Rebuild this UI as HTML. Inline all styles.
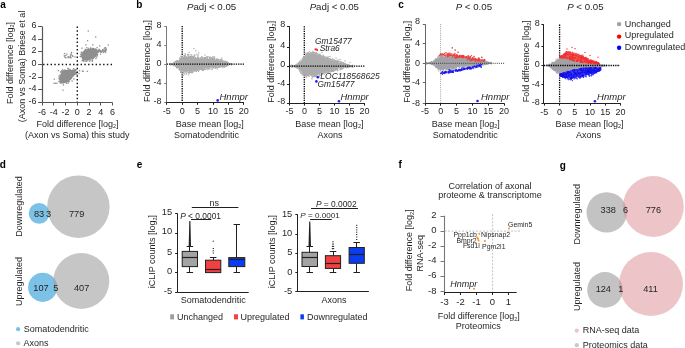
<!DOCTYPE html><html><head><meta charset="utf-8"><style>html,body{margin:0;padding:0;background:#fff;overflow:hidden}svg{display:block;will-change:transform}text{font-family:"Liberation Sans",sans-serif}</style></head><body><svg width="685" height="348" viewBox="0 0 685 348" font-family='"Liberation Sans", sans-serif'>
<rect width="685" height="348" fill="#fff"/>
<text x="0.20" y="8.00" font-size="10" text-anchor="start" font-weight="bold" fill="#000">a</text>
<text x="136.30" y="8.00" font-size="10" text-anchor="start" font-weight="bold" fill="#000">b</text>
<text x="398.20" y="8.20" font-size="10" text-anchor="start" font-weight="bold" fill="#000">c</text>
<text x="-0.30" y="168.00" font-size="10" text-anchor="start" font-weight="bold" fill="#000">d</text>
<text x="136.70" y="168.00" font-size="10" text-anchor="start" font-weight="bold" fill="#000">e</text>
<text x="398.60" y="168.00" font-size="10" text-anchor="start" font-weight="bold" fill="#000">f</text>
<text x="559.80" y="169.00" font-size="10" text-anchor="start" font-weight="bold" fill="#000">g</text>
<path d="M81.13,57.07 L82.60,53.20 L86.04,50.19 L90.77,49.33 L95.50,48.90 L98.08,51.05 L96.79,55.35 L92.49,58.79 L87.33,60.34 L82.60,60.08Z" fill="#8f8f8f"/>
<rect x="80.05" y="54.08" width="1.30" height="1.30" fill="#8f8f8f"/>
<rect x="87.62" y="47.67" width="1.30" height="1.30" fill="#8f8f8f"/>
<rect x="87.43" y="58.75" width="1.30" height="1.30" fill="#8f8f8f"/>
<rect x="84.72" y="48.76" width="1.30" height="1.30" fill="#8f8f8f"/>
<rect x="85.10" y="58.60" width="1.30" height="1.30" fill="#8f8f8f"/>
<rect x="89.92" y="47.57" width="1.30" height="1.30" fill="#8f8f8f"/>
<rect x="94.13" y="48.87" width="1.30" height="1.30" fill="#8f8f8f"/>
<rect x="94.28" y="55.04" width="1.30" height="1.30" fill="#8f8f8f"/>
<rect x="96.52" y="51.24" width="1.30" height="1.30" fill="#8f8f8f"/>
<rect x="94.36" y="48.54" width="1.30" height="1.30" fill="#8f8f8f"/>
<rect x="83.87" y="52.37" width="1.30" height="1.30" fill="#8f8f8f"/>
<rect x="96.29" y="50.73" width="1.30" height="1.30" fill="#8f8f8f"/>
<rect x="82.15" y="51.63" width="1.30" height="1.30" fill="#8f8f8f"/>
<rect x="91.25" y="48.82" width="1.30" height="1.30" fill="#8f8f8f"/>
<rect x="83.97" y="51.74" width="1.30" height="1.30" fill="#8f8f8f"/>
<rect x="84.22" y="58.78" width="1.30" height="1.30" fill="#8f8f8f"/>
<rect x="89.52" y="48.80" width="1.30" height="1.30" fill="#8f8f8f"/>
<rect x="84.14" y="52.02" width="1.30" height="1.30" fill="#8f8f8f"/>
<rect x="82.25" y="57.95" width="1.30" height="1.30" fill="#8f8f8f"/>
<rect x="89.61" y="58.05" width="1.30" height="1.30" fill="#8f8f8f"/>
<rect x="85.52" y="49.92" width="1.30" height="1.30" fill="#8f8f8f"/>
<rect x="86.05" y="47.07" width="1.30" height="1.30" fill="#8f8f8f"/>
<rect x="84.51" y="50.44" width="1.30" height="1.30" fill="#8f8f8f"/>
<rect x="86.23" y="49.88" width="1.30" height="1.30" fill="#8f8f8f"/>
<rect x="88.51" y="49.26" width="1.30" height="1.30" fill="#8f8f8f"/>
<rect x="95.52" y="49.74" width="1.30" height="1.30" fill="#8f8f8f"/>
<rect x="83.96" y="50.94" width="1.30" height="1.30" fill="#8f8f8f"/>
<rect x="81.52" y="59.97" width="1.30" height="1.30" fill="#8f8f8f"/>
<rect x="82.36" y="53.58" width="1.30" height="1.30" fill="#8f8f8f"/>
<rect x="90.07" y="58.13" width="1.30" height="1.30" fill="#8f8f8f"/>
<rect x="81.02" y="54.85" width="1.30" height="1.30" fill="#8f8f8f"/>
<rect x="82.00" y="57.13" width="1.30" height="1.30" fill="#8f8f8f"/>
<rect x="92.18" y="48.74" width="1.30" height="1.30" fill="#8f8f8f"/>
<rect x="85.71" y="49.52" width="1.30" height="1.30" fill="#8f8f8f"/>
<rect x="92.99" y="47.96" width="1.30" height="1.30" fill="#8f8f8f"/>
<rect x="97.55" y="50.57" width="1.30" height="1.30" fill="#8f8f8f"/>
<rect x="82.95" y="51.22" width="1.30" height="1.30" fill="#8f8f8f"/>
<rect x="88.96" y="49.25" width="1.30" height="1.30" fill="#8f8f8f"/>
<rect x="82.70" y="53.60" width="1.30" height="1.30" fill="#8f8f8f"/>
<rect x="95.69" y="52.40" width="1.30" height="1.30" fill="#8f8f8f"/>
<rect x="93.12" y="55.96" width="1.30" height="1.30" fill="#8f8f8f"/>
<rect x="83.76" y="50.94" width="1.30" height="1.30" fill="#8f8f8f"/>
<rect x="82.06" y="53.18" width="1.30" height="1.30" fill="#8f8f8f"/>
<rect x="89.01" y="49.59" width="1.30" height="1.30" fill="#8f8f8f"/>
<rect x="80.69" y="52.50" width="1.30" height="1.30" fill="#8f8f8f"/>
<rect x="94.00" y="56.28" width="1.30" height="1.30" fill="#8f8f8f"/>
<rect x="93.47" y="56.07" width="1.30" height="1.30" fill="#8f8f8f"/>
<rect x="91.52" y="57.39" width="1.30" height="1.30" fill="#8f8f8f"/>
<rect x="95.24" y="48.69" width="1.30" height="1.30" fill="#8f8f8f"/>
<rect x="92.66" y="57.88" width="1.30" height="1.30" fill="#8f8f8f"/>
<rect x="91.83" y="47.78" width="1.30" height="1.30" fill="#8f8f8f"/>
<rect x="92.42" y="56.78" width="1.30" height="1.30" fill="#8f8f8f"/>
<rect x="83.11" y="60.49" width="1.30" height="1.30" fill="#8f8f8f"/>
<rect x="90.60" y="48.73" width="1.30" height="1.30" fill="#8f8f8f"/>
<rect x="95.41" y="54.10" width="1.30" height="1.30" fill="#8f8f8f"/>
<rect x="96.97" y="53.77" width="1.30" height="1.30" fill="#8f8f8f"/>
<rect x="85.25" y="58.95" width="1.30" height="1.30" fill="#8f8f8f"/>
<rect x="97.04" y="50.89" width="1.30" height="1.30" fill="#8f8f8f"/>
<rect x="84.64" y="60.35" width="1.30" height="1.30" fill="#8f8f8f"/>
<rect x="82.71" y="52.12" width="1.30" height="1.30" fill="#8f8f8f"/>
<rect x="94.04" y="56.08" width="1.30" height="1.30" fill="#8f8f8f"/>
<rect x="81.45" y="53.56" width="1.30" height="1.30" fill="#8f8f8f"/>
<rect x="86.83" y="49.10" width="1.30" height="1.30" fill="#8f8f8f"/>
<rect x="83.07" y="59.91" width="1.30" height="1.30" fill="#8f8f8f"/>
<rect x="87.95" y="48.69" width="1.30" height="1.30" fill="#8f8f8f"/>
<rect x="80.71" y="51.66" width="1.30" height="1.30" fill="#8f8f8f"/>
<rect x="81.42" y="54.02" width="1.30" height="1.30" fill="#8f8f8f"/>
<rect x="91.57" y="59.28" width="1.30" height="1.30" fill="#8f8f8f"/>
<rect x="84.34" y="50.29" width="1.30" height="1.30" fill="#8f8f8f"/>
<rect x="96.47" y="46.97" width="1.30" height="1.30" fill="#8f8f8f"/>
<rect x="98.47" y="50.29" width="1.30" height="1.30" fill="#8f8f8f"/>
<rect x="81.99" y="54.30" width="1.30" height="1.30" fill="#8f8f8f"/>
<rect x="91.92" y="57.85" width="1.30" height="1.30" fill="#8f8f8f"/>
<rect x="92.96" y="48.29" width="1.30" height="1.30" fill="#8f8f8f"/>
<rect x="86.70" y="49.92" width="1.30" height="1.30" fill="#8f8f8f"/>
<rect x="96.69" y="53.61" width="1.30" height="1.30" fill="#8f8f8f"/>
<rect x="97.52" y="49.97" width="1.30" height="1.30" fill="#8f8f8f"/>
<rect x="92.63" y="49.55" width="1.30" height="1.30" fill="#8f8f8f"/>
<rect x="95.40" y="50.03" width="1.30" height="1.30" fill="#8f8f8f"/>
<rect x="86.81" y="49.77" width="1.30" height="1.30" fill="#8f8f8f"/>
<rect x="98.50" y="48.73" width="1.30" height="1.30" fill="#8f8f8f"/>
<rect x="97.65" y="51.47" width="1.30" height="1.30" fill="#8f8f8f"/>
<rect x="85.96" y="60.64" width="1.30" height="1.30" fill="#8f8f8f"/>
<rect x="97.40" y="49.48" width="1.30" height="1.30" fill="#8f8f8f"/>
<rect x="95.24" y="57.87" width="1.30" height="1.30" fill="#8f8f8f"/>
<rect x="96.98" y="51.61" width="1.30" height="1.30" fill="#8f8f8f"/>
<rect x="85.26" y="50.68" width="1.30" height="1.30" fill="#8f8f8f"/>
<rect x="91.65" y="60.46" width="1.30" height="1.30" fill="#8f8f8f"/>
<rect x="88.82" y="60.24" width="1.30" height="1.30" fill="#8f8f8f"/>
<rect x="94.45" y="55.54" width="1.30" height="1.30" fill="#8f8f8f"/>
<rect x="87.89" y="50.08" width="1.30" height="1.30" fill="#8f8f8f"/>
<rect x="92.46" y="57.60" width="1.30" height="1.30" fill="#8f8f8f"/>
<rect x="95.94" y="56.38" width="1.30" height="1.30" fill="#8f8f8f"/>
<rect x="83.87" y="50.24" width="1.30" height="1.30" fill="#8f8f8f"/>
<rect x="96.69" y="55.12" width="1.30" height="1.30" fill="#8f8f8f"/>
<rect x="83.54" y="58.48" width="1.30" height="1.30" fill="#8f8f8f"/>
<rect x="88.45" y="58.64" width="1.30" height="1.30" fill="#8f8f8f"/>
<rect x="86.38" y="59.33" width="1.30" height="1.30" fill="#8f8f8f"/>
<rect x="83.27" y="52.05" width="1.30" height="1.30" fill="#8f8f8f"/>
<rect x="92.55" y="49.36" width="1.30" height="1.30" fill="#8f8f8f"/>
<rect x="85.17" y="49.63" width="1.30" height="1.30" fill="#8f8f8f"/>
<rect x="89.92" y="47.58" width="1.30" height="1.30" fill="#8f8f8f"/>
<rect x="91.76" y="47.98" width="1.30" height="1.30" fill="#8f8f8f"/>
<rect x="84.59" y="51.15" width="1.30" height="1.30" fill="#8f8f8f"/>
<rect x="87.42" y="58.66" width="1.30" height="1.30" fill="#8f8f8f"/>
<rect x="87.07" y="59.57" width="1.30" height="1.30" fill="#8f8f8f"/>
<rect x="91.79" y="59.97" width="1.30" height="1.30" fill="#8f8f8f"/>
<rect x="89.05" y="48.79" width="1.30" height="1.30" fill="#8f8f8f"/>
<rect x="89.38" y="60.20" width="1.30" height="1.30" fill="#8f8f8f"/>
<rect x="88.76" y="58.43" width="1.30" height="1.30" fill="#8f8f8f"/>
<rect x="98.36" y="49.54" width="1.30" height="1.30" fill="#8f8f8f"/>
<rect x="82.11" y="58.15" width="1.30" height="1.30" fill="#8f8f8f"/>
<rect x="83.36" y="52.57" width="1.30" height="1.30" fill="#8f8f8f"/>
<rect x="83.28" y="52.50" width="1.30" height="1.30" fill="#8f8f8f"/>
<rect x="81.26" y="55.43" width="1.30" height="1.30" fill="#8f8f8f"/>
<rect x="88.74" y="50.09" width="1.30" height="1.30" fill="#8f8f8f"/>
<rect x="82.50" y="53.58" width="1.30" height="1.30" fill="#8f8f8f"/>
<rect x="79.71" y="55.97" width="1.30" height="1.30" fill="#8f8f8f"/>
<rect x="82.08" y="59.77" width="1.30" height="1.30" fill="#8f8f8f"/>
<rect x="95.31" y="48.75" width="1.30" height="1.30" fill="#8f8f8f"/>
<rect x="102.89" y="51.29" width="1.20" height="1.20" fill="#8f8f8f"/>
<rect x="99.62" y="51.31" width="1.20" height="1.20" fill="#8f8f8f"/>
<rect x="103.58" y="49.94" width="1.20" height="1.20" fill="#8f8f8f"/>
<rect x="105.06" y="51.72" width="1.20" height="1.20" fill="#8f8f8f"/>
<rect x="104.79" y="50.59" width="1.20" height="1.20" fill="#8f8f8f"/>
<rect x="99.86" y="50.02" width="1.20" height="1.20" fill="#8f8f8f"/>
<rect x="103.62" y="48.09" width="1.20" height="1.20" fill="#8f8f8f"/>
<rect x="99.68" y="50.07" width="1.20" height="1.20" fill="#8f8f8f"/>
<rect x="102.03" y="49.04" width="1.20" height="1.20" fill="#8f8f8f"/>
<rect x="105.23" y="48.86" width="1.20" height="1.20" fill="#8f8f8f"/>
<rect x="99.91" y="53.51" width="1.20" height="1.20" fill="#8f8f8f"/>
<rect x="100.53" y="51.36" width="1.20" height="1.20" fill="#8f8f8f"/>
<rect x="101.67" y="49.95" width="1.20" height="1.20" fill="#8f8f8f"/>
<rect x="102.31" y="49.03" width="1.20" height="1.20" fill="#8f8f8f"/>
<rect x="98.16" y="50.66" width="1.20" height="1.20" fill="#8f8f8f"/>
<rect x="101.88" y="50.51" width="1.20" height="1.20" fill="#8f8f8f"/>
<rect x="103.41" y="49.97" width="1.20" height="1.20" fill="#8f8f8f"/>
<rect x="99.41" y="50.22" width="1.20" height="1.20" fill="#8f8f8f"/>
<rect x="103.48" y="50.65" width="1.20" height="1.20" fill="#8f8f8f"/>
<rect x="101.48" y="50.28" width="1.20" height="1.20" fill="#8f8f8f"/>
<rect x="104.32" y="49.40" width="1.20" height="1.20" fill="#8f8f8f"/>
<rect x="104.17" y="50.45" width="1.20" height="1.20" fill="#8f8f8f"/>
<rect x="103.26" y="52.09" width="1.20" height="1.20" fill="#8f8f8f"/>
<rect x="100.20" y="50.50" width="1.20" height="1.20" fill="#8f8f8f"/>
<rect x="99.32" y="50.11" width="1.20" height="1.20" fill="#8f8f8f"/>
<rect x="102.31" y="51.21" width="1.20" height="1.20" fill="#8f8f8f"/>
<rect x="105.43" y="50.31" width="1.20" height="1.20" fill="#8f8f8f"/>
<rect x="104.22" y="47.22" width="1.20" height="1.20" fill="#8f8f8f"/>
<rect x="100.53" y="51.76" width="1.20" height="1.20" fill="#8f8f8f"/>
<rect x="105.67" y="48.99" width="1.20" height="1.20" fill="#8f8f8f"/>
<rect x="99.47" y="50.81" width="1.20" height="1.20" fill="#8f8f8f"/>
<rect x="99.66" y="49.86" width="1.20" height="1.20" fill="#8f8f8f"/>
<rect x="105.38" y="47.84" width="1.20" height="1.20" fill="#8f8f8f"/>
<rect x="105.16" y="49.60" width="1.20" height="1.20" fill="#8f8f8f"/>
<rect x="100.58" y="51.67" width="1.20" height="1.20" fill="#8f8f8f"/>
<path d="M63.28,70.28 L75.37,69.72 L75.55,72.79 L71.65,77.91 L67.46,82.09 L62.81,83.67 L59.37,81.16 L60.02,75.58Z" fill="#8f8f8f"/>
<rect x="58.25" y="80.83" width="1.30" height="1.30" fill="#8f8f8f"/>
<rect x="71.56" y="75.45" width="1.30" height="1.30" fill="#8f8f8f"/>
<rect x="71.50" y="75.23" width="1.30" height="1.30" fill="#8f8f8f"/>
<rect x="65.57" y="80.99" width="1.30" height="1.30" fill="#8f8f8f"/>
<rect x="74.18" y="73.11" width="1.30" height="1.30" fill="#8f8f8f"/>
<rect x="63.80" y="69.90" width="1.30" height="1.30" fill="#8f8f8f"/>
<rect x="58.39" y="77.60" width="1.30" height="1.30" fill="#8f8f8f"/>
<rect x="75.42" y="69.31" width="1.30" height="1.30" fill="#8f8f8f"/>
<rect x="61.09" y="72.94" width="1.30" height="1.30" fill="#8f8f8f"/>
<rect x="65.58" y="80.73" width="1.30" height="1.30" fill="#8f8f8f"/>
<rect x="73.83" y="69.03" width="1.30" height="1.30" fill="#8f8f8f"/>
<rect x="75.41" y="72.34" width="1.30" height="1.30" fill="#8f8f8f"/>
<rect x="70.68" y="76.02" width="1.30" height="1.30" fill="#8f8f8f"/>
<rect x="59.25" y="78.39" width="1.30" height="1.30" fill="#8f8f8f"/>
<rect x="74.25" y="71.48" width="1.30" height="1.30" fill="#8f8f8f"/>
<rect x="71.50" y="70.38" width="1.30" height="1.30" fill="#8f8f8f"/>
<rect x="65.62" y="80.74" width="1.30" height="1.30" fill="#8f8f8f"/>
<rect x="68.35" y="69.63" width="1.30" height="1.30" fill="#8f8f8f"/>
<rect x="66.07" y="82.65" width="1.30" height="1.30" fill="#8f8f8f"/>
<rect x="60.83" y="72.64" width="1.30" height="1.30" fill="#8f8f8f"/>
<rect x="67.24" y="70.23" width="1.30" height="1.30" fill="#8f8f8f"/>
<rect x="63.48" y="70.72" width="1.30" height="1.30" fill="#8f8f8f"/>
<rect x="69.48" y="69.30" width="1.30" height="1.30" fill="#8f8f8f"/>
<rect x="59.87" y="77.83" width="1.30" height="1.30" fill="#8f8f8f"/>
<rect x="71.64" y="74.69" width="1.30" height="1.30" fill="#8f8f8f"/>
<rect x="69.30" y="69.15" width="1.30" height="1.30" fill="#8f8f8f"/>
<rect x="72.20" y="74.14" width="1.30" height="1.30" fill="#8f8f8f"/>
<rect x="67.65" y="70.23" width="1.30" height="1.30" fill="#8f8f8f"/>
<rect x="59.08" y="77.33" width="1.30" height="1.30" fill="#8f8f8f"/>
<rect x="71.02" y="76.26" width="1.30" height="1.30" fill="#8f8f8f"/>
<rect x="71.90" y="69.57" width="1.30" height="1.30" fill="#8f8f8f"/>
<rect x="76.20" y="73.57" width="1.30" height="1.30" fill="#8f8f8f"/>
<rect x="62.26" y="71.32" width="1.30" height="1.30" fill="#8f8f8f"/>
<rect x="61.36" y="81.22" width="1.30" height="1.30" fill="#8f8f8f"/>
<rect x="59.63" y="80.79" width="1.30" height="1.30" fill="#8f8f8f"/>
<rect x="59.55" y="81.77" width="1.30" height="1.30" fill="#8f8f8f"/>
<rect x="73.61" y="72.06" width="1.30" height="1.30" fill="#8f8f8f"/>
<rect x="65.38" y="70.66" width="1.30" height="1.30" fill="#8f8f8f"/>
<rect x="61.87" y="72.65" width="1.30" height="1.30" fill="#8f8f8f"/>
<rect x="69.47" y="78.78" width="1.30" height="1.30" fill="#8f8f8f"/>
<rect x="72.32" y="69.88" width="1.30" height="1.30" fill="#8f8f8f"/>
<rect x="73.23" y="78.33" width="1.30" height="1.30" fill="#8f8f8f"/>
<rect x="61.97" y="69.21" width="1.30" height="1.30" fill="#8f8f8f"/>
<rect x="63.83" y="70.09" width="1.30" height="1.30" fill="#8f8f8f"/>
<rect x="70.55" y="76.57" width="1.30" height="1.30" fill="#8f8f8f"/>
<rect x="71.50" y="74.99" width="1.30" height="1.30" fill="#8f8f8f"/>
<rect x="58.25" y="75.48" width="1.30" height="1.30" fill="#8f8f8f"/>
<rect x="67.58" y="82.27" width="1.30" height="1.30" fill="#8f8f8f"/>
<rect x="69.47" y="78.38" width="1.30" height="1.30" fill="#8f8f8f"/>
<rect x="73.82" y="73.75" width="1.30" height="1.30" fill="#8f8f8f"/>
<rect x="67.31" y="80.69" width="1.30" height="1.30" fill="#8f8f8f"/>
<rect x="73.14" y="72.49" width="1.30" height="1.30" fill="#8f8f8f"/>
<rect x="73.16" y="74.40" width="1.30" height="1.30" fill="#8f8f8f"/>
<rect x="68.49" y="78.36" width="1.30" height="1.30" fill="#8f8f8f"/>
<rect x="69.07" y="78.22" width="1.30" height="1.30" fill="#8f8f8f"/>
<rect x="70.62" y="77.70" width="1.30" height="1.30" fill="#8f8f8f"/>
<rect x="65.99" y="80.55" width="1.30" height="1.30" fill="#8f8f8f"/>
<rect x="64.27" y="81.58" width="1.30" height="1.30" fill="#8f8f8f"/>
<rect x="68.12" y="68.15" width="1.30" height="1.30" fill="#8f8f8f"/>
<rect x="59.10" y="78.52" width="1.30" height="1.30" fill="#8f8f8f"/>
<rect x="61.23" y="70.07" width="1.30" height="1.30" fill="#8f8f8f"/>
<rect x="58.75" y="78.25" width="1.30" height="1.30" fill="#8f8f8f"/>
<rect x="60.34" y="82.24" width="1.30" height="1.30" fill="#8f8f8f"/>
<rect x="59.93" y="81.15" width="1.30" height="1.30" fill="#8f8f8f"/>
<rect x="64.60" y="80.96" width="1.30" height="1.30" fill="#8f8f8f"/>
<rect x="70.39" y="77.79" width="1.30" height="1.30" fill="#8f8f8f"/>
<rect x="74.83" y="73.42" width="1.30" height="1.30" fill="#8f8f8f"/>
<rect x="67.85" y="81.15" width="1.30" height="1.30" fill="#8f8f8f"/>
<rect x="68.88" y="79.09" width="1.30" height="1.30" fill="#8f8f8f"/>
<rect x="72.46" y="75.36" width="1.30" height="1.30" fill="#8f8f8f"/>
<rect x="64.37" y="69.29" width="1.30" height="1.30" fill="#8f8f8f"/>
<rect x="72.38" y="70.15" width="1.30" height="1.30" fill="#8f8f8f"/>
<rect x="67.19" y="67.82" width="1.30" height="1.30" fill="#8f8f8f"/>
<rect x="72.22" y="74.78" width="1.30" height="1.30" fill="#8f8f8f"/>
<rect x="75.79" y="71.83" width="1.30" height="1.30" fill="#8f8f8f"/>
<rect x="61.02" y="70.57" width="1.30" height="1.30" fill="#8f8f8f"/>
<rect x="65.81" y="70.21" width="1.30" height="1.30" fill="#8f8f8f"/>
<rect x="59.93" y="80.42" width="1.30" height="1.30" fill="#8f8f8f"/>
<rect x="68.58" y="80.47" width="1.30" height="1.30" fill="#8f8f8f"/>
<rect x="59.53" y="75.73" width="1.30" height="1.30" fill="#8f8f8f"/>
<rect x="60.39" y="71.56" width="1.30" height="1.30" fill="#8f8f8f"/>
<rect x="74.34" y="69.87" width="1.30" height="1.30" fill="#8f8f8f"/>
<rect x="63.71" y="81.59" width="1.30" height="1.30" fill="#8f8f8f"/>
<rect x="59.89" y="71.27" width="1.30" height="1.30" fill="#8f8f8f"/>
<rect x="70.95" y="76.96" width="1.30" height="1.30" fill="#8f8f8f"/>
<rect x="59.92" y="82.40" width="1.30" height="1.30" fill="#8f8f8f"/>
<rect x="65.10" y="70.14" width="1.30" height="1.30" fill="#8f8f8f"/>
<rect x="62.37" y="81.87" width="1.30" height="1.30" fill="#8f8f8f"/>
<rect x="63.60" y="70.35" width="1.30" height="1.30" fill="#8f8f8f"/>
<rect x="74.62" y="69.43" width="1.30" height="1.30" fill="#8f8f8f"/>
<rect x="62.12" y="70.93" width="1.30" height="1.30" fill="#8f8f8f"/>
<rect x="75.05" y="69.14" width="1.30" height="1.30" fill="#8f8f8f"/>
<rect x="62.81" y="84.26" width="1.30" height="1.30" fill="#8f8f8f"/>
<rect x="72.76" y="73.32" width="1.30" height="1.30" fill="#8f8f8f"/>
<rect x="68.19" y="69.84" width="1.30" height="1.30" fill="#8f8f8f"/>
<rect x="60.61" y="80.68" width="1.30" height="1.30" fill="#8f8f8f"/>
<rect x="74.02" y="72.04" width="1.30" height="1.30" fill="#8f8f8f"/>
<rect x="60.73" y="81.73" width="1.30" height="1.30" fill="#8f8f8f"/>
<rect x="64.23" y="70.28" width="1.30" height="1.30" fill="#8f8f8f"/>
<rect x="67.11" y="69.54" width="1.30" height="1.30" fill="#8f8f8f"/>
<rect x="72.96" y="67.99" width="1.30" height="1.30" fill="#8f8f8f"/>
<rect x="67.25" y="79.52" width="1.30" height="1.30" fill="#8f8f8f"/>
<rect x="59.48" y="74.43" width="1.30" height="1.30" fill="#8f8f8f"/>
<rect x="68.22" y="80.28" width="1.30" height="1.30" fill="#8f8f8f"/>
<rect x="65.27" y="81.87" width="1.30" height="1.30" fill="#8f8f8f"/>
<rect x="61.78" y="73.22" width="1.30" height="1.30" fill="#8f8f8f"/>
<rect x="75.23" y="71.75" width="1.30" height="1.30" fill="#8f8f8f"/>
<rect x="75.55" y="72.40" width="1.30" height="1.30" fill="#8f8f8f"/>
<rect x="69.67" y="69.54" width="1.30" height="1.30" fill="#8f8f8f"/>
<rect x="67.47" y="70.02" width="1.30" height="1.30" fill="#8f8f8f"/>
<rect x="69.69" y="55.62" width="1.40" height="1.40" fill="#8f8f8f"/>
<rect x="67.55" y="56.81" width="1.40" height="1.40" fill="#8f8f8f"/>
<rect x="67.84" y="56.40" width="1.40" height="1.40" fill="#8f8f8f"/>
<rect x="72.14" y="55.65" width="1.40" height="1.40" fill="#8f8f8f"/>
<rect x="70.60" y="53.31" width="1.40" height="1.40" fill="#8f8f8f"/>
<rect x="63.63" y="55.13" width="1.40" height="1.40" fill="#8f8f8f"/>
<rect x="70.26" y="57.13" width="1.40" height="1.40" fill="#8f8f8f"/>
<rect x="64.13" y="56.36" width="1.40" height="1.40" fill="#8f8f8f"/>
<rect x="65.19" y="54.73" width="1.40" height="1.40" fill="#8f8f8f"/>
<rect x="67.49" y="56.40" width="1.40" height="1.40" fill="#8f8f8f"/>
<rect x="69.28" y="56.82" width="1.40" height="1.40" fill="#8f8f8f"/>
<rect x="65.08" y="57.05" width="1.40" height="1.40" fill="#8f8f8f"/>
<rect x="71.53" y="54.91" width="1.40" height="1.40" fill="#8f8f8f"/>
<rect x="69.83" y="54.27" width="1.40" height="1.40" fill="#8f8f8f"/>
<rect x="87.65" y="30.35" width="1.3" height="1.3" fill="#8f8f8f"/>
<rect x="95.05" y="36.35" width="1.3" height="1.3" fill="#8f8f8f"/>
<rect x="86.95" y="40.05" width="1.3" height="1.3" fill="#8f8f8f"/>
<rect x="85.25" y="44.15" width="1.3" height="1.3" fill="#8f8f8f"/>
<rect x="92.15" y="44.15" width="1.3" height="1.3" fill="#8f8f8f"/>
<rect x="99.05" y="45.25" width="1.3" height="1.3" fill="#8f8f8f"/>
<rect x="107.65" y="44.45" width="1.3" height="1.3" fill="#8f8f8f"/>
<rect x="104.85" y="46.95" width="1.3" height="1.3" fill="#8f8f8f"/>
<rect x="81.25" y="47.55" width="1.3" height="1.3" fill="#8f8f8f"/>
<rect x="82.55" y="70.65" width="1.3" height="1.3" fill="#8f8f8f"/>
<rect x="86.65" y="70.65" width="1.3" height="1.3" fill="#8f8f8f"/>
<rect x="78.95" y="69.95" width="1.3" height="1.3" fill="#8f8f8f"/>
<rect x="81.85" y="70.55" width="1.3" height="1.3" fill="#8f8f8f"/>
<rect x="78.35" y="72.85" width="1.3" height="1.3" fill="#8f8f8f"/>
<rect x="62.35" y="89.55" width="1.3" height="1.3" fill="#8f8f8f"/>
<rect x="53.65" y="78.55" width="1.3" height="1.3" fill="#8f8f8f"/>
<rect x="53.35" y="82.65" width="1.3" height="1.3" fill="#8f8f8f"/>
<rect x="54.85" y="82.65" width="1.3" height="1.3" fill="#8f8f8f"/>
<rect x="56.35" y="82.65" width="1.3" height="1.3" fill="#8f8f8f"/>
<rect x="57.65" y="69.95" width="1.3" height="1.3" fill="#8f8f8f"/>
<rect x="71.45" y="80.35" width="1.3" height="1.3" fill="#8f8f8f"/>
<rect x="63.85" y="52.85" width="1.3" height="1.3" fill="#8f8f8f"/>
<rect x="66.35" y="53.35" width="1.3" height="1.3" fill="#8f8f8f"/>
<rect x="70.85" y="51.85" width="1.3" height="1.3" fill="#8f8f8f"/>
<rect x="74.35" y="56.35" width="1.3" height="1.3" fill="#8f8f8f"/>
<line x1="43.10" y1="64.50" x2="112.50" y2="64.50" stroke="#111" stroke-width="1.4" stroke-dasharray="1.4 2.35"/>
<line x1="77.30" y1="26.50" x2="77.30" y2="102.50" stroke="#111" stroke-width="1.4" stroke-dasharray="1.4 2.35"/>
<line x1="42.50" y1="26.50" x2="42.50" y2="102.50" stroke="#555" stroke-width="1.2"/>
<line x1="38.10" y1="26.50" x2="42.10" y2="26.50" stroke="#555" stroke-width="1"/>
<text x="36.50" y="27.90" font-size="9" text-anchor="end" font-weight="normal" fill="#231f20">6</text>
<line x1="38.10" y1="39.50" x2="42.10" y2="39.50" stroke="#555" stroke-width="1"/>
<text x="36.50" y="40.57" font-size="9" text-anchor="end" font-weight="normal" fill="#231f20">4</text>
<line x1="38.10" y1="51.50" x2="42.10" y2="51.50" stroke="#555" stroke-width="1"/>
<text x="36.50" y="53.23" font-size="9" text-anchor="end" font-weight="normal" fill="#231f20">2</text>
<line x1="38.10" y1="64.50" x2="42.10" y2="64.50" stroke="#555" stroke-width="1"/>
<text x="36.50" y="65.90" font-size="9" text-anchor="end" font-weight="normal" fill="#231f20">0</text>
<line x1="38.10" y1="77.50" x2="42.10" y2="77.50" stroke="#555" stroke-width="1"/>
<text x="36.50" y="78.57" font-size="9" text-anchor="end" font-weight="normal" fill="#231f20">-2</text>
<line x1="38.10" y1="89.50" x2="42.10" y2="89.50" stroke="#555" stroke-width="1"/>
<text x="36.50" y="91.23" font-size="9" text-anchor="end" font-weight="normal" fill="#231f20">-4</text>
<line x1="38.10" y1="102.50" x2="42.10" y2="102.50" stroke="#555" stroke-width="1"/>
<text x="36.50" y="103.90" font-size="9" text-anchor="end" font-weight="normal" fill="#231f20">-6</text>
<line x1="42.10" y1="102.50" x2="112.50" y2="102.50" stroke="#555" stroke-width="1.2"/>
<line x1="42.50" y1="102.50" x2="42.50" y2="105.50" stroke="#555" stroke-width="1"/>
<text x="42.10" y="115.30" font-size="9" text-anchor="middle" font-weight="normal" fill="#231f20">-6</text>
<line x1="53.50" y1="102.50" x2="53.50" y2="105.50" stroke="#555" stroke-width="1"/>
<text x="53.83" y="115.30" font-size="9" text-anchor="middle" font-weight="normal" fill="#231f20">-4</text>
<line x1="65.50" y1="102.50" x2="65.50" y2="105.50" stroke="#555" stroke-width="1"/>
<text x="65.57" y="115.30" font-size="9" text-anchor="middle" font-weight="normal" fill="#231f20">-2</text>
<line x1="77.50" y1="102.50" x2="77.50" y2="105.50" stroke="#555" stroke-width="1"/>
<text x="77.30" y="115.30" font-size="9" text-anchor="middle" font-weight="normal" fill="#231f20">0</text>
<line x1="89.50" y1="102.50" x2="89.50" y2="105.50" stroke="#555" stroke-width="1"/>
<text x="89.03" y="115.30" font-size="9" text-anchor="middle" font-weight="normal" fill="#231f20">2</text>
<line x1="100.50" y1="102.50" x2="100.50" y2="105.50" stroke="#555" stroke-width="1"/>
<text x="100.77" y="115.30" font-size="9" text-anchor="middle" font-weight="normal" fill="#231f20">4</text>
<line x1="112.50" y1="102.50" x2="112.50" y2="105.50" stroke="#555" stroke-width="1"/>
<text x="112.50" y="115.30" font-size="9" text-anchor="middle" font-weight="normal" fill="#231f20">6</text>
<text x="77.50" y="126.50" font-size="9" text-anchor="middle" font-weight="normal" fill="#231f20">Fold difference [log<tspan font-size="5.5" dy="1.8">2</tspan><tspan dy="-1.8">]</tspan></text>
<text x="77.20" y="137.50" font-size="9" text-anchor="middle" font-weight="normal" fill="#231f20">(Axon vs Soma) this study</text>
<text x="12.60" y="63.00" font-size="9" text-anchor="middle" font-weight="normal" fill="#231f20" transform="rotate(-90 12.60 63.00)">Fold difference [log<tspan font-size="5.5" dy="1.8">2</tspan><tspan dy="-1.8">]</tspan></text>
<text x="25.20" y="66.40" font-size="9" text-anchor="middle" font-weight="normal" fill="#231f20" transform="rotate(-90 25.20 66.40)">(Axon vs Soma) Briese et al</text>
<line x1="182.20" y1="26.00" x2="182.20" y2="102.30" stroke="#000" stroke-width="1.3" stroke-dasharray="1.3 1.0"/>
<path d="M170.10,65.20 L177.30,61.60 L181.60,57.30 L185.90,56.80 L191.60,57.30 L200.30,58.30 L210.30,59.00 L220.40,60.40 L227.60,62.60 L231.90,65.20 L231.90,63.20 L227.60,65.20 L220.40,66.30 L210.30,67.80 L200.30,69.20 L191.60,70.90 L185.90,72.10 L181.60,71.30 L177.30,67.00 L170.10,63.20Z" fill="#ababab"/>
<rect x="203.95" y="57.27" width="1.10" height="1.10" fill="#ababab"/>
<rect x="187.81" y="74.50" width="1.10" height="1.10" fill="#ababab"/>
<rect x="179.35" y="57.56" width="1.10" height="1.10" fill="#ababab"/>
<rect x="173.38" y="62.43" width="1.10" height="1.10" fill="#ababab"/>
<rect x="196.74" y="69.90" width="1.10" height="1.10" fill="#ababab"/>
<rect x="228.84" y="63.94" width="1.10" height="1.10" fill="#ababab"/>
<rect x="179.10" y="57.62" width="1.10" height="1.10" fill="#ababab"/>
<rect x="207.64" y="68.89" width="1.10" height="1.10" fill="#ababab"/>
<rect x="220.30" y="65.77" width="1.10" height="1.10" fill="#ababab"/>
<rect x="216.50" y="57.93" width="1.10" height="1.10" fill="#ababab"/>
<rect x="218.06" y="66.39" width="1.10" height="1.10" fill="#ababab"/>
<rect x="223.37" y="60.76" width="1.10" height="1.10" fill="#ababab"/>
<rect x="216.87" y="68.44" width="1.10" height="1.10" fill="#ababab"/>
<rect x="204.90" y="58.07" width="1.10" height="1.10" fill="#ababab"/>
<rect x="217.98" y="66.67" width="1.10" height="1.10" fill="#ababab"/>
<rect x="197.50" y="56.76" width="1.10" height="1.10" fill="#ababab"/>
<rect x="214.24" y="58.14" width="1.10" height="1.10" fill="#ababab"/>
<rect x="193.31" y="56.04" width="1.10" height="1.10" fill="#ababab"/>
<rect x="218.19" y="66.90" width="1.10" height="1.10" fill="#ababab"/>
<rect x="180.93" y="56.86" width="1.10" height="1.10" fill="#ababab"/>
<rect x="178.51" y="68.62" width="1.10" height="1.10" fill="#ababab"/>
<rect x="226.42" y="61.75" width="1.10" height="1.10" fill="#ababab"/>
<rect x="221.67" y="65.93" width="1.10" height="1.10" fill="#ababab"/>
<rect x="195.90" y="69.61" width="1.10" height="1.10" fill="#ababab"/>
<rect x="170.21" y="64.25" width="1.10" height="1.10" fill="#ababab"/>
<rect x="226.43" y="64.97" width="1.10" height="1.10" fill="#ababab"/>
<rect x="202.83" y="69.66" width="1.10" height="1.10" fill="#ababab"/>
<rect x="211.90" y="58.61" width="1.10" height="1.10" fill="#ababab"/>
<rect x="191.66" y="71.96" width="1.10" height="1.10" fill="#ababab"/>
<rect x="211.36" y="69.03" width="1.10" height="1.10" fill="#ababab"/>
<rect x="175.67" y="60.94" width="1.10" height="1.10" fill="#ababab"/>
<rect x="205.03" y="68.79" width="1.10" height="1.10" fill="#ababab"/>
<rect x="229.15" y="63.02" width="1.10" height="1.10" fill="#ababab"/>
<rect x="231.11" y="64.49" width="1.10" height="1.10" fill="#ababab"/>
<rect x="202.31" y="68.79" width="1.10" height="1.10" fill="#ababab"/>
<rect x="230.02" y="63.38" width="1.10" height="1.10" fill="#ababab"/>
<rect x="201.23" y="56.41" width="1.10" height="1.10" fill="#ababab"/>
<rect x="220.26" y="66.41" width="1.10" height="1.10" fill="#ababab"/>
<rect x="224.44" y="60.99" width="1.10" height="1.10" fill="#ababab"/>
<rect x="201.17" y="69.28" width="1.10" height="1.10" fill="#ababab"/>
<rect x="181.18" y="55.62" width="1.10" height="1.10" fill="#ababab"/>
<rect x="191.38" y="71.48" width="1.10" height="1.10" fill="#ababab"/>
<rect x="208.89" y="56.75" width="1.10" height="1.10" fill="#ababab"/>
<rect x="188.51" y="72.00" width="1.10" height="1.10" fill="#ababab"/>
<rect x="169.79" y="64.51" width="1.10" height="1.10" fill="#ababab"/>
<rect x="210.84" y="57.43" width="1.10" height="1.10" fill="#ababab"/>
<rect x="200.32" y="68.74" width="1.10" height="1.10" fill="#ababab"/>
<rect x="202.40" y="70.00" width="1.10" height="1.10" fill="#ababab"/>
<rect x="205.05" y="57.62" width="1.10" height="1.10" fill="#ababab"/>
<rect x="216.49" y="59.03" width="1.10" height="1.10" fill="#ababab"/>
<rect x="175.74" y="60.39" width="1.10" height="1.10" fill="#ababab"/>
<rect x="207.43" y="67.87" width="1.10" height="1.10" fill="#ababab"/>
<rect x="173.39" y="62.69" width="1.10" height="1.10" fill="#ababab"/>
<rect x="213.77" y="58.16" width="1.10" height="1.10" fill="#ababab"/>
<rect x="180.02" y="55.67" width="1.10" height="1.10" fill="#ababab"/>
<rect x="205.53" y="56.68" width="1.10" height="1.10" fill="#ababab"/>
<rect x="197.35" y="55.10" width="1.10" height="1.10" fill="#ababab"/>
<rect x="205.56" y="68.66" width="1.10" height="1.10" fill="#ababab"/>
<rect x="196.72" y="69.24" width="1.10" height="1.10" fill="#ababab"/>
<rect x="227.07" y="64.78" width="1.10" height="1.10" fill="#ababab"/>
<rect x="189.00" y="71.19" width="1.10" height="1.10" fill="#ababab"/>
<rect x="206.79" y="68.55" width="1.10" height="1.10" fill="#ababab"/>
<rect x="200.18" y="68.64" width="1.10" height="1.10" fill="#ababab"/>
<rect x="213.95" y="58.08" width="1.10" height="1.10" fill="#ababab"/>
<rect x="188.66" y="72.97" width="1.10" height="1.10" fill="#ababab"/>
<rect x="184.59" y="56.13" width="1.10" height="1.10" fill="#ababab"/>
<rect x="191.70" y="55.85" width="1.10" height="1.10" fill="#ababab"/>
<rect x="204.25" y="57.89" width="1.10" height="1.10" fill="#ababab"/>
<rect x="202.54" y="57.58" width="1.10" height="1.10" fill="#ababab"/>
<rect x="177.17" y="67.04" width="1.10" height="1.10" fill="#ababab"/>
<rect x="191.26" y="56.42" width="1.10" height="1.10" fill="#ababab"/>
<rect x="184.21" y="55.47" width="1.10" height="1.10" fill="#ababab"/>
<rect x="210.60" y="57.65" width="1.10" height="1.10" fill="#ababab"/>
<rect x="175.27" y="61.02" width="1.10" height="1.10" fill="#ababab"/>
<rect x="221.15" y="58.95" width="1.10" height="1.10" fill="#ababab"/>
<rect x="219.30" y="59.24" width="1.10" height="1.10" fill="#ababab"/>
<rect x="191.36" y="72.45" width="1.10" height="1.10" fill="#ababab"/>
<rect x="182.41" y="73.12" width="1.10" height="1.10" fill="#ababab"/>
<rect x="200.75" y="57.21" width="1.10" height="1.10" fill="#ababab"/>
<rect x="213.21" y="58.78" width="1.10" height="1.10" fill="#ababab"/>
<rect x="225.15" y="65.22" width="1.10" height="1.10" fill="#ababab"/>
<rect x="207.14" y="57.64" width="1.10" height="1.10" fill="#ababab"/>
<rect x="223.46" y="60.18" width="1.10" height="1.10" fill="#ababab"/>
<rect x="186.26" y="71.48" width="1.10" height="1.10" fill="#ababab"/>
<rect x="193.33" y="70.85" width="1.10" height="1.10" fill="#ababab"/>
<rect x="193.65" y="56.62" width="1.10" height="1.10" fill="#ababab"/>
<rect x="180.49" y="70.96" width="1.10" height="1.10" fill="#ababab"/>
<rect x="176.28" y="67.12" width="1.10" height="1.10" fill="#ababab"/>
<rect x="191.89" y="70.31" width="1.10" height="1.10" fill="#ababab"/>
<rect x="188.79" y="56.13" width="1.10" height="1.10" fill="#ababab"/>
<rect x="177.34" y="67.22" width="1.10" height="1.10" fill="#ababab"/>
<rect x="225.72" y="65.37" width="1.10" height="1.10" fill="#ababab"/>
<rect x="224.10" y="65.42" width="1.10" height="1.10" fill="#ababab"/>
<rect x="171.38" y="63.73" width="1.10" height="1.10" fill="#ababab"/>
<rect x="210.56" y="57.24" width="1.10" height="1.10" fill="#ababab"/>
<rect x="212.76" y="58.11" width="1.10" height="1.10" fill="#ababab"/>
<rect x="221.88" y="60.16" width="1.10" height="1.10" fill="#ababab"/>
<rect x="176.67" y="66.74" width="1.10" height="1.10" fill="#ababab"/>
<rect x="214.91" y="66.74" width="1.10" height="1.10" fill="#ababab"/>
<rect x="179.56" y="58.15" width="1.10" height="1.10" fill="#ababab"/>
<rect x="188.28" y="55.50" width="1.10" height="1.10" fill="#ababab"/>
<rect x="209.00" y="58.17" width="1.10" height="1.10" fill="#ababab"/>
<rect x="221.43" y="65.62" width="1.10" height="1.10" fill="#ababab"/>
<rect x="196.43" y="70.20" width="1.10" height="1.10" fill="#ababab"/>
<rect x="191.12" y="55.71" width="1.10" height="1.10" fill="#ababab"/>
<rect x="187.25" y="54.62" width="1.10" height="1.10" fill="#ababab"/>
<rect x="222.34" y="65.85" width="1.10" height="1.10" fill="#ababab"/>
<rect x="176.42" y="66.43" width="1.10" height="1.10" fill="#ababab"/>
<rect x="182.54" y="71.03" width="1.10" height="1.10" fill="#ababab"/>
<rect x="212.48" y="58.40" width="1.10" height="1.10" fill="#ababab"/>
<rect x="215.75" y="66.44" width="1.10" height="1.10" fill="#ababab"/>
<rect x="228.04" y="62.49" width="1.10" height="1.10" fill="#ababab"/>
<rect x="227.04" y="64.71" width="1.10" height="1.10" fill="#ababab"/>
<rect x="208.37" y="56.27" width="1.10" height="1.10" fill="#ababab"/>
<rect x="172.91" y="64.79" width="1.10" height="1.10" fill="#ababab"/>
<rect x="226.91" y="61.76" width="1.10" height="1.10" fill="#ababab"/>
<rect x="216.64" y="58.94" width="1.10" height="1.10" fill="#ababab"/>
<rect x="185.69" y="73.56" width="1.10" height="1.10" fill="#ababab"/>
<rect x="229.46" y="63.68" width="1.10" height="1.10" fill="#ababab"/>
<rect x="173.22" y="62.74" width="1.10" height="1.10" fill="#ababab"/>
<rect x="194.99" y="56.96" width="1.10" height="1.10" fill="#ababab"/>
<rect x="213.24" y="67.22" width="1.10" height="1.10" fill="#ababab"/>
<rect x="184.25" y="55.08" width="1.10" height="1.10" fill="#ababab"/>
<rect x="227.39" y="62.21" width="1.10" height="1.10" fill="#ababab"/>
<rect x="188.05" y="71.95" width="1.10" height="1.10" fill="#ababab"/>
<rect x="190.16" y="71.74" width="1.10" height="1.10" fill="#ababab"/>
<rect x="203.43" y="69.00" width="1.10" height="1.10" fill="#ababab"/>
<rect x="206.55" y="56.74" width="1.10" height="1.10" fill="#ababab"/>
<rect x="216.90" y="66.73" width="1.10" height="1.10" fill="#ababab"/>
<rect x="191.83" y="56.19" width="1.10" height="1.10" fill="#ababab"/>
<rect x="173.28" y="62.59" width="1.10" height="1.10" fill="#ababab"/>
<rect x="197.24" y="55.70" width="1.10" height="1.10" fill="#ababab"/>
<rect x="189.60" y="56.15" width="1.10" height="1.10" fill="#ababab"/>
<rect x="173.99" y="62.22" width="1.10" height="1.10" fill="#ababab"/>
<rect x="230.86" y="62.95" width="1.10" height="1.10" fill="#ababab"/>
<rect x="230.13" y="63.32" width="1.10" height="1.10" fill="#ababab"/>
<rect x="176.27" y="60.88" width="1.10" height="1.10" fill="#ababab"/>
<rect x="203.11" y="57.67" width="1.10" height="1.10" fill="#ababab"/>
<rect x="226.38" y="65.55" width="1.10" height="1.10" fill="#ababab"/>
<rect x="209.88" y="56.66" width="1.10" height="1.10" fill="#ababab"/>
<rect x="184.75" y="54.28" width="1.10" height="1.10" fill="#ababab"/>
<rect x="221.44" y="60.12" width="1.10" height="1.10" fill="#ababab"/>
<rect x="181.03" y="72.28" width="1.10" height="1.10" fill="#ababab"/>
<rect x="179.96" y="71.92" width="1.10" height="1.10" fill="#ababab"/>
<rect x="220.87" y="65.81" width="1.10" height="1.10" fill="#ababab"/>
<rect x="220.56" y="59.64" width="1.10" height="1.10" fill="#ababab"/>
<rect x="192.32" y="71.64" width="1.10" height="1.10" fill="#ababab"/>
<rect x="184.34" y="54.71" width="1.10" height="1.10" fill="#ababab"/>
<rect x="204.58" y="68.76" width="1.10" height="1.10" fill="#ababab"/>
<rect x="225.49" y="65.64" width="1.10" height="1.10" fill="#ababab"/>
<rect x="200.10" y="57.22" width="1.10" height="1.10" fill="#ababab"/>
<rect x="205.46" y="57.32" width="1.10" height="1.10" fill="#ababab"/>
<rect x="212.07" y="56.26" width="1.10" height="1.10" fill="#ababab"/>
<rect x="175.09" y="61.35" width="1.10" height="1.10" fill="#ababab"/>
<rect x="196.71" y="57.39" width="1.10" height="1.10" fill="#ababab"/>
<rect x="221.51" y="65.55" width="1.10" height="1.10" fill="#ababab"/>
<rect x="218.18" y="59.36" width="1.10" height="1.10" fill="#ababab"/>
<rect x="201.35" y="56.13" width="1.10" height="1.10" fill="#ababab"/>
<rect x="190.48" y="55.57" width="1.10" height="1.10" fill="#ababab"/>
<rect x="225.42" y="60.69" width="1.10" height="1.10" fill="#ababab"/>
<rect x="187.83" y="55.44" width="1.10" height="1.10" fill="#ababab"/>
<rect x="181.63" y="56.25" width="1.10" height="1.10" fill="#ababab"/>
<rect x="189.55" y="54.04" width="1.10" height="1.10" fill="#ababab"/>
<rect x="223.03" y="65.52" width="1.10" height="1.10" fill="#ababab"/>
<rect x="228.99" y="63.78" width="1.10" height="1.10" fill="#ababab"/>
<rect x="211.35" y="67.35" width="1.10" height="1.10" fill="#ababab"/>
<rect x="187.91" y="72.33" width="1.10" height="1.10" fill="#ababab"/>
<rect x="209.56" y="58.07" width="1.10" height="1.10" fill="#ababab"/>
<rect x="190.77" y="71.17" width="1.10" height="1.10" fill="#ababab"/>
<rect x="211.49" y="58.58" width="1.10" height="1.10" fill="#ababab"/>
<rect x="174.82" y="65.92" width="1.10" height="1.10" fill="#ababab"/>
<rect x="195.28" y="70.66" width="1.10" height="1.10" fill="#ababab"/>
<rect x="204.46" y="57.51" width="1.10" height="1.10" fill="#ababab"/>
<rect x="224.55" y="65.27" width="1.10" height="1.10" fill="#ababab"/>
<rect x="176.49" y="66.32" width="1.10" height="1.10" fill="#ababab"/>
<rect x="202.35" y="57.40" width="1.10" height="1.10" fill="#ababab"/>
<rect x="199.79" y="68.87" width="1.10" height="1.10" fill="#ababab"/>
<rect x="176.53" y="67.26" width="1.10" height="1.10" fill="#ababab"/>
<rect x="205.92" y="57.80" width="1.10" height="1.10" fill="#ababab"/>
<rect x="196.71" y="69.50" width="1.10" height="1.10" fill="#ababab"/>
<rect x="203.57" y="68.14" width="1.10" height="1.10" fill="#ababab"/>
<rect x="230.77" y="62.95" width="1.10" height="1.10" fill="#ababab"/>
<rect x="175.86" y="66.29" width="1.10" height="1.10" fill="#ababab"/>
<rect x="228.88" y="63.90" width="1.10" height="1.10" fill="#ababab"/>
<rect x="217.44" y="59.47" width="1.10" height="1.10" fill="#ababab"/>
<rect x="184.19" y="55.98" width="1.10" height="1.10" fill="#ababab"/>
<rect x="170.49" y="63.16" width="1.10" height="1.10" fill="#ababab"/>
<rect x="213.27" y="58.13" width="1.10" height="1.10" fill="#ababab"/>
<rect x="224.47" y="65.56" width="1.10" height="1.10" fill="#ababab"/>
<rect x="226.25" y="65.23" width="1.10" height="1.10" fill="#ababab"/>
<rect x="179.93" y="70.74" width="1.10" height="1.10" fill="#ababab"/>
<rect x="211.61" y="68.44" width="1.10" height="1.10" fill="#ababab"/>
<rect x="177.13" y="60.51" width="1.10" height="1.10" fill="#ababab"/>
<rect x="214.16" y="56.75" width="1.10" height="1.10" fill="#ababab"/>
<rect x="206.86" y="56.29" width="1.10" height="1.10" fill="#ababab"/>
<rect x="176.53" y="66.73" width="1.10" height="1.10" fill="#ababab"/>
<rect x="211.28" y="58.27" width="1.10" height="1.10" fill="#ababab"/>
<rect x="221.35" y="66.26" width="1.10" height="1.10" fill="#ababab"/>
<rect x="176.57" y="60.14" width="1.10" height="1.10" fill="#ababab"/>
<rect x="181.00" y="72.08" width="1.10" height="1.10" fill="#ababab"/>
<rect x="187.47" y="71.59" width="1.10" height="1.10" fill="#ababab"/>
<rect x="223.65" y="65.40" width="1.10" height="1.10" fill="#ababab"/>
<rect x="212.16" y="67.05" width="1.10" height="1.10" fill="#ababab"/>
<rect x="190.71" y="56.66" width="1.10" height="1.10" fill="#ababab"/>
<rect x="200.56" y="68.64" width="1.10" height="1.10" fill="#ababab"/>
<rect x="180.82" y="70.82" width="1.10" height="1.10" fill="#ababab"/>
<rect x="211.54" y="58.10" width="1.10" height="1.10" fill="#ababab"/>
<rect x="221.78" y="60.38" width="1.10" height="1.10" fill="#ababab"/>
<rect x="223.50" y="65.69" width="1.10" height="1.10" fill="#ababab"/>
<rect x="182.92" y="71.59" width="1.10" height="1.10" fill="#ababab"/>
<rect x="205.96" y="57.65" width="1.10" height="1.10" fill="#ababab"/>
<rect x="198.46" y="69.90" width="1.10" height="1.10" fill="#ababab"/>
<rect x="193.52" y="55.46" width="1.10" height="1.10" fill="#ababab"/>
<rect x="190.18" y="56.61" width="1.10" height="1.10" fill="#ababab"/>
<rect x="197.94" y="69.65" width="1.10" height="1.10" fill="#ababab"/>
<rect x="211.02" y="58.46" width="1.10" height="1.10" fill="#ababab"/>
<rect x="186.44" y="71.44" width="1.10" height="1.10" fill="#ababab"/>
<rect x="202.19" y="69.86" width="1.10" height="1.10" fill="#ababab"/>
<rect x="230.87" y="64.28" width="1.10" height="1.10" fill="#ababab"/>
<rect x="223.46" y="65.60" width="1.10" height="1.10" fill="#ababab"/>
<rect x="208.68" y="67.98" width="1.10" height="1.10" fill="#ababab"/>
<rect x="218.70" y="66.43" width="1.10" height="1.10" fill="#ababab"/>
<rect x="227.56" y="64.64" width="1.10" height="1.10" fill="#ababab"/>
<rect x="215.25" y="67.91" width="1.10" height="1.10" fill="#ababab"/>
<rect x="208.81" y="57.32" width="1.10" height="1.10" fill="#ababab"/>
<rect x="173.29" y="62.66" width="1.10" height="1.10" fill="#ababab"/>
<rect x="189.52" y="71.81" width="1.10" height="1.10" fill="#ababab"/>
<rect x="184.59" y="56.20" width="1.10" height="1.10" fill="#ababab"/>
<rect x="191.13" y="54.33" width="1.10" height="1.10" fill="#ababab"/>
<rect x="197.55" y="57.39" width="1.10" height="1.10" fill="#ababab"/>
<rect x="204.70" y="57.88" width="1.10" height="1.10" fill="#ababab"/>
<rect x="188.18" y="56.11" width="1.10" height="1.10" fill="#ababab"/>
<rect x="214.46" y="67.35" width="1.10" height="1.10" fill="#ababab"/>
<rect x="226.48" y="64.91" width="1.10" height="1.10" fill="#ababab"/>
<rect x="174.50" y="60.86" width="1.10" height="1.10" fill="#ababab"/>
<rect x="191.61" y="71.96" width="1.10" height="1.10" fill="#ababab"/>
<rect x="196.02" y="70.64" width="1.10" height="1.10" fill="#ababab"/>
<rect x="225.11" y="61.20" width="1.10" height="1.10" fill="#ababab"/>
<rect x="185.47" y="55.78" width="1.10" height="1.10" fill="#ababab"/>
<rect x="213.08" y="58.24" width="1.10" height="1.10" fill="#ababab"/>
<rect x="194.24" y="55.20" width="1.10" height="1.10" fill="#ababab"/>
<rect x="209.60" y="57.14" width="1.10" height="1.10" fill="#ababab"/>
<rect x="214.90" y="66.79" width="1.10" height="1.10" fill="#ababab"/>
<rect x="219.58" y="65.98" width="1.10" height="1.10" fill="#ababab"/>
<rect x="190.63" y="56.15" width="1.10" height="1.10" fill="#ababab"/>
<rect x="223.65" y="65.88" width="1.10" height="1.10" fill="#ababab"/>
<rect x="226.58" y="61.54" width="1.10" height="1.10" fill="#ababab"/>
<rect x="209.65" y="56.85" width="1.10" height="1.10" fill="#ababab"/>
<rect x="211.51" y="57.70" width="1.10" height="1.10" fill="#ababab"/>
<rect x="172.36" y="64.24" width="1.10" height="1.10" fill="#ababab"/>
<rect x="190.22" y="55.92" width="1.10" height="1.10" fill="#ababab"/>
<rect x="198.19" y="57.04" width="1.10" height="1.10" fill="#ababab"/>
<rect x="226.73" y="64.86" width="1.10" height="1.10" fill="#ababab"/>
<rect x="207.49" y="67.60" width="1.10" height="1.10" fill="#ababab"/>
<rect x="189.89" y="56.28" width="1.10" height="1.10" fill="#ababab"/>
<rect x="216.96" y="59.05" width="1.10" height="1.10" fill="#ababab"/>
<rect x="219.86" y="58.83" width="1.10" height="1.10" fill="#ababab"/>
<rect x="203.85" y="68.46" width="1.10" height="1.10" fill="#ababab"/>
<rect x="206.73" y="58.19" width="1.10" height="1.10" fill="#ababab"/>
<rect x="213.52" y="67.44" width="1.10" height="1.10" fill="#ababab"/>
<rect x="217.51" y="59.19" width="1.10" height="1.10" fill="#ababab"/>
<rect x="197.56" y="54.23" width="1.10" height="1.10" fill="#ababab"/>
<rect x="201.89" y="68.46" width="1.10" height="1.10" fill="#ababab"/>
<rect x="198.95" y="68.93" width="1.10" height="1.10" fill="#ababab"/>
<rect x="217.39" y="58.89" width="1.10" height="1.10" fill="#ababab"/>
<rect x="216.31" y="59.32" width="1.10" height="1.10" fill="#ababab"/>
<rect x="171.28" y="63.59" width="1.10" height="1.10" fill="#ababab"/>
<rect x="203.86" y="57.52" width="1.10" height="1.10" fill="#ababab"/>
<rect x="227.63" y="62.25" width="1.10" height="1.10" fill="#ababab"/>
<rect x="215.14" y="66.92" width="1.10" height="1.10" fill="#ababab"/>
<rect x="179.57" y="58.08" width="1.10" height="1.10" fill="#ababab"/>
<rect x="230.26" y="63.90" width="1.10" height="1.10" fill="#ababab"/>
<rect x="208.86" y="58.01" width="1.10" height="1.10" fill="#ababab"/>
<rect x="189.56" y="71.93" width="1.10" height="1.10" fill="#ababab"/>
<rect x="176.21" y="67.07" width="1.10" height="1.10" fill="#ababab"/>
<rect x="194.38" y="70.39" width="1.10" height="1.10" fill="#ababab"/>
<rect x="173.26" y="65.33" width="1.10" height="1.10" fill="#ababab"/>
<rect x="227.95" y="64.67" width="1.10" height="1.10" fill="#ababab"/>
<rect x="183.40" y="56.38" width="1.10" height="1.10" fill="#ababab"/>
<rect x="183.85" y="55.15" width="1.10" height="1.10" fill="#ababab"/>
<rect x="216.47" y="67.11" width="1.10" height="1.10" fill="#ababab"/>
<rect x="182.94" y="74.78" width="1.10" height="1.10" fill="#ababab"/>
<rect x="179.24" y="69.58" width="1.10" height="1.10" fill="#ababab"/>
<rect x="216.00" y="66.84" width="1.10" height="1.10" fill="#ababab"/>
<rect x="187.01" y="53.88" width="1.10" height="1.10" fill="#ababab"/>
<rect x="179.54" y="69.47" width="1.10" height="1.10" fill="#ababab"/>
<rect x="206.48" y="56.13" width="1.10" height="1.10" fill="#ababab"/>
<rect x="182.52" y="72.21" width="1.10" height="1.10" fill="#ababab"/>
<rect x="191.82" y="70.70" width="1.10" height="1.10" fill="#ababab"/>
<rect x="222.94" y="65.59" width="1.10" height="1.10" fill="#ababab"/>
<rect x="187.94" y="54.00" width="1.10" height="1.10" fill="#ababab"/>
<rect x="170.13" y="63.06" width="1.10" height="1.10" fill="#ababab"/>
<rect x="178.87" y="69.15" width="1.10" height="1.10" fill="#ababab"/>
<rect x="211.75" y="58.37" width="1.10" height="1.10" fill="#ababab"/>
<rect x="190.53" y="70.98" width="1.10" height="1.10" fill="#ababab"/>
<rect x="230.09" y="63.62" width="1.10" height="1.10" fill="#ababab"/>
<rect x="184.05" y="71.43" width="1.10" height="1.10" fill="#ababab"/>
<rect x="200.75" y="57.51" width="1.10" height="1.10" fill="#ababab"/>
<rect x="196.15" y="53.69" width="1.10" height="1.10" fill="#ababab"/>
<rect x="189.11" y="71.22" width="1.10" height="1.10" fill="#ababab"/>
<rect x="176.99" y="60.26" width="1.10" height="1.10" fill="#ababab"/>
<rect x="180.61" y="71.27" width="1.10" height="1.10" fill="#ababab"/>
<rect x="178.69" y="68.94" width="1.10" height="1.10" fill="#ababab"/>
<rect x="191.40" y="56.79" width="1.10" height="1.10" fill="#ababab"/>
<rect x="226.33" y="61.55" width="1.10" height="1.10" fill="#ababab"/>
<rect x="224.13" y="66.61" width="1.10" height="1.10" fill="#ababab"/>
<rect x="186.42" y="56.30" width="1.10" height="1.10" fill="#ababab"/>
<rect x="172.22" y="64.16" width="1.10" height="1.10" fill="#ababab"/>
<rect x="194.77" y="69.74" width="1.10" height="1.10" fill="#ababab"/>
<rect x="212.08" y="67.02" width="1.10" height="1.10" fill="#ababab"/>
<rect x="203.17" y="69.42" width="1.10" height="1.10" fill="#ababab"/>
<rect x="223.57" y="66.82" width="1.10" height="1.10" fill="#ababab"/>
<rect x="194.23" y="54.30" width="1.10" height="1.10" fill="#ababab"/>
<rect x="193.47" y="55.46" width="1.10" height="1.10" fill="#ababab"/>
<rect x="194.89" y="57.07" width="1.10" height="1.10" fill="#ababab"/>
<rect x="207.11" y="67.62" width="1.10" height="1.10" fill="#ababab"/>
<rect x="185.29" y="72.18" width="1.10" height="1.10" fill="#ababab"/>
<rect x="181.81" y="56.04" width="1.10" height="1.10" fill="#ababab"/>
<rect x="221.65" y="65.66" width="1.10" height="1.10" fill="#ababab"/>
<rect x="212.45" y="58.65" width="1.10" height="1.10" fill="#ababab"/>
<rect x="209.49" y="68.45" width="1.10" height="1.10" fill="#ababab"/>
<rect x="169.61" y="62.69" width="1.10" height="1.10" fill="#ababab"/>
<rect x="222.29" y="67.21" width="1.10" height="1.10" fill="#ababab"/>
<rect x="184.04" y="73.44" width="1.10" height="1.10" fill="#ababab"/>
<rect x="215.49" y="59.03" width="1.10" height="1.10" fill="#ababab"/>
<rect x="202.07" y="69.49" width="1.10" height="1.10" fill="#ababab"/>
<rect x="211.40" y="57.79" width="1.10" height="1.10" fill="#ababab"/>
<rect x="183.35" y="72.27" width="1.10" height="1.10" fill="#ababab"/>
<rect x="185.92" y="73.32" width="1.10" height="1.10" fill="#ababab"/>
<rect x="201.81" y="57.57" width="1.10" height="1.10" fill="#ababab"/>
<rect x="183.22" y="55.18" width="1.10" height="1.10" fill="#ababab"/>
<rect x="201.93" y="68.99" width="1.10" height="1.10" fill="#ababab"/>
<rect x="219.82" y="59.16" width="1.10" height="1.10" fill="#ababab"/>
<rect x="198.00" y="70.96" width="1.10" height="1.10" fill="#ababab"/>
<rect x="220.69" y="65.77" width="1.10" height="1.10" fill="#ababab"/>
<rect x="193.11" y="70.21" width="1.10" height="1.10" fill="#ababab"/>
<rect x="220.09" y="59.59" width="1.10" height="1.10" fill="#ababab"/>
<rect x="175.90" y="61.06" width="1.10" height="1.10" fill="#ababab"/>
<rect x="219.19" y="66.18" width="1.10" height="1.10" fill="#ababab"/>
<rect x="193.99" y="69.93" width="1.10" height="1.10" fill="#ababab"/>
<rect x="212.50" y="57.06" width="1.10" height="1.10" fill="#ababab"/>
<rect x="216.44" y="59.16" width="1.10" height="1.10" fill="#ababab"/>
<rect x="211.59" y="57.95" width="1.10" height="1.10" fill="#ababab"/>
<rect x="192.46" y="56.80" width="1.10" height="1.10" fill="#ababab"/>
<rect x="193.10" y="56.51" width="1.10" height="1.10" fill="#ababab"/>
<rect x="173.12" y="62.41" width="1.10" height="1.10" fill="#ababab"/>
<rect x="213.93" y="58.71" width="1.10" height="1.10" fill="#ababab"/>
<rect x="221.10" y="59.74" width="1.10" height="1.10" fill="#ababab"/>
<rect x="208.86" y="67.72" width="1.10" height="1.10" fill="#ababab"/>
<rect x="218.51" y="66.78" width="1.10" height="1.10" fill="#ababab"/>
<rect x="193.20" y="48.00" width="1.20" height="1.20" fill="#ababab"/>
<rect x="195.30" y="50.20" width="1.20" height="1.20" fill="#ababab"/>
<rect x="198.20" y="52.30" width="1.20" height="1.20" fill="#ababab"/>
<rect x="221.20" y="57.40" width="1.20" height="1.20" fill="#ababab"/>
<rect x="184.60" y="53.10" width="1.20" height="1.20" fill="#ababab"/>
<rect x="188.40" y="51.90" width="1.20" height="1.20" fill="#ababab"/>
<rect x="204.40" y="54.40" width="1.20" height="1.20" fill="#ababab"/>
<rect x="213.40" y="55.90" width="1.20" height="1.20" fill="#ababab"/>
<line x1="166.80" y1="64.20" x2="244.00" y2="64.20" stroke="#000" stroke-width="1.3" stroke-dasharray="1.3 1.0"/>
<line x1="166.50" y1="26.00" x2="166.50" y2="102.30" stroke="#7a7a7a" stroke-width="1"/>
<line x1="164.30" y1="26.50" x2="166.80" y2="26.50" stroke="#7a7a7a" stroke-width="1"/>
<text x="161.60" y="27.80" font-size="9" text-anchor="end" font-weight="normal" fill="#231f20">8</text>
<line x1="164.30" y1="45.50" x2="166.80" y2="45.50" stroke="#7a7a7a" stroke-width="1"/>
<text x="161.60" y="47.00" font-size="9" text-anchor="end" font-weight="normal" fill="#231f20">4</text>
<line x1="164.30" y1="64.50" x2="166.80" y2="64.50" stroke="#7a7a7a" stroke-width="1"/>
<text x="161.60" y="66.00" font-size="9" text-anchor="end" font-weight="normal" fill="#231f20">0</text>
<line x1="164.30" y1="83.50" x2="166.80" y2="83.50" stroke="#7a7a7a" stroke-width="1"/>
<text x="161.60" y="85.10" font-size="9" text-anchor="end" font-weight="normal" fill="#231f20">-4</text>
<line x1="164.30" y1="102.50" x2="166.80" y2="102.50" stroke="#7a7a7a" stroke-width="1"/>
<text x="161.60" y="104.10" font-size="9" text-anchor="end" font-weight="normal" fill="#231f20">-8</text>
<line x1="166.80" y1="102.50" x2="243.80" y2="102.50" stroke="#231f20" stroke-width="1"/>
<line x1="166.50" y1="102.30" x2="166.50" y2="104.80" stroke="#231f20" stroke-width="1"/>
<text x="166.80" y="114.00" font-size="9" text-anchor="middle" font-weight="normal" fill="#231f20">-5</text>
<line x1="182.50" y1="102.30" x2="182.50" y2="104.80" stroke="#231f20" stroke-width="1"/>
<text x="182.20" y="114.00" font-size="9" text-anchor="middle" font-weight="normal" fill="#231f20">0</text>
<line x1="197.50" y1="102.30" x2="197.50" y2="104.80" stroke="#231f20" stroke-width="1"/>
<text x="197.60" y="114.00" font-size="9" text-anchor="middle" font-weight="normal" fill="#231f20">5</text>
<line x1="213.50" y1="102.30" x2="213.50" y2="104.80" stroke="#231f20" stroke-width="1"/>
<text x="213.00" y="114.00" font-size="9" text-anchor="middle" font-weight="normal" fill="#231f20">10</text>
<line x1="228.50" y1="102.30" x2="228.50" y2="104.80" stroke="#231f20" stroke-width="1"/>
<text x="228.40" y="114.00" font-size="9" text-anchor="middle" font-weight="normal" fill="#231f20">15</text>
<line x1="243.50" y1="102.30" x2="243.50" y2="104.80" stroke="#231f20" stroke-width="1"/>
<text x="243.80" y="114.00" font-size="9" text-anchor="middle" font-weight="normal" fill="#231f20">20</text>
<text x="150.20" y="61.00" font-size="9" text-anchor="middle" font-weight="normal" fill="#231f20" transform="rotate(-90 150.20 61.00)">Fold difference [log<tspan font-size="5.5" dy="1.8">2</tspan><tspan dy="-1.8">]</tspan></text>
<circle cx="217.70" cy="100.40" r="1.3" fill="#1a1aff"/>
<text x="219.50" y="99.50" font-size="9.5" text-anchor="start" font-weight="normal" font-style="italic" fill="#231f20">Hnmpr</text>
<text x="211.60" y="9.60" font-size="9.7" text-anchor="middle" font-weight="normal" fill="#231f20"><tspan font-style="italic">P</tspan>adj &lt; 0.05</text>
<text x="209.80" y="126.60" font-size="9" text-anchor="middle" font-weight="normal" fill="#231f20">Base mean [log<tspan font-size="5.5" dy="1.8">2</tspan><tspan dy="-1.8">]</tspan></text>
<text x="206.50" y="137.70" font-size="9" text-anchor="middle" font-weight="normal" fill="#231f20">Somatodendritic</text>
<line x1="304.30" y1="26.20" x2="304.30" y2="103.10" stroke="#000" stroke-width="1.3" stroke-dasharray="1.3 1.0"/>
<path d="M291.50,67.20 L297.90,64.70 L302.30,59.70 L306.60,55.40 L310.90,53.20 L315.20,53.90 L322.40,56.80 L332.40,60.40 L342.50,63.60 L349.00,65.60 L353.00,67.20 L353.00,65.20 L349.00,66.60 L342.50,67.80 L332.40,69.90 L322.40,72.80 L315.20,74.90 L310.90,75.70 L306.60,74.90 L302.30,72.80 L297.90,67.80 L291.50,65.20Z" fill="#ababab"/>
<rect x="313.80" y="52.14" width="1.10" height="1.10" fill="#ababab"/>
<rect x="334.77" y="60.44" width="1.10" height="1.10" fill="#ababab"/>
<rect x="316.04" y="74.36" width="1.10" height="1.10" fill="#ababab"/>
<rect x="314.65" y="75.39" width="1.10" height="1.10" fill="#ababab"/>
<rect x="347.83" y="64.34" width="1.10" height="1.10" fill="#ababab"/>
<rect x="313.85" y="74.84" width="1.10" height="1.10" fill="#ababab"/>
<rect x="311.21" y="52.75" width="1.10" height="1.10" fill="#ababab"/>
<rect x="323.29" y="55.60" width="1.10" height="1.10" fill="#ababab"/>
<rect x="346.38" y="66.96" width="1.10" height="1.10" fill="#ababab"/>
<rect x="319.40" y="55.00" width="1.10" height="1.10" fill="#ababab"/>
<rect x="342.58" y="62.02" width="1.10" height="1.10" fill="#ababab"/>
<rect x="318.00" y="54.28" width="1.10" height="1.10" fill="#ababab"/>
<rect x="322.43" y="73.03" width="1.10" height="1.10" fill="#ababab"/>
<rect x="315.65" y="52.02" width="1.10" height="1.10" fill="#ababab"/>
<rect x="332.76" y="69.39" width="1.10" height="1.10" fill="#ababab"/>
<rect x="298.21" y="61.97" width="1.10" height="1.10" fill="#ababab"/>
<rect x="295.69" y="66.71" width="1.10" height="1.10" fill="#ababab"/>
<rect x="337.28" y="68.44" width="1.10" height="1.10" fill="#ababab"/>
<rect x="294.33" y="66.10" width="1.10" height="1.10" fill="#ababab"/>
<rect x="294.32" y="66.32" width="1.10" height="1.10" fill="#ababab"/>
<rect x="316.65" y="75.98" width="1.10" height="1.10" fill="#ababab"/>
<rect x="344.57" y="63.85" width="1.10" height="1.10" fill="#ababab"/>
<rect x="311.51" y="78.52" width="1.10" height="1.10" fill="#ababab"/>
<rect x="307.84" y="53.80" width="1.10" height="1.10" fill="#ababab"/>
<rect x="310.20" y="51.76" width="1.10" height="1.10" fill="#ababab"/>
<rect x="322.38" y="55.25" width="1.10" height="1.10" fill="#ababab"/>
<rect x="294.10" y="65.12" width="1.10" height="1.10" fill="#ababab"/>
<rect x="343.63" y="62.85" width="1.10" height="1.10" fill="#ababab"/>
<rect x="303.37" y="56.40" width="1.10" height="1.10" fill="#ababab"/>
<rect x="319.50" y="55.04" width="1.10" height="1.10" fill="#ababab"/>
<rect x="326.85" y="57.80" width="1.10" height="1.10" fill="#ababab"/>
<rect x="347.49" y="66.45" width="1.10" height="1.10" fill="#ababab"/>
<rect x="294.10" y="65.17" width="1.10" height="1.10" fill="#ababab"/>
<rect x="325.69" y="57.38" width="1.10" height="1.10" fill="#ababab"/>
<rect x="307.77" y="75.16" width="1.10" height="1.10" fill="#ababab"/>
<rect x="340.30" y="68.67" width="1.10" height="1.10" fill="#ababab"/>
<rect x="318.91" y="75.42" width="1.10" height="1.10" fill="#ababab"/>
<rect x="294.50" y="65.07" width="1.10" height="1.10" fill="#ababab"/>
<rect x="330.27" y="58.98" width="1.10" height="1.10" fill="#ababab"/>
<rect x="327.62" y="57.98" width="1.10" height="1.10" fill="#ababab"/>
<rect x="347.68" y="66.32" width="1.10" height="1.10" fill="#ababab"/>
<rect x="332.39" y="70.49" width="1.10" height="1.10" fill="#ababab"/>
<rect x="309.09" y="52.94" width="1.10" height="1.10" fill="#ababab"/>
<rect x="347.40" y="64.56" width="1.10" height="1.10" fill="#ababab"/>
<rect x="297.15" y="63.97" width="1.10" height="1.10" fill="#ababab"/>
<rect x="316.45" y="76.70" width="1.10" height="1.10" fill="#ababab"/>
<rect x="306.79" y="74.76" width="1.10" height="1.10" fill="#ababab"/>
<rect x="294.43" y="66.21" width="1.10" height="1.10" fill="#ababab"/>
<rect x="293.52" y="65.73" width="1.10" height="1.10" fill="#ababab"/>
<rect x="326.75" y="57.17" width="1.10" height="1.10" fill="#ababab"/>
<rect x="325.43" y="56.63" width="1.10" height="1.10" fill="#ababab"/>
<rect x="342.69" y="63.01" width="1.10" height="1.10" fill="#ababab"/>
<rect x="340.11" y="67.78" width="1.10" height="1.10" fill="#ababab"/>
<rect x="314.32" y="74.61" width="1.10" height="1.10" fill="#ababab"/>
<rect x="304.69" y="74.80" width="1.10" height="1.10" fill="#ababab"/>
<rect x="335.74" y="60.49" width="1.10" height="1.10" fill="#ababab"/>
<rect x="332.70" y="59.85" width="1.10" height="1.10" fill="#ababab"/>
<rect x="347.73" y="66.33" width="1.10" height="1.10" fill="#ababab"/>
<rect x="348.72" y="66.02" width="1.10" height="1.10" fill="#ababab"/>
<rect x="337.10" y="60.73" width="1.10" height="1.10" fill="#ababab"/>
<rect x="348.13" y="64.33" width="1.10" height="1.10" fill="#ababab"/>
<rect x="327.71" y="70.78" width="1.10" height="1.10" fill="#ababab"/>
<rect x="296.39" y="64.40" width="1.10" height="1.10" fill="#ababab"/>
<rect x="342.94" y="62.16" width="1.10" height="1.10" fill="#ababab"/>
<rect x="347.81" y="64.15" width="1.10" height="1.10" fill="#ababab"/>
<rect x="312.12" y="76.65" width="1.10" height="1.10" fill="#ababab"/>
<rect x="331.33" y="59.02" width="1.10" height="1.10" fill="#ababab"/>
<rect x="306.16" y="75.51" width="1.10" height="1.10" fill="#ababab"/>
<rect x="301.95" y="72.48" width="1.10" height="1.10" fill="#ababab"/>
<rect x="325.34" y="57.07" width="1.10" height="1.10" fill="#ababab"/>
<rect x="324.87" y="72.48" width="1.10" height="1.10" fill="#ababab"/>
<rect x="293.02" y="65.60" width="1.10" height="1.10" fill="#ababab"/>
<rect x="296.93" y="67.50" width="1.10" height="1.10" fill="#ababab"/>
<rect x="312.65" y="51.86" width="1.10" height="1.10" fill="#ababab"/>
<rect x="331.73" y="58.47" width="1.10" height="1.10" fill="#ababab"/>
<rect x="311.35" y="77.47" width="1.10" height="1.10" fill="#ababab"/>
<rect x="344.67" y="63.76" width="1.10" height="1.10" fill="#ababab"/>
<rect x="345.01" y="63.82" width="1.10" height="1.10" fill="#ababab"/>
<rect x="321.46" y="73.36" width="1.10" height="1.10" fill="#ababab"/>
<rect x="301.04" y="72.35" width="1.10" height="1.10" fill="#ababab"/>
<rect x="322.12" y="55.95" width="1.10" height="1.10" fill="#ababab"/>
<rect x="303.46" y="56.28" width="1.10" height="1.10" fill="#ababab"/>
<rect x="305.70" y="76.70" width="1.10" height="1.10" fill="#ababab"/>
<rect x="291.88" y="65.03" width="1.10" height="1.10" fill="#ababab"/>
<rect x="320.99" y="74.16" width="1.10" height="1.10" fill="#ababab"/>
<rect x="305.05" y="74.65" width="1.10" height="1.10" fill="#ababab"/>
<rect x="300.40" y="59.51" width="1.10" height="1.10" fill="#ababab"/>
<rect x="322.81" y="56.37" width="1.10" height="1.10" fill="#ababab"/>
<rect x="345.72" y="63.93" width="1.10" height="1.10" fill="#ababab"/>
<rect x="327.56" y="71.01" width="1.10" height="1.10" fill="#ababab"/>
<rect x="334.66" y="60.71" width="1.10" height="1.10" fill="#ababab"/>
<rect x="351.40" y="66.12" width="1.10" height="1.10" fill="#ababab"/>
<rect x="328.97" y="70.62" width="1.10" height="1.10" fill="#ababab"/>
<rect x="340.80" y="62.11" width="1.10" height="1.10" fill="#ababab"/>
<rect x="347.58" y="64.45" width="1.10" height="1.10" fill="#ababab"/>
<rect x="315.99" y="53.44" width="1.10" height="1.10" fill="#ababab"/>
<rect x="306.01" y="74.63" width="1.10" height="1.10" fill="#ababab"/>
<rect x="312.13" y="52.32" width="1.10" height="1.10" fill="#ababab"/>
<rect x="303.14" y="56.16" width="1.10" height="1.10" fill="#ababab"/>
<rect x="352.28" y="64.74" width="1.10" height="1.10" fill="#ababab"/>
<rect x="320.45" y="55.21" width="1.10" height="1.10" fill="#ababab"/>
<rect x="337.16" y="70.12" width="1.10" height="1.10" fill="#ababab"/>
<rect x="303.19" y="74.15" width="1.10" height="1.10" fill="#ababab"/>
<rect x="296.63" y="67.61" width="1.10" height="1.10" fill="#ababab"/>
<rect x="312.43" y="51.24" width="1.10" height="1.10" fill="#ababab"/>
<rect x="336.80" y="61.13" width="1.10" height="1.10" fill="#ababab"/>
<rect x="341.90" y="68.11" width="1.10" height="1.10" fill="#ababab"/>
<rect x="342.15" y="67.78" width="1.10" height="1.10" fill="#ababab"/>
<rect x="327.26" y="57.24" width="1.10" height="1.10" fill="#ababab"/>
<rect x="344.51" y="63.07" width="1.10" height="1.10" fill="#ababab"/>
<rect x="350.05" y="65.58" width="1.10" height="1.10" fill="#ababab"/>
<rect x="350.51" y="65.35" width="1.10" height="1.10" fill="#ababab"/>
<rect x="306.45" y="74.51" width="1.10" height="1.10" fill="#ababab"/>
<rect x="319.11" y="54.35" width="1.10" height="1.10" fill="#ababab"/>
<rect x="321.25" y="73.17" width="1.10" height="1.10" fill="#ababab"/>
<rect x="315.06" y="75.97" width="1.10" height="1.10" fill="#ababab"/>
<rect x="339.76" y="68.99" width="1.10" height="1.10" fill="#ababab"/>
<rect x="315.93" y="53.06" width="1.10" height="1.10" fill="#ababab"/>
<rect x="331.08" y="70.43" width="1.10" height="1.10" fill="#ababab"/>
<rect x="342.38" y="67.85" width="1.10" height="1.10" fill="#ababab"/>
<rect x="291.23" y="66.53" width="1.10" height="1.10" fill="#ababab"/>
<rect x="340.91" y="62.69" width="1.10" height="1.10" fill="#ababab"/>
<rect x="328.14" y="58.09" width="1.10" height="1.10" fill="#ababab"/>
<rect x="312.70" y="75.43" width="1.10" height="1.10" fill="#ababab"/>
<rect x="329.04" y="58.02" width="1.10" height="1.10" fill="#ababab"/>
<rect x="334.07" y="60.12" width="1.10" height="1.10" fill="#ababab"/>
<rect x="331.60" y="70.71" width="1.10" height="1.10" fill="#ababab"/>
<rect x="293.50" y="65.90" width="1.10" height="1.10" fill="#ababab"/>
<rect x="302.27" y="57.53" width="1.10" height="1.10" fill="#ababab"/>
<rect x="304.74" y="74.01" width="1.10" height="1.10" fill="#ababab"/>
<rect x="328.48" y="71.44" width="1.10" height="1.10" fill="#ababab"/>
<rect x="349.73" y="65.75" width="1.10" height="1.10" fill="#ababab"/>
<rect x="351.75" y="66.35" width="1.10" height="1.10" fill="#ababab"/>
<rect x="323.37" y="56.17" width="1.10" height="1.10" fill="#ababab"/>
<rect x="301.73" y="74.33" width="1.10" height="1.10" fill="#ababab"/>
<rect x="306.37" y="54.07" width="1.10" height="1.10" fill="#ababab"/>
<rect x="297.16" y="67.56" width="1.10" height="1.10" fill="#ababab"/>
<rect x="314.12" y="75.55" width="1.10" height="1.10" fill="#ababab"/>
<rect x="345.92" y="67.04" width="1.10" height="1.10" fill="#ababab"/>
<rect x="318.26" y="74.07" width="1.10" height="1.10" fill="#ababab"/>
<rect x="313.20" y="75.41" width="1.10" height="1.10" fill="#ababab"/>
<rect x="323.06" y="72.76" width="1.10" height="1.10" fill="#ababab"/>
<rect x="346.74" y="63.84" width="1.10" height="1.10" fill="#ababab"/>
<rect x="294.45" y="66.65" width="1.10" height="1.10" fill="#ababab"/>
<rect x="332.99" y="70.83" width="1.10" height="1.10" fill="#ababab"/>
<rect x="345.75" y="66.78" width="1.10" height="1.10" fill="#ababab"/>
<rect x="337.06" y="61.29" width="1.10" height="1.10" fill="#ababab"/>
<rect x="349.56" y="65.77" width="1.10" height="1.10" fill="#ababab"/>
<rect x="299.84" y="70.37" width="1.10" height="1.10" fill="#ababab"/>
<rect x="315.07" y="74.40" width="1.10" height="1.10" fill="#ababab"/>
<rect x="330.40" y="59.25" width="1.10" height="1.10" fill="#ababab"/>
<rect x="324.42" y="56.18" width="1.10" height="1.10" fill="#ababab"/>
<rect x="351.11" y="65.17" width="1.10" height="1.10" fill="#ababab"/>
<rect x="314.35" y="76.10" width="1.10" height="1.10" fill="#ababab"/>
<rect x="334.60" y="68.88" width="1.10" height="1.10" fill="#ababab"/>
<rect x="326.32" y="71.66" width="1.10" height="1.10" fill="#ababab"/>
<rect x="339.76" y="61.79" width="1.10" height="1.10" fill="#ababab"/>
<rect x="344.91" y="63.52" width="1.10" height="1.10" fill="#ababab"/>
<rect x="336.36" y="61.16" width="1.10" height="1.10" fill="#ababab"/>
<rect x="309.25" y="52.84" width="1.10" height="1.10" fill="#ababab"/>
<rect x="350.42" y="65.41" width="1.10" height="1.10" fill="#ababab"/>
<rect x="348.99" y="65.06" width="1.10" height="1.10" fill="#ababab"/>
<rect x="310.69" y="51.98" width="1.10" height="1.10" fill="#ababab"/>
<rect x="315.18" y="52.98" width="1.10" height="1.10" fill="#ababab"/>
<rect x="350.21" y="65.65" width="1.10" height="1.10" fill="#ababab"/>
<rect x="318.64" y="75.70" width="1.10" height="1.10" fill="#ababab"/>
<rect x="330.13" y="70.12" width="1.10" height="1.10" fill="#ababab"/>
<rect x="337.51" y="61.19" width="1.10" height="1.10" fill="#ababab"/>
<rect x="325.31" y="71.26" width="1.10" height="1.10" fill="#ababab"/>
<rect x="313.26" y="75.57" width="1.10" height="1.10" fill="#ababab"/>
<rect x="323.50" y="56.21" width="1.10" height="1.10" fill="#ababab"/>
<rect x="338.39" y="61.47" width="1.10" height="1.10" fill="#ababab"/>
<rect x="341.79" y="68.19" width="1.10" height="1.10" fill="#ababab"/>
<rect x="307.28" y="51.96" width="1.10" height="1.10" fill="#ababab"/>
<rect x="295.25" y="66.41" width="1.10" height="1.10" fill="#ababab"/>
<rect x="316.33" y="75.67" width="1.10" height="1.10" fill="#ababab"/>
<rect x="297.79" y="62.67" width="1.10" height="1.10" fill="#ababab"/>
<rect x="329.94" y="72.38" width="1.10" height="1.10" fill="#ababab"/>
<rect x="338.59" y="60.76" width="1.10" height="1.10" fill="#ababab"/>
<rect x="311.97" y="52.19" width="1.10" height="1.10" fill="#ababab"/>
<rect x="340.50" y="62.04" width="1.10" height="1.10" fill="#ababab"/>
<rect x="323.66" y="73.96" width="1.10" height="1.10" fill="#ababab"/>
<rect x="332.12" y="69.98" width="1.10" height="1.10" fill="#ababab"/>
<rect x="295.01" y="64.85" width="1.10" height="1.10" fill="#ababab"/>
<rect x="321.83" y="73.03" width="1.10" height="1.10" fill="#ababab"/>
<rect x="315.78" y="75.39" width="1.10" height="1.10" fill="#ababab"/>
<rect x="307.79" y="75.22" width="1.10" height="1.10" fill="#ababab"/>
<rect x="300.25" y="72.71" width="1.10" height="1.10" fill="#ababab"/>
<rect x="337.33" y="69.69" width="1.10" height="1.10" fill="#ababab"/>
<rect x="336.65" y="69.50" width="1.10" height="1.10" fill="#ababab"/>
<rect x="330.85" y="70.91" width="1.10" height="1.10" fill="#ababab"/>
<rect x="334.23" y="70.03" width="1.10" height="1.10" fill="#ababab"/>
<rect x="307.87" y="52.14" width="1.10" height="1.10" fill="#ababab"/>
<rect x="307.74" y="52.63" width="1.10" height="1.10" fill="#ababab"/>
<rect x="304.72" y="54.72" width="1.10" height="1.10" fill="#ababab"/>
<rect x="340.28" y="60.80" width="1.10" height="1.10" fill="#ababab"/>
<rect x="333.97" y="60.03" width="1.10" height="1.10" fill="#ababab"/>
<rect x="291.16" y="64.75" width="1.10" height="1.10" fill="#ababab"/>
<rect x="299.48" y="60.72" width="1.10" height="1.10" fill="#ababab"/>
<rect x="325.08" y="71.79" width="1.10" height="1.10" fill="#ababab"/>
<rect x="293.39" y="65.75" width="1.10" height="1.10" fill="#ababab"/>
<rect x="329.66" y="58.51" width="1.10" height="1.10" fill="#ababab"/>
<rect x="311.31" y="75.40" width="1.10" height="1.10" fill="#ababab"/>
<rect x="303.80" y="75.34" width="1.10" height="1.10" fill="#ababab"/>
<rect x="340.69" y="68.68" width="1.10" height="1.10" fill="#ababab"/>
<rect x="292.69" y="65.40" width="1.10" height="1.10" fill="#ababab"/>
<rect x="317.02" y="52.99" width="1.10" height="1.10" fill="#ababab"/>
<rect x="326.92" y="56.67" width="1.10" height="1.10" fill="#ababab"/>
<rect x="322.44" y="72.44" width="1.10" height="1.10" fill="#ababab"/>
<rect x="352.19" y="64.78" width="1.10" height="1.10" fill="#ababab"/>
<rect x="350.07" y="65.63" width="1.10" height="1.10" fill="#ababab"/>
<rect x="320.34" y="55.60" width="1.10" height="1.10" fill="#ababab"/>
<rect x="318.87" y="73.46" width="1.10" height="1.10" fill="#ababab"/>
<rect x="311.96" y="51.64" width="1.10" height="1.10" fill="#ababab"/>
<rect x="315.73" y="53.11" width="1.10" height="1.10" fill="#ababab"/>
<rect x="322.70" y="54.72" width="1.10" height="1.10" fill="#ababab"/>
<rect x="303.11" y="73.22" width="1.10" height="1.10" fill="#ababab"/>
<rect x="325.41" y="72.11" width="1.10" height="1.10" fill="#ababab"/>
<rect x="350.79" y="65.50" width="1.10" height="1.10" fill="#ababab"/>
<rect x="335.39" y="69.31" width="1.10" height="1.10" fill="#ababab"/>
<rect x="294.81" y="64.53" width="1.10" height="1.10" fill="#ababab"/>
<rect x="335.35" y="68.78" width="1.10" height="1.10" fill="#ababab"/>
<rect x="307.17" y="53.40" width="1.10" height="1.10" fill="#ababab"/>
<rect x="351.93" y="66.39" width="1.10" height="1.10" fill="#ababab"/>
<rect x="293.67" y="65.30" width="1.10" height="1.10" fill="#ababab"/>
<rect x="340.43" y="61.38" width="1.10" height="1.10" fill="#ababab"/>
<rect x="297.23" y="63.70" width="1.10" height="1.10" fill="#ababab"/>
<rect x="319.93" y="74.52" width="1.10" height="1.10" fill="#ababab"/>
<rect x="347.02" y="66.99" width="1.10" height="1.10" fill="#ababab"/>
<rect x="298.84" y="62.22" width="1.10" height="1.10" fill="#ababab"/>
<rect x="325.60" y="71.39" width="1.10" height="1.10" fill="#ababab"/>
<rect x="292.25" y="65.26" width="1.10" height="1.10" fill="#ababab"/>
<rect x="334.63" y="69.84" width="1.10" height="1.10" fill="#ababab"/>
<rect x="335.99" y="61.04" width="1.10" height="1.10" fill="#ababab"/>
<rect x="340.88" y="67.55" width="1.10" height="1.10" fill="#ababab"/>
<rect x="304.11" y="73.55" width="1.10" height="1.10" fill="#ababab"/>
<rect x="314.25" y="52.27" width="1.10" height="1.10" fill="#ababab"/>
<rect x="319.47" y="53.45" width="1.10" height="1.10" fill="#ababab"/>
<rect x="345.62" y="66.92" width="1.10" height="1.10" fill="#ababab"/>
<rect x="329.36" y="70.53" width="1.10" height="1.10" fill="#ababab"/>
<rect x="320.75" y="72.82" width="1.10" height="1.10" fill="#ababab"/>
<rect x="346.66" y="64.22" width="1.10" height="1.10" fill="#ababab"/>
<rect x="297.35" y="67.49" width="1.10" height="1.10" fill="#ababab"/>
<rect x="319.02" y="73.65" width="1.10" height="1.10" fill="#ababab"/>
<rect x="330.09" y="70.28" width="1.10" height="1.10" fill="#ababab"/>
<rect x="335.51" y="60.88" width="1.10" height="1.10" fill="#ababab"/>
<rect x="319.90" y="54.58" width="1.10" height="1.10" fill="#ababab"/>
<rect x="305.70" y="75.86" width="1.10" height="1.10" fill="#ababab"/>
<rect x="333.51" y="58.91" width="1.10" height="1.10" fill="#ababab"/>
<rect x="327.79" y="56.35" width="1.10" height="1.10" fill="#ababab"/>
<rect x="305.62" y="74.30" width="1.10" height="1.10" fill="#ababab"/>
<rect x="339.42" y="68.52" width="1.10" height="1.10" fill="#ababab"/>
<rect x="329.93" y="70.42" width="1.10" height="1.10" fill="#ababab"/>
<rect x="350.98" y="65.17" width="1.10" height="1.10" fill="#ababab"/>
<rect x="293.29" y="65.71" width="1.10" height="1.10" fill="#ababab"/>
<rect x="304.45" y="76.34" width="1.10" height="1.10" fill="#ababab"/>
<rect x="348.17" y="66.32" width="1.10" height="1.10" fill="#ababab"/>
<rect x="300.38" y="60.25" width="1.10" height="1.10" fill="#ababab"/>
<rect x="337.51" y="60.32" width="1.10" height="1.10" fill="#ababab"/>
<rect x="302.45" y="72.91" width="1.10" height="1.10" fill="#ababab"/>
<rect x="300.96" y="73.02" width="1.10" height="1.10" fill="#ababab"/>
<rect x="345.66" y="67.04" width="1.10" height="1.10" fill="#ababab"/>
<rect x="291.09" y="64.73" width="1.10" height="1.10" fill="#ababab"/>
<rect x="321.85" y="73.02" width="1.10" height="1.10" fill="#ababab"/>
<rect x="327.52" y="70.96" width="1.10" height="1.10" fill="#ababab"/>
<rect x="324.50" y="57.01" width="1.10" height="1.10" fill="#ababab"/>
<rect x="315.36" y="53.63" width="1.10" height="1.10" fill="#ababab"/>
<rect x="341.97" y="67.38" width="1.10" height="1.10" fill="#ababab"/>
<rect x="319.12" y="54.67" width="1.10" height="1.10" fill="#ababab"/>
<rect x="317.34" y="53.77" width="1.10" height="1.10" fill="#ababab"/>
<rect x="351.00" y="65.19" width="1.10" height="1.10" fill="#ababab"/>
<rect x="335.86" y="68.85" width="1.10" height="1.10" fill="#ababab"/>
<rect x="343.12" y="63.09" width="1.10" height="1.10" fill="#ababab"/>
<rect x="337.84" y="61.22" width="1.10" height="1.10" fill="#ababab"/>
<rect x="328.25" y="70.41" width="1.10" height="1.10" fill="#ababab"/>
<rect x="295.56" y="64.81" width="1.10" height="1.10" fill="#ababab"/>
<rect x="333.54" y="70.16" width="1.10" height="1.10" fill="#ababab"/>
<rect x="316.00" y="74.12" width="1.10" height="1.10" fill="#ababab"/>
<rect x="330.84" y="69.88" width="1.10" height="1.10" fill="#ababab"/>
<rect x="347.09" y="66.95" width="1.10" height="1.10" fill="#ababab"/>
<rect x="335.03" y="60.05" width="1.10" height="1.10" fill="#ababab"/>
<rect x="317.44" y="75.66" width="1.10" height="1.10" fill="#ababab"/>
<rect x="302.01" y="74.13" width="1.10" height="1.10" fill="#ababab"/>
<rect x="306.49" y="53.95" width="1.10" height="1.10" fill="#ababab"/>
<rect x="312.38" y="51.91" width="1.10" height="1.10" fill="#ababab"/>
<rect x="351.27" y="65.12" width="1.10" height="1.10" fill="#ababab"/>
<rect x="348.28" y="66.60" width="1.10" height="1.10" fill="#ababab"/>
<rect x="337.24" y="59.18" width="1.10" height="1.10" fill="#ababab"/>
<rect x="306.31" y="53.86" width="1.10" height="1.10" fill="#ababab"/>
<rect x="345.46" y="66.65" width="1.10" height="1.10" fill="#ababab"/>
<rect x="311.17" y="75.39" width="1.10" height="1.10" fill="#ababab"/>
<rect x="339.82" y="69.21" width="1.10" height="1.10" fill="#ababab"/>
<rect x="297.40" y="67.59" width="1.10" height="1.10" fill="#ababab"/>
<rect x="313.53" y="76.11" width="1.10" height="1.10" fill="#ababab"/>
<rect x="350.34" y="65.58" width="1.10" height="1.10" fill="#ababab"/>
<rect x="324.06" y="71.94" width="1.10" height="1.10" fill="#ababab"/>
<rect x="316.01" y="75.11" width="1.10" height="1.10" fill="#ababab"/>
<rect x="296.46" y="63.43" width="1.10" height="1.10" fill="#ababab"/>
<rect x="308.62" y="75.76" width="1.10" height="1.10" fill="#ababab"/>
<rect x="334.97" y="68.77" width="1.10" height="1.10" fill="#ababab"/>
<rect x="301.79" y="58.40" width="1.10" height="1.10" fill="#ababab"/>
<rect x="336.83" y="69.57" width="1.10" height="1.10" fill="#ababab"/>
<rect x="306.23" y="52.95" width="1.10" height="1.10" fill="#ababab"/>
<rect x="303.82" y="56.76" width="1.10" height="1.10" fill="#ababab"/>
<rect x="350.26" y="65.62" width="1.10" height="1.10" fill="#ababab"/>
<rect x="327.72" y="71.50" width="1.10" height="1.10" fill="#ababab"/>
<rect x="309.64" y="52.83" width="1.10" height="1.10" fill="#ababab"/>
<rect x="313.18" y="53.03" width="1.10" height="1.10" fill="#ababab"/>
<rect x="297.89" y="62.59" width="1.10" height="1.10" fill="#ababab"/>
<rect x="307.77" y="75.02" width="1.10" height="1.10" fill="#ababab"/>
<rect x="301.89" y="58.61" width="1.10" height="1.10" fill="#ababab"/>
<rect x="333.36" y="59.29" width="1.10" height="1.10" fill="#ababab"/>
<rect x="335.74" y="60.29" width="1.10" height="1.10" fill="#ababab"/>
<rect x="342.14" y="62.88" width="1.10" height="1.10" fill="#ababab"/>
<rect x="341.92" y="62.35" width="1.10" height="1.10" fill="#ababab"/>
<rect x="332.20" y="58.35" width="1.10" height="1.10" fill="#ababab"/>
<rect x="291.55" y="66.39" width="1.10" height="1.10" fill="#ababab"/>
<rect x="331.49" y="69.84" width="1.10" height="1.10" fill="#ababab"/>
<rect x="331.62" y="59.44" width="1.10" height="1.10" fill="#ababab"/>
<rect x="351.39" y="66.20" width="1.10" height="1.10" fill="#ababab"/>
<rect x="331.06" y="69.65" width="1.10" height="1.10" fill="#ababab"/>
<rect x="291.86" y="65.05" width="1.10" height="1.10" fill="#ababab"/>
<rect x="298.95" y="69.98" width="1.10" height="1.10" fill="#ababab"/>
<rect x="299.46" y="70.84" width="1.10" height="1.10" fill="#ababab"/>
<rect x="306.43" y="54.08" width="1.10" height="1.10" fill="#ababab"/>
<rect x="306.22" y="74.47" width="1.10" height="1.10" fill="#ababab"/>
<rect x="308.49" y="53.52" width="1.10" height="1.10" fill="#ababab"/>
<rect x="302.88" y="57.17" width="1.10" height="1.10" fill="#ababab"/>
<rect x="314.58" y="52.48" width="1.10" height="1.10" fill="#ababab"/>
<rect x="344.43" y="63.38" width="1.10" height="1.10" fill="#ababab"/>
<rect x="331.76" y="69.40" width="1.10" height="1.10" fill="#ababab"/>
<rect x="317.91" y="54.37" width="1.10" height="1.10" fill="#ababab"/>
<rect x="319.24" y="73.51" width="1.10" height="1.10" fill="#ababab"/>
<rect x="320.44" y="55.35" width="1.10" height="1.10" fill="#ababab"/>
<rect x="305.14" y="55.43" width="1.10" height="1.10" fill="#ababab"/>
<rect x="313.16" y="52.80" width="1.10" height="1.10" fill="#ababab"/>
<rect x="348.55" y="66.20" width="1.10" height="1.10" fill="#ababab"/>
<rect x="336.72" y="68.61" width="1.10" height="1.10" fill="#ababab"/>
<rect x="344.47" y="66.94" width="1.10" height="1.10" fill="#ababab"/>
<rect x="348.99" y="65.96" width="1.10" height="1.10" fill="#ababab"/>
<rect x="305.69" y="54.66" width="1.10" height="1.10" fill="#ababab"/>
<rect x="296.06" y="64.44" width="1.10" height="1.10" fill="#ababab"/>
<rect x="347.78" y="64.83" width="1.10" height="1.10" fill="#ababab"/>
<rect x="318.81" y="54.56" width="1.10" height="1.10" fill="#ababab"/>
<rect x="303.58" y="73.53" width="1.10" height="1.10" fill="#ababab"/>
<rect x="351.48" y="66.23" width="1.10" height="1.10" fill="#ababab"/>
<rect x="302.02" y="58.06" width="1.10" height="1.10" fill="#ababab"/>
<rect x="292.46" y="65.94" width="1.10" height="1.10" fill="#ababab"/>
<rect x="336.49" y="68.49" width="1.10" height="1.10" fill="#ababab"/>
<rect x="328.15" y="71.83" width="1.10" height="1.10" fill="#ababab"/>
<rect x="299.87" y="71.79" width="1.10" height="1.10" fill="#ababab"/>
<rect x="343.67" y="63.29" width="1.10" height="1.10" fill="#ababab"/>
<rect x="346.47" y="64.36" width="1.10" height="1.10" fill="#ababab"/>
<rect x="346.40" y="63.88" width="1.10" height="1.10" fill="#ababab"/>
<rect x="304.29" y="55.99" width="1.10" height="1.10" fill="#ababab"/>
<rect x="302.73" y="72.98" width="1.10" height="1.10" fill="#ababab"/>
<rect x="326.82" y="72.28" width="1.10" height="1.10" fill="#ababab"/>
<rect x="291.73" y="65.02" width="1.10" height="1.10" fill="#ababab"/>
<rect x="305.29" y="52.70" width="1.10" height="1.10" fill="#ababab"/>
<rect x="321.21" y="72.65" width="1.10" height="1.10" fill="#ababab"/>
<rect x="329.16" y="58.47" width="1.10" height="1.10" fill="#ababab"/>
<rect x="352.42" y="66.64" width="1.10" height="1.10" fill="#ababab"/>
<rect x="304.87" y="74.31" width="1.10" height="1.10" fill="#ababab"/>
<rect x="312.05" y="75.94" width="1.10" height="1.10" fill="#ababab"/>
<rect x="292.36" y="65.99" width="1.10" height="1.10" fill="#ababab"/>
<rect x="290.96" y="64.66" width="1.10" height="1.10" fill="#ababab"/>
<rect x="306.81" y="52.71" width="1.10" height="1.10" fill="#ababab"/>
<rect x="299.42" y="61.21" width="1.10" height="1.10" fill="#ababab"/>
<rect x="298.36" y="68.64" width="1.10" height="1.10" fill="#ababab"/>
<rect x="323.07" y="72.42" width="1.10" height="1.10" fill="#ababab"/>
<rect x="345.47" y="64.11" width="1.10" height="1.10" fill="#ababab"/>
<rect x="326.96" y="57.37" width="1.10" height="1.10" fill="#ababab"/>
<rect x="316.10" y="75.18" width="1.10" height="1.10" fill="#ababab"/>
<rect x="349.80" y="65.26" width="1.10" height="1.10" fill="#ababab"/>
<rect x="348.88" y="64.66" width="1.10" height="1.10" fill="#ababab"/>
<rect x="297.35" y="63.79" width="1.10" height="1.10" fill="#ababab"/>
<rect x="308.76" y="51.09" width="1.10" height="1.10" fill="#ababab"/>
<rect x="316.79" y="74.23" width="1.10" height="1.10" fill="#ababab"/>
<rect x="343.15" y="67.41" width="1.10" height="1.10" fill="#ababab"/>
<rect x="298.12" y="62.60" width="1.10" height="1.10" fill="#ababab"/>
<rect x="331.42" y="70.27" width="1.10" height="1.10" fill="#ababab"/>
<rect x="350.14" y="65.37" width="1.10" height="1.10" fill="#ababab"/>
<rect x="295.63" y="66.76" width="1.10" height="1.10" fill="#ababab"/>
<rect x="333.51" y="60.09" width="1.10" height="1.10" fill="#ababab"/>
<rect x="305.50" y="53.62" width="1.10" height="1.10" fill="#ababab"/>
<rect x="295.47" y="66.57" width="1.10" height="1.10" fill="#ababab"/>
<rect x="329.34" y="57.94" width="1.10" height="1.10" fill="#ababab"/>
<rect x="291.54" y="66.34" width="1.10" height="1.10" fill="#ababab"/>
<rect x="332.64" y="69.60" width="1.10" height="1.10" fill="#ababab"/>
<rect x="349.90" y="65.64" width="1.10" height="1.10" fill="#ababab"/>
<rect x="305.27" y="54.84" width="1.10" height="1.10" fill="#ababab"/>
<rect x="316.11" y="74.14" width="1.10" height="1.10" fill="#ababab"/>
<rect x="346.31" y="64.35" width="1.10" height="1.10" fill="#ababab"/>
<rect x="331.75" y="70.47" width="1.10" height="1.10" fill="#ababab"/>
<rect x="298.80" y="62.36" width="1.10" height="1.10" fill="#ababab"/>
<rect x="293.14" y="65.66" width="1.10" height="1.10" fill="#ababab"/>
<rect x="315.93" y="52.46" width="1.10" height="1.10" fill="#ababab"/>
<rect x="348.91" y="66.06" width="1.10" height="1.10" fill="#ababab"/>
<rect x="312.82" y="75.38" width="1.10" height="1.10" fill="#ababab"/>
<rect x="320.57" y="55.45" width="1.10" height="1.10" fill="#ababab"/>
<rect x="321.40" y="51.90" width="1.20" height="1.20" fill="#ababab"/>
<rect x="329.40" y="55.90" width="1.20" height="1.20" fill="#ababab"/>
<rect x="339.40" y="58.90" width="1.20" height="1.20" fill="#ababab"/>
<rect x="344.40" y="60.40" width="1.20" height="1.20" fill="#ababab"/>
<rect x="349.40" y="61.90" width="1.20" height="1.20" fill="#ababab"/>
<rect x="335.40" y="57.40" width="1.20" height="1.20" fill="#ababab"/>
<line x1="289.50" y1="66.20" x2="364.40" y2="66.20" stroke="#000" stroke-width="1.3" stroke-dasharray="1.3 1.0"/>
<line x1="289.50" y1="26.20" x2="289.50" y2="103.10" stroke="#231f20" stroke-width="1"/>
<line x1="287.00" y1="26.50" x2="289.50" y2="26.50" stroke="#231f20" stroke-width="1"/>
<text x="285.20" y="27.40" font-size="9" text-anchor="end" font-weight="normal" fill="#231f20">8</text>
<line x1="287.00" y1="47.50" x2="289.50" y2="47.50" stroke="#231f20" stroke-width="1"/>
<text x="285.20" y="48.40" font-size="9" text-anchor="end" font-weight="normal" fill="#231f20">4</text>
<line x1="287.00" y1="66.50" x2="289.50" y2="66.50" stroke="#231f20" stroke-width="1"/>
<text x="285.20" y="67.30" font-size="9" text-anchor="end" font-weight="normal" fill="#231f20">0</text>
<line x1="287.00" y1="84.50" x2="289.50" y2="84.50" stroke="#231f20" stroke-width="1"/>
<text x="285.20" y="85.50" font-size="9" text-anchor="end" font-weight="normal" fill="#231f20">-4</text>
<line x1="287.00" y1="103.50" x2="289.50" y2="103.50" stroke="#231f20" stroke-width="1"/>
<text x="285.20" y="104.30" font-size="9" text-anchor="end" font-weight="normal" fill="#231f20">-8</text>
<line x1="289.50" y1="103.50" x2="364.50" y2="103.50" stroke="#231f20" stroke-width="1"/>
<line x1="289.50" y1="103.10" x2="289.50" y2="105.60" stroke="#231f20" stroke-width="1"/>
<text x="289.50" y="114.20" font-size="9" text-anchor="middle" font-weight="normal" fill="#231f20">-5</text>
<line x1="304.50" y1="103.10" x2="304.50" y2="105.60" stroke="#231f20" stroke-width="1"/>
<text x="304.50" y="114.20" font-size="9" text-anchor="middle" font-weight="normal" fill="#231f20">0</text>
<line x1="319.50" y1="103.10" x2="319.50" y2="105.60" stroke="#231f20" stroke-width="1"/>
<text x="319.50" y="114.20" font-size="9" text-anchor="middle" font-weight="normal" fill="#231f20">5</text>
<line x1="334.50" y1="103.10" x2="334.50" y2="105.60" stroke="#231f20" stroke-width="1"/>
<text x="334.50" y="114.20" font-size="9" text-anchor="middle" font-weight="normal" fill="#231f20">10</text>
<line x1="349.50" y1="103.10" x2="349.50" y2="105.60" stroke="#231f20" stroke-width="1"/>
<text x="349.50" y="114.20" font-size="9" text-anchor="middle" font-weight="normal" fill="#231f20">15</text>
<line x1="364.50" y1="103.10" x2="364.50" y2="105.60" stroke="#231f20" stroke-width="1"/>
<text x="364.50" y="114.20" font-size="9" text-anchor="middle" font-weight="normal" fill="#231f20">20</text>
<text x="273.90" y="61.80" font-size="9" text-anchor="middle" font-weight="normal" fill="#231f20" transform="rotate(-90 273.90 61.80)">Fold difference [log<tspan font-size="5.5" dy="1.8">2</tspan><tspan dy="-1.8">]</tspan></text>
<ellipse cx="316.3" cy="49.6" rx="2" ry="1.1" fill="#ff2a2a" transform="rotate(25 316.3 49.6)"/>
<circle cx="317.90" cy="77.30" r="1.3" fill="#1a1aff"/>
<circle cx="316.40" cy="81.40" r="1.3" fill="#1a1aff"/>
<circle cx="339.00" cy="101.20" r="1.3" fill="#1a1aff"/>
<text x="315.00" y="44.00" font-size="8.4" text-anchor="start" font-weight="normal" font-style="italic" fill="#231f20">Gm15477</text>
<text x="319.70" y="50.90" font-size="8.4" text-anchor="start" font-weight="normal" font-style="italic" fill="#231f20">Stra6</text>
<text x="320.30" y="78.80" font-size="8.5" text-anchor="start" font-weight="normal" font-style="italic" fill="#231f20">LOC118568625</text>
<text x="317.60" y="86.60" font-size="8.4" text-anchor="start" font-weight="normal" font-style="italic" fill="#231f20">Gm15477</text>
<text x="340.60" y="99.50" font-size="9.4" text-anchor="start" font-weight="normal" font-style="italic" fill="#231f20">Hnmpr</text>
<text x="334.30" y="9.60" font-size="9.7" text-anchor="middle" font-weight="normal" fill="#231f20"><tspan font-style="italic">P</tspan>adj &lt; 0.05</text>
<text x="329.40" y="126.60" font-size="9" text-anchor="middle" font-weight="normal" fill="#231f20">Base mean [log<tspan font-size="5.5" dy="1.8">2</tspan><tspan dy="-1.8">]</tspan></text>
<text x="330.10" y="137.70" font-size="9" text-anchor="middle" font-weight="normal" fill="#231f20">Axons</text>
<line x1="440.60" y1="24.20" x2="440.60" y2="103.20" stroke="#8a8a8a" stroke-width="0.9" stroke-dasharray="0.9 1.2"/>
<path d="M425.80,64.30 L434.40,61.20 L440.10,56.80 L448.80,56.10 L463.10,57.60 L477.50,59.70 L487.60,61.90 L491.90,64.30 L491.90,62.30 L487.60,63.50 L477.50,64.90 L463.10,66.30 L448.80,68.50 L440.10,69.90 L434.40,64.90 L425.80,62.30Z" fill="#a2a2a6"/>
<rect x="469.93" y="56.96" width="1.10" height="1.10" fill="#a2a2a6"/>
<rect x="475.93" y="65.49" width="1.10" height="1.10" fill="#a2a2a6"/>
<rect x="467.69" y="65.77" width="1.10" height="1.10" fill="#a2a2a6"/>
<rect x="438.23" y="70.44" width="1.10" height="1.10" fill="#a2a2a6"/>
<rect x="445.14" y="55.27" width="1.10" height="1.10" fill="#a2a2a6"/>
<rect x="481.41" y="64.25" width="1.10" height="1.10" fill="#a2a2a6"/>
<rect x="464.17" y="56.33" width="1.10" height="1.10" fill="#a2a2a6"/>
<rect x="473.21" y="58.53" width="1.10" height="1.10" fill="#a2a2a6"/>
<rect x="429.88" y="61.92" width="1.10" height="1.10" fill="#a2a2a6"/>
<rect x="425.51" y="63.64" width="1.10" height="1.10" fill="#a2a2a6"/>
<rect x="442.78" y="69.01" width="1.10" height="1.10" fill="#a2a2a6"/>
<rect x="432.80" y="64.04" width="1.10" height="1.10" fill="#a2a2a6"/>
<rect x="489.36" y="62.56" width="1.10" height="1.10" fill="#a2a2a6"/>
<rect x="446.41" y="54.76" width="1.10" height="1.10" fill="#a2a2a6"/>
<rect x="456.90" y="56.10" width="1.10" height="1.10" fill="#a2a2a6"/>
<rect x="435.99" y="58.90" width="1.10" height="1.10" fill="#a2a2a6"/>
<rect x="466.50" y="65.47" width="1.10" height="1.10" fill="#a2a2a6"/>
<rect x="473.42" y="57.57" width="1.10" height="1.10" fill="#a2a2a6"/>
<rect x="457.76" y="55.51" width="1.10" height="1.10" fill="#a2a2a6"/>
<rect x="428.64" y="62.44" width="1.10" height="1.10" fill="#a2a2a6"/>
<rect x="471.03" y="58.19" width="1.10" height="1.10" fill="#a2a2a6"/>
<rect x="477.94" y="64.58" width="1.10" height="1.10" fill="#a2a2a6"/>
<rect x="431.48" y="63.81" width="1.10" height="1.10" fill="#a2a2a6"/>
<rect x="478.40" y="64.88" width="1.10" height="1.10" fill="#a2a2a6"/>
<rect x="440.54" y="55.57" width="1.10" height="1.10" fill="#a2a2a6"/>
<rect x="434.39" y="59.69" width="1.10" height="1.10" fill="#a2a2a6"/>
<rect x="463.75" y="56.84" width="1.10" height="1.10" fill="#a2a2a6"/>
<rect x="442.34" y="55.53" width="1.10" height="1.10" fill="#a2a2a6"/>
<rect x="460.49" y="67.39" width="1.10" height="1.10" fill="#a2a2a6"/>
<rect x="439.86" y="55.95" width="1.10" height="1.10" fill="#a2a2a6"/>
<rect x="467.54" y="66.42" width="1.10" height="1.10" fill="#a2a2a6"/>
<rect x="438.78" y="55.57" width="1.10" height="1.10" fill="#a2a2a6"/>
<rect x="469.04" y="57.73" width="1.10" height="1.10" fill="#a2a2a6"/>
<rect x="476.23" y="64.75" width="1.10" height="1.10" fill="#a2a2a6"/>
<rect x="472.60" y="64.92" width="1.10" height="1.10" fill="#a2a2a6"/>
<rect x="446.10" y="69.04" width="1.10" height="1.10" fill="#a2a2a6"/>
<rect x="428.93" y="62.91" width="1.10" height="1.10" fill="#a2a2a6"/>
<rect x="459.21" y="56.55" width="1.10" height="1.10" fill="#a2a2a6"/>
<rect x="486.83" y="63.16" width="1.10" height="1.10" fill="#a2a2a6"/>
<rect x="433.15" y="64.20" width="1.10" height="1.10" fill="#a2a2a6"/>
<rect x="459.71" y="56.53" width="1.10" height="1.10" fill="#a2a2a6"/>
<rect x="476.51" y="58.43" width="1.10" height="1.10" fill="#a2a2a6"/>
<rect x="429.88" y="61.91" width="1.10" height="1.10" fill="#a2a2a6"/>
<rect x="469.44" y="58.00" width="1.10" height="1.10" fill="#a2a2a6"/>
<rect x="446.29" y="55.35" width="1.10" height="1.10" fill="#a2a2a6"/>
<rect x="449.82" y="54.21" width="1.10" height="1.10" fill="#a2a2a6"/>
<rect x="486.56" y="63.12" width="1.10" height="1.10" fill="#a2a2a6"/>
<rect x="455.37" y="67.14" width="1.10" height="1.10" fill="#a2a2a6"/>
<rect x="443.66" y="53.96" width="1.10" height="1.10" fill="#a2a2a6"/>
<rect x="433.77" y="60.57" width="1.10" height="1.10" fill="#a2a2a6"/>
<rect x="466.19" y="56.47" width="1.10" height="1.10" fill="#a2a2a6"/>
<rect x="476.20" y="58.65" width="1.10" height="1.10" fill="#a2a2a6"/>
<rect x="430.91" y="61.11" width="1.10" height="1.10" fill="#a2a2a6"/>
<rect x="428.64" y="62.29" width="1.10" height="1.10" fill="#a2a2a6"/>
<rect x="476.01" y="58.85" width="1.10" height="1.10" fill="#a2a2a6"/>
<rect x="436.09" y="66.48" width="1.10" height="1.10" fill="#a2a2a6"/>
<rect x="480.32" y="59.53" width="1.10" height="1.10" fill="#a2a2a6"/>
<rect x="453.39" y="54.73" width="1.10" height="1.10" fill="#a2a2a6"/>
<rect x="433.40" y="60.61" width="1.10" height="1.10" fill="#a2a2a6"/>
<rect x="442.41" y="68.97" width="1.10" height="1.10" fill="#a2a2a6"/>
<rect x="484.19" y="64.20" width="1.10" height="1.10" fill="#a2a2a6"/>
<rect x="465.18" y="57.11" width="1.10" height="1.10" fill="#a2a2a6"/>
<rect x="456.00" y="66.81" width="1.10" height="1.10" fill="#a2a2a6"/>
<rect x="438.05" y="68.51" width="1.10" height="1.10" fill="#a2a2a6"/>
<rect x="432.32" y="64.03" width="1.10" height="1.10" fill="#a2a2a6"/>
<rect x="442.12" y="55.47" width="1.10" height="1.10" fill="#a2a2a6"/>
<rect x="490.73" y="63.38" width="1.10" height="1.10" fill="#a2a2a6"/>
<rect x="436.67" y="67.37" width="1.10" height="1.10" fill="#a2a2a6"/>
<rect x="447.83" y="54.13" width="1.10" height="1.10" fill="#a2a2a6"/>
<rect x="482.30" y="63.97" width="1.10" height="1.10" fill="#a2a2a6"/>
<rect x="425.94" y="62.02" width="1.10" height="1.10" fill="#a2a2a6"/>
<rect x="488.18" y="61.72" width="1.10" height="1.10" fill="#a2a2a6"/>
<rect x="481.34" y="63.78" width="1.10" height="1.10" fill="#a2a2a6"/>
<rect x="450.01" y="54.88" width="1.10" height="1.10" fill="#a2a2a6"/>
<rect x="450.25" y="55.48" width="1.10" height="1.10" fill="#a2a2a6"/>
<rect x="452.39" y="69.27" width="1.10" height="1.10" fill="#a2a2a6"/>
<rect x="483.90" y="63.41" width="1.10" height="1.10" fill="#a2a2a6"/>
<rect x="478.41" y="65.27" width="1.10" height="1.10" fill="#a2a2a6"/>
<rect x="473.37" y="64.88" width="1.10" height="1.10" fill="#a2a2a6"/>
<rect x="468.61" y="57.45" width="1.10" height="1.10" fill="#a2a2a6"/>
<rect x="480.75" y="59.59" width="1.10" height="1.10" fill="#a2a2a6"/>
<rect x="479.49" y="59.60" width="1.10" height="1.10" fill="#a2a2a6"/>
<rect x="481.03" y="63.96" width="1.10" height="1.10" fill="#a2a2a6"/>
<rect x="487.27" y="62.99" width="1.10" height="1.10" fill="#a2a2a6"/>
<rect x="470.00" y="66.31" width="1.10" height="1.10" fill="#a2a2a6"/>
<rect x="461.46" y="56.44" width="1.10" height="1.10" fill="#a2a2a6"/>
<rect x="447.68" y="68.41" width="1.10" height="1.10" fill="#a2a2a6"/>
<rect x="439.40" y="54.58" width="1.10" height="1.10" fill="#a2a2a6"/>
<rect x="441.73" y="55.98" width="1.10" height="1.10" fill="#a2a2a6"/>
<rect x="477.90" y="59.25" width="1.10" height="1.10" fill="#a2a2a6"/>
<rect x="429.92" y="62.06" width="1.10" height="1.10" fill="#a2a2a6"/>
<rect x="455.79" y="55.74" width="1.10" height="1.10" fill="#a2a2a6"/>
<rect x="478.29" y="64.43" width="1.10" height="1.10" fill="#a2a2a6"/>
<rect x="484.39" y="60.32" width="1.10" height="1.10" fill="#a2a2a6"/>
<rect x="484.72" y="63.53" width="1.10" height="1.10" fill="#a2a2a6"/>
<rect x="463.14" y="55.64" width="1.10" height="1.10" fill="#a2a2a6"/>
<rect x="464.08" y="66.49" width="1.10" height="1.10" fill="#a2a2a6"/>
<rect x="452.77" y="67.37" width="1.10" height="1.10" fill="#a2a2a6"/>
<rect x="469.24" y="57.61" width="1.10" height="1.10" fill="#a2a2a6"/>
<rect x="488.62" y="62.64" width="1.10" height="1.10" fill="#a2a2a6"/>
<rect x="433.50" y="64.78" width="1.10" height="1.10" fill="#a2a2a6"/>
<rect x="453.83" y="67.35" width="1.10" height="1.10" fill="#a2a2a6"/>
<rect x="453.63" y="54.46" width="1.10" height="1.10" fill="#a2a2a6"/>
<rect x="477.39" y="59.10" width="1.10" height="1.10" fill="#a2a2a6"/>
<rect x="439.95" y="69.49" width="1.10" height="1.10" fill="#a2a2a6"/>
<rect x="483.62" y="63.67" width="1.10" height="1.10" fill="#a2a2a6"/>
<rect x="453.90" y="55.63" width="1.10" height="1.10" fill="#a2a2a6"/>
<rect x="438.58" y="54.99" width="1.10" height="1.10" fill="#a2a2a6"/>
<rect x="447.00" y="68.59" width="1.10" height="1.10" fill="#a2a2a6"/>
<rect x="458.32" y="67.43" width="1.10" height="1.10" fill="#a2a2a6"/>
<rect x="434.72" y="65.80" width="1.10" height="1.10" fill="#a2a2a6"/>
<rect x="477.81" y="59.34" width="1.10" height="1.10" fill="#a2a2a6"/>
<rect x="485.41" y="63.21" width="1.10" height="1.10" fill="#a2a2a6"/>
<rect x="449.16" y="69.62" width="1.10" height="1.10" fill="#a2a2a6"/>
<rect x="438.96" y="54.78" width="1.10" height="1.10" fill="#a2a2a6"/>
<rect x="484.77" y="63.28" width="1.10" height="1.10" fill="#a2a2a6"/>
<rect x="459.01" y="66.75" width="1.10" height="1.10" fill="#a2a2a6"/>
<rect x="466.96" y="65.47" width="1.10" height="1.10" fill="#a2a2a6"/>
<rect x="453.27" y="67.22" width="1.10" height="1.10" fill="#a2a2a6"/>
<rect x="453.03" y="67.94" width="1.10" height="1.10" fill="#a2a2a6"/>
<rect x="456.20" y="55.56" width="1.10" height="1.10" fill="#a2a2a6"/>
<rect x="472.64" y="64.79" width="1.10" height="1.10" fill="#a2a2a6"/>
<rect x="440.92" y="55.58" width="1.10" height="1.10" fill="#a2a2a6"/>
<rect x="465.10" y="65.55" width="1.10" height="1.10" fill="#a2a2a6"/>
<rect x="438.60" y="68.79" width="1.10" height="1.10" fill="#a2a2a6"/>
<rect x="472.32" y="65.82" width="1.10" height="1.10" fill="#a2a2a6"/>
<rect x="443.26" y="69.02" width="1.10" height="1.10" fill="#a2a2a6"/>
<rect x="487.66" y="61.65" width="1.10" height="1.10" fill="#a2a2a6"/>
<rect x="430.96" y="61.57" width="1.10" height="1.10" fill="#a2a2a6"/>
<rect x="434.64" y="59.28" width="1.10" height="1.10" fill="#a2a2a6"/>
<rect x="467.47" y="65.90" width="1.10" height="1.10" fill="#a2a2a6"/>
<rect x="441.45" y="54.78" width="1.10" height="1.10" fill="#a2a2a6"/>
<rect x="435.91" y="58.64" width="1.10" height="1.10" fill="#a2a2a6"/>
<rect x="435.95" y="58.63" width="1.10" height="1.10" fill="#a2a2a6"/>
<rect x="430.87" y="61.59" width="1.10" height="1.10" fill="#a2a2a6"/>
<rect x="437.39" y="56.98" width="1.10" height="1.10" fill="#a2a2a6"/>
<rect x="454.32" y="69.17" width="1.10" height="1.10" fill="#a2a2a6"/>
<rect x="456.41" y="56.22" width="1.10" height="1.10" fill="#a2a2a6"/>
<rect x="464.38" y="57.17" width="1.10" height="1.10" fill="#a2a2a6"/>
<rect x="471.61" y="65.09" width="1.10" height="1.10" fill="#a2a2a6"/>
<rect x="451.91" y="55.19" width="1.10" height="1.10" fill="#a2a2a6"/>
<rect x="470.91" y="57.99" width="1.10" height="1.10" fill="#a2a2a6"/>
<rect x="435.32" y="65.70" width="1.10" height="1.10" fill="#a2a2a6"/>
<rect x="481.40" y="63.75" width="1.10" height="1.10" fill="#a2a2a6"/>
<rect x="448.68" y="68.68" width="1.10" height="1.10" fill="#a2a2a6"/>
<rect x="453.84" y="55.70" width="1.10" height="1.10" fill="#a2a2a6"/>
<rect x="461.88" y="66.04" width="1.10" height="1.10" fill="#a2a2a6"/>
<rect x="434.86" y="58.53" width="1.10" height="1.10" fill="#a2a2a6"/>
<rect x="481.54" y="64.24" width="1.10" height="1.10" fill="#a2a2a6"/>
<rect x="447.73" y="68.76" width="1.10" height="1.10" fill="#a2a2a6"/>
<rect x="461.56" y="56.78" width="1.10" height="1.10" fill="#a2a2a6"/>
<rect x="484.58" y="63.44" width="1.10" height="1.10" fill="#a2a2a6"/>
<rect x="427.02" y="63.01" width="1.10" height="1.10" fill="#a2a2a6"/>
<rect x="449.27" y="67.93" width="1.10" height="1.10" fill="#a2a2a6"/>
<rect x="448.37" y="69.09" width="1.10" height="1.10" fill="#a2a2a6"/>
<rect x="456.77" y="55.89" width="1.10" height="1.10" fill="#a2a2a6"/>
<rect x="450.84" y="67.71" width="1.10" height="1.10" fill="#a2a2a6"/>
<rect x="449.74" y="55.02" width="1.10" height="1.10" fill="#a2a2a6"/>
<rect x="449.24" y="68.50" width="1.10" height="1.10" fill="#a2a2a6"/>
<rect x="447.22" y="68.29" width="1.10" height="1.10" fill="#a2a2a6"/>
<rect x="435.84" y="66.53" width="1.10" height="1.10" fill="#a2a2a6"/>
<rect x="429.18" y="62.96" width="1.10" height="1.10" fill="#a2a2a6"/>
<rect x="434.96" y="59.38" width="1.10" height="1.10" fill="#a2a2a6"/>
<rect x="473.73" y="64.83" width="1.10" height="1.10" fill="#a2a2a6"/>
<rect x="485.42" y="63.85" width="1.10" height="1.10" fill="#a2a2a6"/>
<rect x="431.17" y="63.75" width="1.10" height="1.10" fill="#a2a2a6"/>
<rect x="453.94" y="56.13" width="1.10" height="1.10" fill="#a2a2a6"/>
<rect x="450.75" y="54.03" width="1.10" height="1.10" fill="#a2a2a6"/>
<rect x="482.95" y="64.37" width="1.10" height="1.10" fill="#a2a2a6"/>
<rect x="427.77" y="62.65" width="1.10" height="1.10" fill="#a2a2a6"/>
<rect x="433.46" y="60.64" width="1.10" height="1.10" fill="#a2a2a6"/>
<rect x="432.68" y="60.57" width="1.10" height="1.10" fill="#a2a2a6"/>
<rect x="437.21" y="68.34" width="1.10" height="1.10" fill="#a2a2a6"/>
<rect x="449.09" y="69.92" width="1.10" height="1.10" fill="#a2a2a6"/>
<rect x="453.97" y="56.14" width="1.10" height="1.10" fill="#a2a2a6"/>
<rect x="489.67" y="62.30" width="1.10" height="1.10" fill="#a2a2a6"/>
<rect x="471.91" y="58.26" width="1.10" height="1.10" fill="#a2a2a6"/>
<rect x="448.45" y="68.39" width="1.10" height="1.10" fill="#a2a2a6"/>
<rect x="429.15" y="62.95" width="1.10" height="1.10" fill="#a2a2a6"/>
<rect x="454.31" y="67.23" width="1.10" height="1.10" fill="#a2a2a6"/>
<rect x="463.30" y="56.37" width="1.10" height="1.10" fill="#a2a2a6"/>
<rect x="447.52" y="54.78" width="1.10" height="1.10" fill="#a2a2a6"/>
<rect x="487.61" y="63.05" width="1.10" height="1.10" fill="#a2a2a6"/>
<rect x="434.67" y="59.67" width="1.10" height="1.10" fill="#a2a2a6"/>
<rect x="450.59" y="69.21" width="1.10" height="1.10" fill="#a2a2a6"/>
<rect x="477.20" y="64.34" width="1.10" height="1.10" fill="#a2a2a6"/>
<rect x="425.62" y="61.89" width="1.10" height="1.10" fill="#a2a2a6"/>
<rect x="462.92" y="66.32" width="1.10" height="1.10" fill="#a2a2a6"/>
<rect x="452.27" y="69.32" width="1.10" height="1.10" fill="#a2a2a6"/>
<rect x="465.91" y="57.07" width="1.10" height="1.10" fill="#a2a2a6"/>
<rect x="450.14" y="54.44" width="1.10" height="1.10" fill="#a2a2a6"/>
<rect x="477.35" y="64.83" width="1.10" height="1.10" fill="#a2a2a6"/>
<rect x="490.74" y="61.95" width="1.10" height="1.10" fill="#a2a2a6"/>
<rect x="442.59" y="70.24" width="1.10" height="1.10" fill="#a2a2a6"/>
<rect x="435.72" y="66.52" width="1.10" height="1.10" fill="#a2a2a6"/>
<rect x="486.25" y="61.16" width="1.10" height="1.10" fill="#a2a2a6"/>
<rect x="486.74" y="63.27" width="1.10" height="1.10" fill="#a2a2a6"/>
<rect x="463.15" y="66.77" width="1.10" height="1.10" fill="#a2a2a6"/>
<rect x="464.02" y="56.96" width="1.10" height="1.10" fill="#a2a2a6"/>
<rect x="476.62" y="59.01" width="1.10" height="1.10" fill="#a2a2a6"/>
<rect x="443.54" y="55.26" width="1.10" height="1.10" fill="#a2a2a6"/>
<rect x="473.26" y="58.14" width="1.10" height="1.10" fill="#a2a2a6"/>
<rect x="473.52" y="65.26" width="1.10" height="1.10" fill="#a2a2a6"/>
<rect x="472.96" y="58.16" width="1.10" height="1.10" fill="#a2a2a6"/>
<rect x="468.50" y="56.85" width="1.10" height="1.10" fill="#a2a2a6"/>
<rect x="487.59" y="63.19" width="1.10" height="1.10" fill="#a2a2a6"/>
<rect x="453.46" y="67.69" width="1.10" height="1.10" fill="#a2a2a6"/>
<rect x="455.41" y="68.27" width="1.10" height="1.10" fill="#a2a2a6"/>
<rect x="451.77" y="67.85" width="1.10" height="1.10" fill="#a2a2a6"/>
<rect x="474.77" y="58.78" width="1.10" height="1.10" fill="#a2a2a6"/>
<rect x="470.17" y="57.34" width="1.10" height="1.10" fill="#a2a2a6"/>
<rect x="474.19" y="58.69" width="1.10" height="1.10" fill="#a2a2a6"/>
<rect x="467.35" y="57.74" width="1.10" height="1.10" fill="#a2a2a6"/>
<rect x="427.45" y="62.76" width="1.10" height="1.10" fill="#a2a2a6"/>
<rect x="430.99" y="63.55" width="1.10" height="1.10" fill="#a2a2a6"/>
<rect x="455.96" y="56.21" width="1.10" height="1.10" fill="#a2a2a6"/>
<rect x="472.76" y="65.55" width="1.10" height="1.10" fill="#a2a2a6"/>
<rect x="437.50" y="56.13" width="1.10" height="1.10" fill="#a2a2a6"/>
<rect x="479.10" y="59.40" width="1.10" height="1.10" fill="#a2a2a6"/>
<rect x="447.48" y="54.64" width="1.10" height="1.10" fill="#a2a2a6"/>
<rect x="486.72" y="61.23" width="1.10" height="1.10" fill="#a2a2a6"/>
<rect x="485.57" y="60.80" width="1.10" height="1.10" fill="#a2a2a6"/>
<rect x="485.17" y="63.75" width="1.10" height="1.10" fill="#a2a2a6"/>
<rect x="466.95" y="65.55" width="1.10" height="1.10" fill="#a2a2a6"/>
<rect x="481.75" y="59.45" width="1.10" height="1.10" fill="#a2a2a6"/>
<rect x="478.50" y="64.77" width="1.10" height="1.10" fill="#a2a2a6"/>
<rect x="474.48" y="57.73" width="1.10" height="1.10" fill="#a2a2a6"/>
<rect x="488.84" y="62.52" width="1.10" height="1.10" fill="#a2a2a6"/>
<rect x="435.86" y="66.76" width="1.10" height="1.10" fill="#a2a2a6"/>
<rect x="436.34" y="58.48" width="1.10" height="1.10" fill="#a2a2a6"/>
<rect x="456.34" y="56.30" width="1.10" height="1.10" fill="#a2a2a6"/>
<rect x="461.87" y="66.63" width="1.10" height="1.10" fill="#a2a2a6"/>
<rect x="464.21" y="56.73" width="1.10" height="1.10" fill="#a2a2a6"/>
<rect x="488.69" y="62.60" width="1.10" height="1.10" fill="#a2a2a6"/>
<rect x="434.53" y="65.44" width="1.10" height="1.10" fill="#a2a2a6"/>
<rect x="461.44" y="56.77" width="1.10" height="1.10" fill="#a2a2a6"/>
<rect x="427.14" y="63.01" width="1.10" height="1.10" fill="#a2a2a6"/>
<rect x="466.86" y="65.75" width="1.10" height="1.10" fill="#a2a2a6"/>
<rect x="487.93" y="63.05" width="1.10" height="1.10" fill="#a2a2a6"/>
<rect x="467.16" y="66.64" width="1.10" height="1.10" fill="#a2a2a6"/>
<rect x="482.27" y="63.96" width="1.10" height="1.10" fill="#a2a2a6"/>
<rect x="445.10" y="69.40" width="1.10" height="1.10" fill="#a2a2a6"/>
<rect x="441.39" y="69.17" width="1.10" height="1.10" fill="#a2a2a6"/>
<rect x="461.81" y="56.93" width="1.10" height="1.10" fill="#a2a2a6"/>
<rect x="458.79" y="55.98" width="1.10" height="1.10" fill="#a2a2a6"/>
<rect x="470.48" y="65.82" width="1.10" height="1.10" fill="#a2a2a6"/>
<rect x="490.83" y="61.90" width="1.10" height="1.10" fill="#a2a2a6"/>
<rect x="428.50" y="62.57" width="1.10" height="1.10" fill="#a2a2a6"/>
<rect x="489.31" y="62.59" width="1.10" height="1.10" fill="#a2a2a6"/>
<rect x="452.73" y="67.31" width="1.10" height="1.10" fill="#a2a2a6"/>
<rect x="464.22" y="66.11" width="1.10" height="1.10" fill="#a2a2a6"/>
<rect x="437.10" y="67.24" width="1.10" height="1.10" fill="#a2a2a6"/>
<rect x="431.97" y="63.86" width="1.10" height="1.10" fill="#a2a2a6"/>
<rect x="459.33" y="54.94" width="1.10" height="1.10" fill="#a2a2a6"/>
<rect x="489.13" y="62.49" width="1.10" height="1.10" fill="#a2a2a6"/>
<rect x="480.14" y="64.07" width="1.10" height="1.10" fill="#a2a2a6"/>
<rect x="432.55" y="63.98" width="1.10" height="1.10" fill="#a2a2a6"/>
<rect x="449.33" y="68.29" width="1.10" height="1.10" fill="#a2a2a6"/>
<rect x="488.28" y="62.88" width="1.10" height="1.10" fill="#a2a2a6"/>
<rect x="468.44" y="57.87" width="1.10" height="1.10" fill="#a2a2a6"/>
<rect x="473.24" y="65.54" width="1.10" height="1.10" fill="#a2a2a6"/>
<rect x="442.11" y="54.55" width="1.10" height="1.10" fill="#a2a2a6"/>
<rect x="435.70" y="58.22" width="1.10" height="1.10" fill="#a2a2a6"/>
<rect x="435.83" y="66.72" width="1.10" height="1.10" fill="#a2a2a6"/>
<rect x="463.22" y="66.53" width="1.10" height="1.10" fill="#a2a2a6"/>
<rect x="426.25" y="63.36" width="1.10" height="1.10" fill="#a2a2a6"/>
<rect x="453.19" y="56.04" width="1.10" height="1.10" fill="#a2a2a6"/>
<rect x="479.71" y="59.41" width="1.10" height="1.10" fill="#a2a2a6"/>
<rect x="431.37" y="61.33" width="1.10" height="1.10" fill="#a2a2a6"/>
<rect x="475.82" y="58.66" width="1.10" height="1.10" fill="#a2a2a6"/>
<rect x="469.54" y="65.83" width="1.10" height="1.10" fill="#a2a2a6"/>
<rect x="486.30" y="63.15" width="1.10" height="1.10" fill="#a2a2a6"/>
<rect x="437.21" y="57.40" width="1.10" height="1.10" fill="#a2a2a6"/>
<rect x="431.12" y="63.65" width="1.10" height="1.10" fill="#a2a2a6"/>
<rect x="453.25" y="53.97" width="1.10" height="1.10" fill="#a2a2a6"/>
<rect x="441.40" y="55.94" width="1.10" height="1.10" fill="#a2a2a6"/>
<rect x="445.43" y="54.59" width="1.10" height="1.10" fill="#a2a2a6"/>
<rect x="453.60" y="55.36" width="1.10" height="1.10" fill="#a2a2a6"/>
<rect x="428.25" y="62.54" width="1.10" height="1.10" fill="#a2a2a6"/>
<rect x="435.60" y="66.65" width="1.10" height="1.10" fill="#a2a2a6"/>
<rect x="429.11" y="62.96" width="1.10" height="1.10" fill="#a2a2a6"/>
<rect x="474.33" y="64.84" width="1.10" height="1.10" fill="#a2a2a6"/>
<rect x="459.00" y="56.23" width="1.10" height="1.10" fill="#a2a2a6"/>
<rect x="468.96" y="57.34" width="1.10" height="1.10" fill="#a2a2a6"/>
<rect x="484.91" y="60.83" width="1.10" height="1.10" fill="#a2a2a6"/>
<rect x="438.36" y="56.27" width="1.10" height="1.10" fill="#a2a2a6"/>
<rect x="470.69" y="65.22" width="1.10" height="1.10" fill="#a2a2a6"/>
<rect x="469.58" y="57.62" width="1.10" height="1.10" fill="#a2a2a6"/>
<rect x="451.74" y="67.89" width="1.10" height="1.10" fill="#a2a2a6"/>
<rect x="429.91" y="63.21" width="1.10" height="1.10" fill="#a2a2a6"/>
<rect x="490.73" y="61.96" width="1.10" height="1.10" fill="#a2a2a6"/>
<rect x="457.54" y="55.90" width="1.10" height="1.10" fill="#a2a2a6"/>
<rect x="469.53" y="57.86" width="1.10" height="1.10" fill="#a2a2a6"/>
<rect x="486.98" y="63.17" width="1.10" height="1.10" fill="#a2a2a6"/>
<rect x="456.55" y="55.95" width="1.10" height="1.10" fill="#a2a2a6"/>
<rect x="470.58" y="65.00" width="1.10" height="1.10" fill="#a2a2a6"/>
<rect x="463.47" y="66.86" width="1.10" height="1.10" fill="#a2a2a6"/>
<rect x="478.19" y="59.19" width="1.10" height="1.10" fill="#a2a2a6"/>
<rect x="446.54" y="54.44" width="1.10" height="1.10" fill="#a2a2a6"/>
<rect x="448.25" y="68.67" width="1.10" height="1.10" fill="#a2a2a6"/>
<rect x="455.59" y="55.04" width="1.2" height="1.2" fill="#f23a3a"/>
<rect x="483.41" y="59.28" width="1.2" height="1.2" fill="#f23a3a"/>
<rect x="458.83" y="56.12" width="1.2" height="1.2" fill="#f23a3a"/>
<rect x="471.94" y="58.18" width="1.2" height="1.2" fill="#f23a3a"/>
<rect x="478.24" y="59.00" width="1.2" height="1.2" fill="#f23a3a"/>
<rect x="478.58" y="58.98" width="1.2" height="1.2" fill="#f23a3a"/>
<rect x="471.52" y="58.81" width="1.2" height="1.2" fill="#f23a3a"/>
<rect x="469.45" y="58.30" width="1.2" height="1.2" fill="#f23a3a"/>
<rect x="439.06" y="54.90" width="1.2" height="1.2" fill="#f23a3a"/>
<rect x="478.70" y="59.69" width="1.2" height="1.2" fill="#f23a3a"/>
<rect x="484.23" y="59.27" width="1.2" height="1.2" fill="#f23a3a"/>
<rect x="474.67" y="60.72" width="1.2" height="1.2" fill="#f23a3a"/>
<rect x="478.26" y="57.14" width="1.2" height="1.2" fill="#f23a3a"/>
<rect x="468.21" y="56.00" width="1.2" height="1.2" fill="#f23a3a"/>
<rect x="482.03" y="59.28" width="1.2" height="1.2" fill="#f23a3a"/>
<rect x="462.50" y="55.93" width="1.2" height="1.2" fill="#f23a3a"/>
<rect x="460.87" y="55.47" width="1.2" height="1.2" fill="#f23a3a"/>
<rect x="462.13" y="56.97" width="1.2" height="1.2" fill="#f23a3a"/>
<rect x="465.66" y="57.00" width="1.2" height="1.2" fill="#f23a3a"/>
<rect x="461.78" y="56.89" width="1.2" height="1.2" fill="#f23a3a"/>
<rect x="461.83" y="54.82" width="1.2" height="1.2" fill="#f23a3a"/>
<rect x="447.34" y="54.90" width="1.2" height="1.2" fill="#f23a3a"/>
<rect x="463.10" y="56.05" width="1.2" height="1.2" fill="#f23a3a"/>
<rect x="470.92" y="59.65" width="1.2" height="1.2" fill="#f23a3a"/>
<rect x="474.44" y="57.93" width="1.2" height="1.2" fill="#f23a3a"/>
<rect x="481.02" y="59.67" width="1.2" height="1.2" fill="#f23a3a"/>
<rect x="462.14" y="55.56" width="1.2" height="1.2" fill="#f23a3a"/>
<rect x="457.19" y="56.04" width="1.2" height="1.2" fill="#f23a3a"/>
<rect x="471.14" y="58.48" width="1.2" height="1.2" fill="#f23a3a"/>
<rect x="472.17" y="57.17" width="1.2" height="1.2" fill="#f23a3a"/>
<rect x="448.59" y="53.36" width="1.2" height="1.2" fill="#f23a3a"/>
<rect x="452.84" y="55.13" width="1.2" height="1.2" fill="#f23a3a"/>
<rect x="455.26" y="55.23" width="1.2" height="1.2" fill="#f23a3a"/>
<rect x="448.34" y="52.59" width="1.2" height="1.2" fill="#f23a3a"/>
<rect x="449.54" y="54.70" width="1.2" height="1.2" fill="#f23a3a"/>
<rect x="469.67" y="56.27" width="1.2" height="1.2" fill="#f23a3a"/>
<rect x="467.80" y="57.03" width="1.2" height="1.2" fill="#f23a3a"/>
<rect x="441.67" y="53.31" width="1.2" height="1.2" fill="#f23a3a"/>
<rect x="455.31" y="57.70" width="1.2" height="1.2" fill="#f23a3a"/>
<rect x="462.78" y="56.77" width="1.2" height="1.2" fill="#f23a3a"/>
<rect x="469.39" y="59.40" width="1.2" height="1.2" fill="#f23a3a"/>
<rect x="449.33" y="53.98" width="1.2" height="1.2" fill="#f23a3a"/>
<rect x="454.23" y="56.43" width="1.2" height="1.2" fill="#f23a3a"/>
<rect x="472.44" y="59.39" width="1.2" height="1.2" fill="#f23a3a"/>
<rect x="461.09" y="55.46" width="1.2" height="1.2" fill="#f23a3a"/>
<rect x="461.07" y="56.58" width="1.2" height="1.2" fill="#f23a3a"/>
<rect x="471.30" y="59.57" width="1.2" height="1.2" fill="#f23a3a"/>
<rect x="478.38" y="58.21" width="1.2" height="1.2" fill="#f23a3a"/>
<rect x="458.89" y="54.93" width="1.2" height="1.2" fill="#f23a3a"/>
<rect x="483.23" y="60.46" width="1.2" height="1.2" fill="#f23a3a"/>
<rect x="447.24" y="54.62" width="1.2" height="1.2" fill="#f23a3a"/>
<rect x="480.85" y="60.41" width="1.2" height="1.2" fill="#f23a3a"/>
<rect x="477.70" y="58.35" width="1.2" height="1.2" fill="#f23a3a"/>
<rect x="479.43" y="61.24" width="1.2" height="1.2" fill="#f23a3a"/>
<rect x="458.34" y="56.23" width="1.2" height="1.2" fill="#f23a3a"/>
<rect x="455.95" y="56.89" width="1.2" height="1.2" fill="#f23a3a"/>
<rect x="444.33" y="55.00" width="1.2" height="1.2" fill="#f23a3a"/>
<rect x="456.99" y="54.81" width="1.2" height="1.2" fill="#f23a3a"/>
<rect x="465.98" y="56.92" width="1.2" height="1.2" fill="#f23a3a"/>
<rect x="456.65" y="55.58" width="1.2" height="1.2" fill="#f23a3a"/>
<rect x="456.16" y="56.27" width="1.2" height="1.2" fill="#f23a3a"/>
<rect x="473.54" y="58.57" width="1.2" height="1.2" fill="#f23a3a"/>
<rect x="454.05" y="54.42" width="1.2" height="1.2" fill="#f23a3a"/>
<rect x="447.47" y="52.92" width="1.2" height="1.2" fill="#f23a3a"/>
<rect x="439.83" y="53.39" width="1.2" height="1.2" fill="#f23a3a"/>
<rect x="452.27" y="53.55" width="1.2" height="1.2" fill="#f23a3a"/>
<rect x="448.01" y="55.54" width="1.2" height="1.2" fill="#f23a3a"/>
<rect x="449.52" y="52.66" width="1.2" height="1.2" fill="#f23a3a"/>
<rect x="465.56" y="56.05" width="1.2" height="1.2" fill="#f23a3a"/>
<rect x="440.56" y="53.64" width="1.2" height="1.2" fill="#f23a3a"/>
<rect x="453.70" y="54.13" width="1.2" height="1.2" fill="#f23a3a"/>
<rect x="462.11" y="55.08" width="1.2" height="1.2" fill="#f23a3a"/>
<rect x="444.47" y="54.32" width="1.2" height="1.2" fill="#f23a3a"/>
<rect x="457.85" y="56.39" width="1.2" height="1.2" fill="#f23a3a"/>
<rect x="455.43" y="55.62" width="1.2" height="1.2" fill="#f23a3a"/>
<rect x="483.78" y="59.83" width="1.2" height="1.2" fill="#f23a3a"/>
<rect x="449.84" y="54.89" width="1.2" height="1.2" fill="#f23a3a"/>
<rect x="465.62" y="56.26" width="1.2" height="1.2" fill="#f23a3a"/>
<rect x="456.06" y="57.03" width="1.2" height="1.2" fill="#f23a3a"/>
<rect x="475.78" y="59.39" width="1.2" height="1.2" fill="#f23a3a"/>
<rect x="451.15" y="54.80" width="1.2" height="1.2" fill="#f23a3a"/>
<rect x="483.81" y="58.99" width="1.2" height="1.2" fill="#f23a3a"/>
<rect x="441.37" y="53.53" width="1.2" height="1.2" fill="#f23a3a"/>
<rect x="467.33" y="57.70" width="1.2" height="1.2" fill="#f23a3a"/>
<rect x="474.30" y="59.35" width="1.2" height="1.2" fill="#f23a3a"/>
<rect x="456.52" y="54.31" width="1.2" height="1.2" fill="#f23a3a"/>
<rect x="475.28" y="59.48" width="1.2" height="1.2" fill="#f23a3a"/>
<rect x="473.15" y="58.89" width="1.2" height="1.2" fill="#f23a3a"/>
<rect x="458.94" y="56.14" width="1.2" height="1.2" fill="#f23a3a"/>
<rect x="459.91" y="55.82" width="1.2" height="1.2" fill="#f23a3a"/>
<rect x="448.57" y="54.69" width="1.2" height="1.2" fill="#f23a3a"/>
<rect x="443.04" y="54.09" width="1.2" height="1.2" fill="#f23a3a"/>
<rect x="455.69" y="54.16" width="1.2" height="1.2" fill="#f23a3a"/>
<rect x="452.06" y="55.23" width="1.2" height="1.2" fill="#f23a3a"/>
<rect x="470.84" y="55.12" width="1.2" height="1.2" fill="#f23a3a"/>
<rect x="446.60" y="53.88" width="1.2" height="1.2" fill="#f23a3a"/>
<rect x="462.13" y="55.19" width="1.2" height="1.2" fill="#f23a3a"/>
<rect x="478.08" y="59.40" width="1.2" height="1.2" fill="#f23a3a"/>
<rect x="448.43" y="54.91" width="1.2" height="1.2" fill="#f23a3a"/>
<rect x="454.16" y="54.38" width="1.2" height="1.2" fill="#f23a3a"/>
<rect x="466.87" y="56.36" width="1.2" height="1.2" fill="#f23a3a"/>
<rect x="442.74" y="53.77" width="1.2" height="1.2" fill="#f23a3a"/>
<rect x="482.36" y="59.59" width="1.2" height="1.2" fill="#f23a3a"/>
<rect x="468.77" y="57.87" width="1.2" height="1.2" fill="#f23a3a"/>
<rect x="463.11" y="55.91" width="1.2" height="1.2" fill="#f23a3a"/>
<rect x="477.35" y="60.05" width="1.2" height="1.2" fill="#f23a3a"/>
<rect x="454.31" y="52.88" width="1.2" height="1.2" fill="#f23a3a"/>
<rect x="455.32" y="56.44" width="1.2" height="1.2" fill="#f23a3a"/>
<rect x="457.19" y="56.23" width="1.2" height="1.2" fill="#f23a3a"/>
<rect x="469.15" y="58.84" width="1.2" height="1.2" fill="#f23a3a"/>
<rect x="459.21" y="55.14" width="1.2" height="1.2" fill="#f23a3a"/>
<rect x="474.84" y="59.18" width="1.2" height="1.2" fill="#f23a3a"/>
<rect x="459.71" y="56.29" width="1.2" height="1.2" fill="#f23a3a"/>
<rect x="472.27" y="57.39" width="1.2" height="1.2" fill="#f23a3a"/>
<rect x="440.21" y="54.51" width="1.2" height="1.2" fill="#f23a3a"/>
<rect x="469.95" y="60.25" width="1.2" height="1.2" fill="#f23a3a"/>
<rect x="469.64" y="56.56" width="1.2" height="1.2" fill="#f23a3a"/>
<rect x="447.89" y="54.21" width="1.2" height="1.2" fill="#f23a3a"/>
<rect x="446.77" y="53.23" width="1.2" height="1.2" fill="#f23a3a"/>
<rect x="450.67" y="53.33" width="1.2" height="1.2" fill="#f23a3a"/>
<rect x="468.23" y="58.30" width="1.2" height="1.2" fill="#f23a3a"/>
<rect x="446.71" y="55.21" width="1.2" height="1.2" fill="#f23a3a"/>
<rect x="462.08" y="55.65" width="1.2" height="1.2" fill="#f23a3a"/>
<rect x="445.00" y="55.30" width="1.2" height="1.2" fill="#f23a3a"/>
<rect x="460.89" y="55.58" width="1.2" height="1.2" fill="#f23a3a"/>
<rect x="452.94" y="54.50" width="1.2" height="1.2" fill="#f23a3a"/>
<rect x="469.78" y="56.39" width="1.2" height="1.2" fill="#f23a3a"/>
<rect x="474.39" y="58.28" width="1.2" height="1.2" fill="#f23a3a"/>
<rect x="464.90" y="56.89" width="1.2" height="1.2" fill="#f23a3a"/>
<rect x="476.67" y="60.22" width="1.2" height="1.2" fill="#f23a3a"/>
<rect x="464.68" y="56.67" width="1.2" height="1.2" fill="#f23a3a"/>
<rect x="459.31" y="54.80" width="1.2" height="1.2" fill="#f23a3a"/>
<rect x="483.03" y="60.65" width="1.2" height="1.2" fill="#f23a3a"/>
<rect x="443.75" y="52.80" width="1.2" height="1.2" fill="#f23a3a"/>
<rect x="466.74" y="59.36" width="1.2" height="1.2" fill="#f23a3a"/>
<rect x="483.13" y="60.51" width="1.2" height="1.2" fill="#f23a3a"/>
<rect x="472.03" y="57.97" width="1.2" height="1.2" fill="#f23a3a"/>
<rect x="446.96" y="56.10" width="1.2" height="1.2" fill="#f23a3a"/>
<rect x="476.57" y="58.95" width="1.2" height="1.2" fill="#f23a3a"/>
<rect x="479.41" y="59.51" width="1.2" height="1.2" fill="#f23a3a"/>
<rect x="458.92" y="56.44" width="1.2" height="1.2" fill="#f23a3a"/>
<rect x="463.14" y="55.00" width="1.2" height="1.2" fill="#f23a3a"/>
<rect x="478.14" y="59.99" width="1.2" height="1.2" fill="#f23a3a"/>
<rect x="454.32" y="57.10" width="1.2" height="1.2" fill="#f23a3a"/>
<rect x="440.08" y="53.83" width="1.2" height="1.2" fill="#f23a3a"/>
<rect x="442.18" y="54.39" width="1.2" height="1.2" fill="#f23a3a"/>
<rect x="467.30" y="57.63" width="1.2" height="1.2" fill="#f23a3a"/>
<rect x="452.21" y="55.17" width="1.2" height="1.2" fill="#f23a3a"/>
<rect x="451.58" y="56.58" width="1.2" height="1.2" fill="#f23a3a"/>
<rect x="478.49" y="58.37" width="1.2" height="1.2" fill="#f23a3a"/>
<rect x="451.60" y="47.20" width="1.40" height="1.40" fill="#f23a3a"/>
<rect x="454.50" y="49.40" width="1.40" height="1.40" fill="#f23a3a"/>
<rect x="457.40" y="51.60" width="1.40" height="1.40" fill="#f23a3a"/>
<rect x="481.10" y="56.60" width="1.40" height="1.40" fill="#f23a3a"/>
<rect x="467.50" y="55.10" width="1.40" height="1.40" fill="#f23a3a"/>
<rect x="445.30" y="52.10" width="1.40" height="1.40" fill="#f23a3a"/>
<rect x="473.30" y="55.80" width="1.40" height="1.40" fill="#f23a3a"/>
<rect x="480.98" y="63.91" width="1.2" height="1.2" fill="#1c1cf0"/>
<rect x="451.56" y="71.20" width="1.2" height="1.2" fill="#1c1cf0"/>
<rect x="478.35" y="65.90" width="1.2" height="1.2" fill="#1c1cf0"/>
<rect x="449.35" y="70.12" width="1.2" height="1.2" fill="#1c1cf0"/>
<rect x="443.70" y="72.84" width="1.2" height="1.2" fill="#1c1cf0"/>
<rect x="465.31" y="67.63" width="1.2" height="1.2" fill="#1c1cf0"/>
<rect x="475.67" y="66.62" width="1.2" height="1.2" fill="#1c1cf0"/>
<rect x="459.16" y="70.11" width="1.2" height="1.2" fill="#1c1cf0"/>
<rect x="472.52" y="66.14" width="1.2" height="1.2" fill="#1c1cf0"/>
<rect x="479.59" y="65.41" width="1.2" height="1.2" fill="#1c1cf0"/>
<rect x="451.57" y="70.70" width="1.2" height="1.2" fill="#1c1cf0"/>
<rect x="450.18" y="69.69" width="1.2" height="1.2" fill="#1c1cf0"/>
<rect x="468.74" y="66.95" width="1.2" height="1.2" fill="#1c1cf0"/>
<rect x="448.92" y="71.56" width="1.2" height="1.2" fill="#1c1cf0"/>
<rect x="479.49" y="64.73" width="1.2" height="1.2" fill="#1c1cf0"/>
<rect x="460.70" y="69.57" width="1.2" height="1.2" fill="#1c1cf0"/>
<rect x="441.00" y="72.47" width="1.2" height="1.2" fill="#1c1cf0"/>
<rect x="476.25" y="64.67" width="1.2" height="1.2" fill="#1c1cf0"/>
<rect x="454.71" y="70.29" width="1.2" height="1.2" fill="#1c1cf0"/>
<rect x="470.29" y="67.66" width="1.2" height="1.2" fill="#1c1cf0"/>
<rect x="467.21" y="66.94" width="1.2" height="1.2" fill="#1c1cf0"/>
<rect x="446.29" y="72.15" width="1.2" height="1.2" fill="#1c1cf0"/>
<rect x="478.02" y="64.71" width="1.2" height="1.2" fill="#1c1cf0"/>
<rect x="472.56" y="66.72" width="1.2" height="1.2" fill="#1c1cf0"/>
<rect x="448.11" y="71.30" width="1.2" height="1.2" fill="#1c1cf0"/>
<rect x="473.62" y="65.72" width="1.2" height="1.2" fill="#1c1cf0"/>
<rect x="443.82" y="71.87" width="1.2" height="1.2" fill="#1c1cf0"/>
<rect x="459.92" y="70.09" width="1.2" height="1.2" fill="#1c1cf0"/>
<rect x="455.54" y="69.53" width="1.2" height="1.2" fill="#1c1cf0"/>
<rect x="458.05" y="69.24" width="1.2" height="1.2" fill="#1c1cf0"/>
<rect x="439.98" y="72.75" width="1.2" height="1.2" fill="#1c1cf0"/>
<rect x="474.37" y="65.70" width="1.2" height="1.2" fill="#1c1cf0"/>
<rect x="462.81" y="67.75" width="1.2" height="1.2" fill="#1c1cf0"/>
<rect x="445.11" y="71.26" width="1.2" height="1.2" fill="#1c1cf0"/>
<rect x="472.15" y="66.29" width="1.2" height="1.2" fill="#1c1cf0"/>
<rect x="472.53" y="67.93" width="1.2" height="1.2" fill="#1c1cf0"/>
<rect x="468.04" y="67.78" width="1.2" height="1.2" fill="#1c1cf0"/>
<rect x="467.84" y="66.84" width="1.2" height="1.2" fill="#1c1cf0"/>
<rect x="479.44" y="65.43" width="1.2" height="1.2" fill="#1c1cf0"/>
<rect x="457.00" y="69.98" width="1.2" height="1.2" fill="#1c1cf0"/>
<rect x="461.05" y="69.18" width="1.2" height="1.2" fill="#1c1cf0"/>
<rect x="475.86" y="66.31" width="1.2" height="1.2" fill="#1c1cf0"/>
<rect x="456.00" y="70.14" width="1.2" height="1.2" fill="#1c1cf0"/>
<rect x="463.87" y="68.68" width="1.2" height="1.2" fill="#1c1cf0"/>
<rect x="447.78" y="70.60" width="1.2" height="1.2" fill="#1c1cf0"/>
<rect x="458.15" y="69.59" width="1.2" height="1.2" fill="#1c1cf0"/>
<rect x="460.80" y="69.00" width="1.2" height="1.2" fill="#1c1cf0"/>
<rect x="478.49" y="65.34" width="1.2" height="1.2" fill="#1c1cf0"/>
<rect x="448.17" y="72.57" width="1.2" height="1.2" fill="#1c1cf0"/>
<rect x="463.55" y="68.67" width="1.2" height="1.2" fill="#1c1cf0"/>
<rect x="462.22" y="68.90" width="1.2" height="1.2" fill="#1c1cf0"/>
<rect x="452.62" y="71.73" width="1.2" height="1.2" fill="#1c1cf0"/>
<rect x="470.07" y="67.20" width="1.2" height="1.2" fill="#1c1cf0"/>
<rect x="466.80" y="68.64" width="1.2" height="1.2" fill="#1c1cf0"/>
<rect x="455.32" y="69.75" width="1.2" height="1.2" fill="#1c1cf0"/>
<rect x="466.60" y="67.81" width="1.2" height="1.2" fill="#1c1cf0"/>
<rect x="468.59" y="67.88" width="1.2" height="1.2" fill="#1c1cf0"/>
<rect x="470.32" y="67.75" width="1.2" height="1.2" fill="#1c1cf0"/>
<rect x="444.10" y="72.74" width="1.2" height="1.2" fill="#1c1cf0"/>
<rect x="442.00" y="71.10" width="1.2" height="1.2" fill="#1c1cf0"/>
<rect x="450.21" y="71.47" width="1.2" height="1.2" fill="#1c1cf0"/>
<rect x="443.48" y="72.35" width="1.2" height="1.2" fill="#1c1cf0"/>
<rect x="460.21" y="69.05" width="1.2" height="1.2" fill="#1c1cf0"/>
<rect x="459.05" y="69.87" width="1.2" height="1.2" fill="#1c1cf0"/>
<rect x="455.32" y="70.27" width="1.2" height="1.2" fill="#1c1cf0"/>
<rect x="444.63" y="70.83" width="1.2" height="1.2" fill="#1c1cf0"/>
<rect x="449.17" y="71.83" width="1.2" height="1.2" fill="#1c1cf0"/>
<rect x="444.39" y="71.98" width="1.2" height="1.2" fill="#1c1cf0"/>
<rect x="468.83" y="67.76" width="1.2" height="1.2" fill="#1c1cf0"/>
<rect x="448.57" y="69.05" width="1.2" height="1.2" fill="#1c1cf0"/>
<rect x="441.42" y="72.41" width="1.2" height="1.2" fill="#1c1cf0"/>
<rect x="478.54" y="64.72" width="1.2" height="1.2" fill="#1c1cf0"/>
<rect x="456.19" y="69.73" width="1.2" height="1.2" fill="#1c1cf0"/>
<rect x="479.24" y="65.59" width="1.2" height="1.2" fill="#1c1cf0"/>
<rect x="461.15" y="68.16" width="1.2" height="1.2" fill="#1c1cf0"/>
<rect x="471.80" y="67.00" width="1.2" height="1.2" fill="#1c1cf0"/>
<rect x="474.38" y="65.77" width="1.2" height="1.2" fill="#1c1cf0"/>
<rect x="456.76" y="69.79" width="1.2" height="1.2" fill="#1c1cf0"/>
<rect x="476.89" y="64.84" width="1.2" height="1.2" fill="#1c1cf0"/>
<rect x="463.13" y="69.04" width="1.2" height="1.2" fill="#1c1cf0"/>
<rect x="459.05" y="68.81" width="1.2" height="1.2" fill="#1c1cf0"/>
<rect x="463.03" y="68.25" width="1.2" height="1.2" fill="#1c1cf0"/>
<rect x="475.79" y="66.51" width="1.2" height="1.2" fill="#1c1cf0"/>
<rect x="476.45" y="66.11" width="1.2" height="1.2" fill="#1c1cf0"/>
<rect x="480.50" y="66.12" width="1.2" height="1.2" fill="#1c1cf0"/>
<rect x="466.13" y="67.95" width="1.2" height="1.2" fill="#1c1cf0"/>
<rect x="474.89" y="65.74" width="1.2" height="1.2" fill="#1c1cf0"/>
<rect x="452.36" y="70.66" width="1.2" height="1.2" fill="#1c1cf0"/>
<rect x="469.48" y="67.13" width="1.2" height="1.2" fill="#1c1cf0"/>
<rect x="466.57" y="67.31" width="1.2" height="1.2" fill="#1c1cf0"/>
<rect x="467.16" y="67.58" width="1.2" height="1.2" fill="#1c1cf0"/>
<rect x="458.23" y="69.31" width="1.2" height="1.2" fill="#1c1cf0"/>
<rect x="453.39" y="69.86" width="1.2" height="1.2" fill="#1c1cf0"/>
<rect x="445.22" y="71.47" width="1.2" height="1.2" fill="#1c1cf0"/>
<rect x="467.72" y="67.26" width="1.2" height="1.2" fill="#1c1cf0"/>
<rect x="452.59" y="71.75" width="1.2" height="1.2" fill="#1c1cf0"/>
<rect x="462.55" y="68.71" width="1.2" height="1.2" fill="#1c1cf0"/>
<rect x="470.24" y="66.72" width="1.2" height="1.2" fill="#1c1cf0"/>
<rect x="442.73" y="72.34" width="1.2" height="1.2" fill="#1c1cf0"/>
<rect x="469.95" y="67.04" width="1.2" height="1.2" fill="#1c1cf0"/>
<rect x="455.20" y="70.33" width="1.2" height="1.2" fill="#1c1cf0"/>
<rect x="460.70" y="69.59" width="1.2" height="1.2" fill="#1c1cf0"/>
<rect x="457.12" y="70.27" width="1.2" height="1.2" fill="#1c1cf0"/>
<rect x="452.35" y="71.18" width="1.2" height="1.2" fill="#1c1cf0"/>
<rect x="480.04" y="64.66" width="1.2" height="1.2" fill="#1c1cf0"/>
<rect x="449.36" y="71.67" width="1.2" height="1.2" fill="#1c1cf0"/>
<rect x="480.11" y="64.76" width="1.2" height="1.2" fill="#1c1cf0"/>
<rect x="474.45" y="67.10" width="1.2" height="1.2" fill="#1c1cf0"/>
<rect x="456.22" y="69.85" width="1.2" height="1.2" fill="#1c1cf0"/>
<rect x="444.45" y="71.38" width="1.2" height="1.2" fill="#1c1cf0"/>
<rect x="441.65" y="70.99" width="1.2" height="1.2" fill="#1c1cf0"/>
<rect x="448.33" y="71.82" width="1.2" height="1.2" fill="#1c1cf0"/>
<rect x="458.18" y="69.49" width="1.2" height="1.2" fill="#1c1cf0"/>
<rect x="446.23" y="71.12" width="1.2" height="1.2" fill="#1c1cf0"/>
<rect x="461.45" y="67.33" width="1.2" height="1.2" fill="#1c1cf0"/>
<rect x="477.14" y="66.41" width="1.2" height="1.2" fill="#1c1cf0"/>
<rect x="449.78" y="70.42" width="1.2" height="1.2" fill="#1c1cf0"/>
<rect x="441.31" y="72.13" width="1.2" height="1.2" fill="#1c1cf0"/>
<rect x="458.34" y="69.93" width="1.2" height="1.2" fill="#1c1cf0"/>
<rect x="464.22" y="67.95" width="1.2" height="1.2" fill="#1c1cf0"/>
<rect x="469.38" y="68.68" width="1.2" height="1.2" fill="#1c1cf0"/>
<rect x="444.43" y="72.56" width="1.2" height="1.2" fill="#1c1cf0"/>
<rect x="452.41" y="70.55" width="1.2" height="1.2" fill="#1c1cf0"/>
<rect x="455.48" y="69.84" width="1.2" height="1.2" fill="#1c1cf0"/>
<rect x="445.16" y="71.72" width="1.2" height="1.2" fill="#1c1cf0"/>
<rect x="446.17" y="71.71" width="1.2" height="1.2" fill="#1c1cf0"/>
<rect x="449.13" y="71.48" width="1.2" height="1.2" fill="#1c1cf0"/>
<rect x="447.97" y="71.58" width="1.2" height="1.2" fill="#1c1cf0"/>
<rect x="461.38" y="69.67" width="1.2" height="1.2" fill="#1c1cf0"/>
<rect x="457.20" y="70.62" width="1.2" height="1.2" fill="#1c1cf0"/>
<rect x="450.35" y="71.05" width="1.2" height="1.2" fill="#1c1cf0"/>
<rect x="441.85" y="73.66" width="1.2" height="1.2" fill="#1c1cf0"/>
<rect x="470.70" y="68.33" width="1.2" height="1.2" fill="#1c1cf0"/>
<rect x="456.84" y="70.68" width="1.2" height="1.2" fill="#1c1cf0"/>
<rect x="464.70" y="68.37" width="1.2" height="1.2" fill="#1c1cf0"/>
<rect x="442.56" y="71.97" width="1.2" height="1.2" fill="#1c1cf0"/>
<rect x="468.68" y="66.40" width="1.2" height="1.2" fill="#1c1cf0"/>
<rect x="451.43" y="70.18" width="1.2" height="1.2" fill="#1c1cf0"/>
<rect x="460.52" y="69.28" width="1.2" height="1.2" fill="#1c1cf0"/>
<rect x="451.59" y="71.43" width="1.2" height="1.2" fill="#1c1cf0"/>
<rect x="464.21" y="68.09" width="1.2" height="1.2" fill="#1c1cf0"/>
<rect x="466.56" y="68.32" width="1.2" height="1.2" fill="#1c1cf0"/>
<rect x="443.45" y="72.35" width="1.2" height="1.2" fill="#1c1cf0"/>
<rect x="449.40" y="70.39" width="1.2" height="1.2" fill="#1c1cf0"/>
<rect x="444.67" y="71.08" width="1.2" height="1.2" fill="#1c1cf0"/>
<rect x="469.76" y="67.09" width="1.2" height="1.2" fill="#1c1cf0"/>
<rect x="455.42" y="68.73" width="1.2" height="1.2" fill="#1c1cf0"/>
<rect x="451.26" y="71.57" width="1.2" height="1.2" fill="#1c1cf0"/>
<rect x="480.61" y="66.78" width="1.2" height="1.2" fill="#1c1cf0"/>
<rect x="479.05" y="64.04" width="1.2" height="1.2" fill="#1c1cf0"/>
<line x1="425.40" y1="63.30" x2="504.50" y2="63.30" stroke="#3a3a3a" stroke-width="1.0" stroke-dasharray="1 1.1"/>
<line x1="425.50" y1="24.20" x2="425.50" y2="103.20" stroke="#666" stroke-width="1"/>
<line x1="422.80" y1="24.50" x2="425.30" y2="24.50" stroke="#666" stroke-width="1"/>
<text x="420.10" y="23.60" font-size="9" text-anchor="end" font-weight="normal" fill="#231f20">8</text>
<line x1="422.80" y1="43.50" x2="425.30" y2="43.50" stroke="#666" stroke-width="1"/>
<text x="420.10" y="46.30" font-size="9" text-anchor="end" font-weight="normal" fill="#231f20">4</text>
<line x1="422.80" y1="63.50" x2="425.30" y2="63.50" stroke="#666" stroke-width="1"/>
<text x="420.10" y="65.80" font-size="9" text-anchor="end" font-weight="normal" fill="#231f20">0</text>
<line x1="422.80" y1="82.50" x2="425.30" y2="82.50" stroke="#666" stroke-width="1"/>
<text x="420.10" y="85.20" font-size="9" text-anchor="end" font-weight="normal" fill="#231f20">-4</text>
<line x1="422.80" y1="103.50" x2="425.30" y2="103.50" stroke="#666" stroke-width="1"/>
<text x="420.10" y="105.80" font-size="9" text-anchor="end" font-weight="normal" fill="#231f20">-8</text>
<line x1="425.30" y1="103.50" x2="504.00" y2="103.50" stroke="#231f20" stroke-width="1"/>
<line x1="425.50" y1="103.20" x2="425.50" y2="105.70" stroke="#231f20" stroke-width="1"/>
<text x="425.00" y="113.60" font-size="9" text-anchor="middle" font-weight="normal" fill="#231f20">-5</text>
<line x1="440.50" y1="103.20" x2="440.50" y2="105.70" stroke="#231f20" stroke-width="1"/>
<text x="440.80" y="113.60" font-size="9" text-anchor="middle" font-weight="normal" fill="#231f20">0</text>
<line x1="456.50" y1="103.20" x2="456.50" y2="105.70" stroke="#231f20" stroke-width="1"/>
<text x="456.60" y="113.60" font-size="9" text-anchor="middle" font-weight="normal" fill="#231f20">5</text>
<line x1="472.50" y1="103.20" x2="472.50" y2="105.70" stroke="#231f20" stroke-width="1"/>
<text x="472.40" y="113.60" font-size="9" text-anchor="middle" font-weight="normal" fill="#231f20">10</text>
<line x1="488.50" y1="103.20" x2="488.50" y2="105.70" stroke="#231f20" stroke-width="1"/>
<text x="488.20" y="113.60" font-size="9" text-anchor="middle" font-weight="normal" fill="#231f20">15</text>
<line x1="504.50" y1="103.20" x2="504.50" y2="105.70" stroke="#231f20" stroke-width="1"/>
<text x="504.00" y="113.60" font-size="9" text-anchor="middle" font-weight="normal" fill="#231f20">20</text>
<text x="410.40" y="61.80" font-size="9" text-anchor="middle" font-weight="normal" fill="#231f20" transform="rotate(-90 410.40 61.80)">Fold difference [log<tspan font-size="5.5" dy="1.8">2</tspan><tspan dy="-1.8">]</tspan></text>
<circle cx="477.50" cy="101.00" r="1.3" fill="#1a1aff"/>
<text x="481.00" y="99.90" font-size="9.5" text-anchor="start" font-weight="normal" font-style="italic" fill="#231f20">Hnmpr</text>
<text x="473.90" y="9.60" font-size="9.7" text-anchor="middle" font-weight="normal" fill="#231f20"><tspan font-style="italic">P</tspan> &lt; 0.05</text>
<text x="465.70" y="126.60" font-size="9" text-anchor="middle" font-weight="normal" fill="#231f20">Base mean [log<tspan font-size="5.5" dy="1.8">2</tspan><tspan dy="-1.8">]</tspan></text>
<text x="465.20" y="137.70" font-size="9" text-anchor="middle" font-weight="normal" fill="#231f20">Somatodendritic</text>
<line x1="559.60" y1="24.60" x2="559.60" y2="103.10" stroke="#000" stroke-width="1.3" stroke-dasharray="1.3 1.0"/>
<path d="M546.70,65.80 L553.00,62.80 L559.70,57.80 L566.50,58.80 L572.00,60.30 L583.00,62.80 L595.00,63.80 L606.40,65.80 L606.40,65.20 L595.00,67.70 L583.00,67.70 L572.00,70.20 L566.50,71.50 L559.70,73.70 L553.00,69.20 L546.70,65.20Z" fill="#a2a2a6"/>
<rect x="561.50" y="72.80" width="1.10" height="1.10" fill="#a2a2a6"/>
<rect x="605.70" y="64.68" width="1.10" height="1.10" fill="#a2a2a6"/>
<rect x="594.49" y="67.67" width="1.10" height="1.10" fill="#a2a2a6"/>
<rect x="556.62" y="58.37" width="1.10" height="1.10" fill="#a2a2a6"/>
<rect x="582.94" y="61.73" width="1.10" height="1.10" fill="#a2a2a6"/>
<rect x="551.88" y="68.44" width="1.10" height="1.10" fill="#a2a2a6"/>
<rect x="552.39" y="61.86" width="1.10" height="1.10" fill="#a2a2a6"/>
<rect x="548.72" y="63.79" width="1.10" height="1.10" fill="#a2a2a6"/>
<rect x="603.47" y="64.78" width="1.10" height="1.10" fill="#a2a2a6"/>
<rect x="587.71" y="67.30" width="1.10" height="1.10" fill="#a2a2a6"/>
<rect x="584.97" y="62.08" width="1.10" height="1.10" fill="#a2a2a6"/>
<rect x="557.37" y="72.36" width="1.10" height="1.10" fill="#a2a2a6"/>
<rect x="603.75" y="65.17" width="1.10" height="1.10" fill="#a2a2a6"/>
<rect x="596.24" y="63.55" width="1.10" height="1.10" fill="#a2a2a6"/>
<rect x="590.49" y="67.71" width="1.10" height="1.10" fill="#a2a2a6"/>
<rect x="598.64" y="63.85" width="1.10" height="1.10" fill="#a2a2a6"/>
<rect x="593.16" y="63.03" width="1.10" height="1.10" fill="#a2a2a6"/>
<rect x="593.84" y="67.42" width="1.10" height="1.10" fill="#a2a2a6"/>
<rect x="596.58" y="66.75" width="1.10" height="1.10" fill="#a2a2a6"/>
<rect x="580.06" y="61.48" width="1.10" height="1.10" fill="#a2a2a6"/>
<rect x="566.24" y="57.61" width="1.10" height="1.10" fill="#a2a2a6"/>
<rect x="559.50" y="74.09" width="1.10" height="1.10" fill="#a2a2a6"/>
<rect x="565.80" y="71.20" width="1.10" height="1.10" fill="#a2a2a6"/>
<rect x="569.72" y="58.71" width="1.10" height="1.10" fill="#a2a2a6"/>
<rect x="572.15" y="58.56" width="1.10" height="1.10" fill="#a2a2a6"/>
<rect x="568.55" y="58.83" width="1.10" height="1.10" fill="#a2a2a6"/>
<rect x="603.48" y="64.83" width="1.10" height="1.10" fill="#a2a2a6"/>
<rect x="552.09" y="68.52" width="1.10" height="1.10" fill="#a2a2a6"/>
<rect x="580.90" y="67.51" width="1.10" height="1.10" fill="#a2a2a6"/>
<rect x="604.06" y="64.90" width="1.10" height="1.10" fill="#a2a2a6"/>
<rect x="605.22" y="64.81" width="1.10" height="1.10" fill="#a2a2a6"/>
<rect x="547.41" y="65.57" width="1.10" height="1.10" fill="#a2a2a6"/>
<rect x="594.48" y="67.66" width="1.10" height="1.10" fill="#a2a2a6"/>
<rect x="555.37" y="71.03" width="1.10" height="1.10" fill="#a2a2a6"/>
<rect x="562.02" y="57.22" width="1.10" height="1.10" fill="#a2a2a6"/>
<rect x="580.37" y="68.25" width="1.10" height="1.10" fill="#a2a2a6"/>
<rect x="583.66" y="67.73" width="1.10" height="1.10" fill="#a2a2a6"/>
<rect x="579.99" y="61.31" width="1.10" height="1.10" fill="#a2a2a6"/>
<rect x="601.54" y="64.41" width="1.10" height="1.10" fill="#a2a2a6"/>
<rect x="588.32" y="67.33" width="1.10" height="1.10" fill="#a2a2a6"/>
<rect x="584.70" y="67.72" width="1.10" height="1.10" fill="#a2a2a6"/>
<rect x="572.74" y="59.60" width="1.10" height="1.10" fill="#a2a2a6"/>
<rect x="591.50" y="62.66" width="1.10" height="1.10" fill="#a2a2a6"/>
<rect x="594.45" y="62.98" width="1.10" height="1.10" fill="#a2a2a6"/>
<rect x="586.97" y="67.28" width="1.10" height="1.10" fill="#a2a2a6"/>
<rect x="575.58" y="60.47" width="1.10" height="1.10" fill="#a2a2a6"/>
<rect x="602.83" y="65.45" width="1.10" height="1.10" fill="#a2a2a6"/>
<rect x="583.86" y="62.15" width="1.10" height="1.10" fill="#a2a2a6"/>
<rect x="604.17" y="64.91" width="1.10" height="1.10" fill="#a2a2a6"/>
<rect x="547.21" y="64.70" width="1.10" height="1.10" fill="#a2a2a6"/>
<rect x="570.75" y="71.02" width="1.10" height="1.10" fill="#a2a2a6"/>
<rect x="592.70" y="67.46" width="1.10" height="1.10" fill="#a2a2a6"/>
<rect x="560.35" y="56.63" width="1.10" height="1.10" fill="#a2a2a6"/>
<rect x="584.69" y="67.17" width="1.10" height="1.10" fill="#a2a2a6"/>
<rect x="565.43" y="71.66" width="1.10" height="1.10" fill="#a2a2a6"/>
<rect x="566.19" y="58.30" width="1.10" height="1.10" fill="#a2a2a6"/>
<rect x="551.75" y="61.89" width="1.10" height="1.10" fill="#a2a2a6"/>
<rect x="587.80" y="67.45" width="1.10" height="1.10" fill="#a2a2a6"/>
<rect x="596.12" y="66.82" width="1.10" height="1.10" fill="#a2a2a6"/>
<rect x="569.05" y="59.03" width="1.10" height="1.10" fill="#a2a2a6"/>
<rect x="583.21" y="61.97" width="1.10" height="1.10" fill="#a2a2a6"/>
<rect x="575.52" y="60.53" width="1.10" height="1.10" fill="#a2a2a6"/>
<rect x="552.25" y="68.71" width="1.10" height="1.10" fill="#a2a2a6"/>
<rect x="553.06" y="69.73" width="1.10" height="1.10" fill="#a2a2a6"/>
<rect x="598.15" y="66.34" width="1.10" height="1.10" fill="#a2a2a6"/>
<rect x="598.60" y="66.30" width="1.10" height="1.10" fill="#a2a2a6"/>
<rect x="562.66" y="72.80" width="1.10" height="1.10" fill="#a2a2a6"/>
<rect x="560.93" y="74.08" width="1.10" height="1.10" fill="#a2a2a6"/>
<rect x="568.77" y="58.94" width="1.10" height="1.10" fill="#a2a2a6"/>
<rect x="565.96" y="72.05" width="1.10" height="1.10" fill="#a2a2a6"/>
<rect x="601.57" y="65.71" width="1.10" height="1.10" fill="#a2a2a6"/>
<rect x="605.39" y="65.16" width="1.10" height="1.10" fill="#a2a2a6"/>
<rect x="573.61" y="69.40" width="1.10" height="1.10" fill="#a2a2a6"/>
<rect x="583.36" y="61.38" width="1.10" height="1.10" fill="#a2a2a6"/>
<rect x="584.01" y="67.39" width="1.10" height="1.10" fill="#a2a2a6"/>
<rect x="546.98" y="64.71" width="1.10" height="1.10" fill="#a2a2a6"/>
<rect x="598.47" y="63.94" width="1.10" height="1.10" fill="#a2a2a6"/>
<rect x="584.85" y="67.24" width="1.10" height="1.10" fill="#a2a2a6"/>
<rect x="560.36" y="57.24" width="1.10" height="1.10" fill="#a2a2a6"/>
<rect x="577.72" y="69.01" width="1.10" height="1.10" fill="#a2a2a6"/>
<rect x="565.58" y="72.40" width="1.10" height="1.10" fill="#a2a2a6"/>
<rect x="602.97" y="64.71" width="1.10" height="1.10" fill="#a2a2a6"/>
<rect x="576.96" y="60.46" width="1.10" height="1.10" fill="#a2a2a6"/>
<rect x="556.60" y="72.62" width="1.10" height="1.10" fill="#a2a2a6"/>
<rect x="592.36" y="67.40" width="1.10" height="1.10" fill="#a2a2a6"/>
<rect x="575.59" y="68.76" width="1.10" height="1.10" fill="#a2a2a6"/>
<rect x="555.89" y="71.76" width="1.10" height="1.10" fill="#a2a2a6"/>
<rect x="601.55" y="64.41" width="1.10" height="1.10" fill="#a2a2a6"/>
<rect x="565.82" y="57.78" width="1.10" height="1.10" fill="#a2a2a6"/>
<rect x="587.99" y="67.36" width="1.10" height="1.10" fill="#a2a2a6"/>
<rect x="553.42" y="69.61" width="1.10" height="1.10" fill="#a2a2a6"/>
<rect x="595.13" y="67.01" width="1.10" height="1.10" fill="#a2a2a6"/>
<rect x="559.09" y="73.32" width="1.10" height="1.10" fill="#a2a2a6"/>
<rect x="546.21" y="64.69" width="1.10" height="1.10" fill="#a2a2a6"/>
<rect x="595.47" y="63.38" width="1.10" height="1.10" fill="#a2a2a6"/>
<rect x="583.98" y="67.76" width="1.10" height="1.10" fill="#a2a2a6"/>
<rect x="604.94" y="65.06" width="1.10" height="1.10" fill="#a2a2a6"/>
<rect x="564.87" y="72.86" width="1.10" height="1.10" fill="#a2a2a6"/>
<rect x="587.01" y="67.40" width="1.10" height="1.10" fill="#a2a2a6"/>
<rect x="561.17" y="72.76" width="1.10" height="1.10" fill="#a2a2a6"/>
<rect x="554.23" y="70.21" width="1.10" height="1.10" fill="#a2a2a6"/>
<rect x="587.77" y="67.31" width="1.10" height="1.10" fill="#a2a2a6"/>
<rect x="553.42" y="69.35" width="1.10" height="1.10" fill="#a2a2a6"/>
<rect x="552.01" y="62.09" width="1.10" height="1.10" fill="#a2a2a6"/>
<rect x="592.22" y="62.99" width="1.10" height="1.10" fill="#a2a2a6"/>
<rect x="552.51" y="61.95" width="1.10" height="1.10" fill="#a2a2a6"/>
<rect x="598.68" y="63.71" width="1.10" height="1.10" fill="#a2a2a6"/>
<rect x="551.60" y="68.41" width="1.10" height="1.10" fill="#a2a2a6"/>
<rect x="551.13" y="62.49" width="1.10" height="1.10" fill="#a2a2a6"/>
<rect x="570.58" y="58.24" width="1.10" height="1.10" fill="#a2a2a6"/>
<rect x="548.01" y="64.35" width="1.10" height="1.10" fill="#a2a2a6"/>
<rect x="588.79" y="67.73" width="1.10" height="1.10" fill="#a2a2a6"/>
<rect x="577.89" y="68.53" width="1.10" height="1.10" fill="#a2a2a6"/>
<rect x="563.64" y="57.34" width="1.10" height="1.10" fill="#a2a2a6"/>
<rect x="590.28" y="62.78" width="1.10" height="1.10" fill="#a2a2a6"/>
<rect x="597.73" y="66.59" width="1.10" height="1.10" fill="#a2a2a6"/>
<rect x="574.84" y="59.28" width="1.10" height="1.10" fill="#a2a2a6"/>
<rect x="572.99" y="70.03" width="1.10" height="1.10" fill="#a2a2a6"/>
<rect x="597.64" y="63.80" width="1.10" height="1.10" fill="#a2a2a6"/>
<rect x="576.12" y="68.85" width="1.10" height="1.10" fill="#a2a2a6"/>
<rect x="555.50" y="59.11" width="1.10" height="1.10" fill="#a2a2a6"/>
<rect x="568.98" y="70.29" width="1.10" height="1.10" fill="#a2a2a6"/>
<rect x="599.41" y="63.95" width="1.10" height="1.10" fill="#a2a2a6"/>
<rect x="590.35" y="67.47" width="1.10" height="1.10" fill="#a2a2a6"/>
<rect x="585.56" y="62.22" width="1.10" height="1.10" fill="#a2a2a6"/>
<rect x="572.78" y="60.00" width="1.10" height="1.10" fill="#a2a2a6"/>
<rect x="600.61" y="65.94" width="1.10" height="1.10" fill="#a2a2a6"/>
<rect x="603.72" y="64.85" width="1.10" height="1.10" fill="#a2a2a6"/>
<rect x="601.14" y="65.77" width="1.10" height="1.10" fill="#a2a2a6"/>
<rect x="605.31" y="65.14" width="1.10" height="1.10" fill="#a2a2a6"/>
<rect x="596.77" y="66.96" width="1.10" height="1.10" fill="#a2a2a6"/>
<rect x="558.90" y="74.05" width="1.10" height="1.10" fill="#a2a2a6"/>
<rect x="574.12" y="59.99" width="1.10" height="1.10" fill="#a2a2a6"/>
<rect x="589.79" y="62.31" width="1.10" height="1.10" fill="#a2a2a6"/>
<rect x="604.54" y="64.99" width="1.10" height="1.10" fill="#a2a2a6"/>
<rect x="580.57" y="67.89" width="1.10" height="1.10" fill="#a2a2a6"/>
<rect x="602.58" y="65.40" width="1.10" height="1.10" fill="#a2a2a6"/>
<rect x="550.26" y="67.37" width="1.10" height="1.10" fill="#a2a2a6"/>
<rect x="580.97" y="61.49" width="1.10" height="1.10" fill="#a2a2a6"/>
<rect x="567.11" y="58.47" width="1.10" height="1.10" fill="#a2a2a6"/>
<rect x="556.40" y="72.15" width="1.10" height="1.10" fill="#a2a2a6"/>
<rect x="571.57" y="59.31" width="1.10" height="1.10" fill="#a2a2a6"/>
<rect x="564.98" y="56.01" width="1.10" height="1.10" fill="#a2a2a6"/>
<rect x="579.77" y="61.23" width="1.10" height="1.10" fill="#a2a2a6"/>
<rect x="549.36" y="63.49" width="1.10" height="1.10" fill="#a2a2a6"/>
<rect x="599.24" y="63.84" width="1.10" height="1.10" fill="#a2a2a6"/>
<rect x="592.73" y="62.74" width="1.10" height="1.10" fill="#a2a2a6"/>
<rect x="548.69" y="63.99" width="1.10" height="1.10" fill="#a2a2a6"/>
<rect x="586.00" y="67.72" width="1.10" height="1.10" fill="#a2a2a6"/>
<rect x="595.10" y="62.93" width="1.10" height="1.10" fill="#a2a2a6"/>
<path d="M559.70,56.80 L561.00,56.50 L566.50,52.00 L572.00,53.00 L583.00,56.50 L590.00,60.10 L599.00,63.30 L599.00,63.80 L590.00,63.10 L583.00,62.40 L572.00,60.10 L566.50,58.30 L561.00,57.50 L559.70,57.50Z" fill="#f46262"/>
<rect x="561.78" y="57.15" width="1.10" height="1.10" fill="#f46262"/>
<rect x="560.87" y="55.46" width="1.10" height="1.10" fill="#f46262"/>
<rect x="560.49" y="56.97" width="1.10" height="1.10" fill="#f46262"/>
<rect x="576.67" y="53.68" width="1.10" height="1.10" fill="#f46262"/>
<rect x="566.46" y="51.22" width="1.10" height="1.10" fill="#f46262"/>
<rect x="587.27" y="57.93" width="1.10" height="1.10" fill="#f46262"/>
<rect x="590.86" y="62.68" width="1.10" height="1.10" fill="#f46262"/>
<rect x="581.23" y="54.98" width="1.10" height="1.10" fill="#f46262"/>
<rect x="597.42" y="63.19" width="1.10" height="1.10" fill="#f46262"/>
<rect x="563.09" y="53.66" width="1.10" height="1.10" fill="#f46262"/>
<rect x="568.21" y="58.56" width="1.10" height="1.10" fill="#f46262"/>
<rect x="593.29" y="62.85" width="1.10" height="1.10" fill="#f46262"/>
<rect x="587.40" y="58.41" width="1.10" height="1.10" fill="#f46262"/>
<rect x="570.89" y="59.47" width="1.10" height="1.10" fill="#f46262"/>
<rect x="572.90" y="59.96" width="1.10" height="1.10" fill="#f46262"/>
<rect x="597.89" y="62.41" width="1.10" height="1.10" fill="#f46262"/>
<rect x="597.92" y="62.53" width="1.10" height="1.10" fill="#f46262"/>
<rect x="580.58" y="55.23" width="1.10" height="1.10" fill="#f46262"/>
<rect x="589.41" y="59.34" width="1.10" height="1.10" fill="#f46262"/>
<rect x="580.78" y="61.60" width="1.10" height="1.10" fill="#f46262"/>
<rect x="578.38" y="54.59" width="1.10" height="1.10" fill="#f46262"/>
<rect x="577.69" y="53.92" width="1.10" height="1.10" fill="#f46262"/>
<rect x="569.33" y="58.86" width="1.10" height="1.10" fill="#f46262"/>
<rect x="576.57" y="60.71" width="1.10" height="1.10" fill="#f46262"/>
<rect x="585.44" y="56.74" width="1.10" height="1.10" fill="#f46262"/>
<rect x="587.79" y="58.56" width="1.10" height="1.10" fill="#f46262"/>
<rect x="571.36" y="51.82" width="1.10" height="1.10" fill="#f46262"/>
<rect x="587.82" y="62.41" width="1.10" height="1.10" fill="#f46262"/>
<rect x="565.95" y="57.82" width="1.10" height="1.10" fill="#f46262"/>
<rect x="564.96" y="51.56" width="1.10" height="1.10" fill="#f46262"/>
<rect x="569.04" y="58.78" width="1.10" height="1.10" fill="#f46262"/>
<rect x="596.03" y="61.44" width="1.10" height="1.10" fill="#f46262"/>
<rect x="588.62" y="62.49" width="1.10" height="1.10" fill="#f46262"/>
<rect x="596.47" y="63.10" width="1.10" height="1.10" fill="#f46262"/>
<rect x="559.67" y="56.08" width="1.10" height="1.10" fill="#f46262"/>
<rect x="576.06" y="60.55" width="1.10" height="1.10" fill="#f46262"/>
<rect x="560.09" y="56.95" width="1.10" height="1.10" fill="#f46262"/>
<rect x="594.51" y="61.31" width="1.10" height="1.10" fill="#f46262"/>
<rect x="567.49" y="51.47" width="1.10" height="1.10" fill="#f46262"/>
<rect x="566.21" y="51.22" width="1.10" height="1.10" fill="#f46262"/>
<rect x="581.88" y="55.48" width="1.10" height="1.10" fill="#f46262"/>
<rect x="589.57" y="62.60" width="1.10" height="1.10" fill="#f46262"/>
<rect x="572.65" y="59.82" width="1.10" height="1.10" fill="#f46262"/>
<rect x="577.84" y="53.56" width="1.10" height="1.10" fill="#f46262"/>
<rect x="564.42" y="57.54" width="1.10" height="1.10" fill="#f46262"/>
<rect x="595.52" y="63.03" width="1.10" height="1.10" fill="#f46262"/>
<rect x="560.47" y="56.95" width="1.10" height="1.10" fill="#f46262"/>
<rect x="591.93" y="60.02" width="1.10" height="1.10" fill="#f46262"/>
<rect x="578.73" y="61.10" width="1.10" height="1.10" fill="#f46262"/>
<rect x="575.86" y="60.56" width="1.10" height="1.10" fill="#f46262"/>
<rect x="566.53" y="57.99" width="1.10" height="1.10" fill="#f46262"/>
<rect x="563.78" y="53.12" width="1.10" height="1.10" fill="#f46262"/>
<rect x="579.91" y="55.05" width="1.10" height="1.10" fill="#f46262"/>
<rect x="583.63" y="61.99" width="1.10" height="1.10" fill="#f46262"/>
<rect x="564.12" y="52.89" width="1.10" height="1.10" fill="#f46262"/>
<rect x="595.78" y="61.55" width="1.10" height="1.10" fill="#f46262"/>
<rect x="574.79" y="60.34" width="1.10" height="1.10" fill="#f46262"/>
<rect x="594.17" y="60.64" width="1.10" height="1.10" fill="#f46262"/>
<rect x="580.60" y="61.55" width="1.10" height="1.10" fill="#f46262"/>
<rect x="589.58" y="62.60" width="1.10" height="1.10" fill="#f46262"/>
<rect x="582.76" y="55.81" width="1.10" height="1.10" fill="#f46262"/>
<rect x="589.94" y="62.59" width="1.10" height="1.10" fill="#f46262"/>
<rect x="571.62" y="59.68" width="1.10" height="1.10" fill="#f46262"/>
<rect x="560.85" y="57.03" width="1.10" height="1.10" fill="#f46262"/>
<rect x="574.26" y="60.25" width="1.10" height="1.10" fill="#f46262"/>
<rect x="570.99" y="59.42" width="1.10" height="1.10" fill="#f46262"/>
<rect x="560.14" y="55.69" width="1.10" height="1.10" fill="#f46262"/>
<rect x="585.77" y="57.13" width="1.10" height="1.10" fill="#f46262"/>
<rect x="597.44" y="63.18" width="1.10" height="1.10" fill="#f46262"/>
<rect x="586.82" y="62.29" width="1.10" height="1.10" fill="#f46262"/>
<rect x="582.96" y="55.58" width="1.10" height="1.10" fill="#f46262"/>
<rect x="582.53" y="61.89" width="1.10" height="1.10" fill="#f46262"/>
<rect x="569.97" y="51.63" width="1.10" height="1.10" fill="#f46262"/>
<rect x="560.77" y="55.61" width="1.10" height="1.10" fill="#f46262"/>
<rect x="598.25" y="63.24" width="1.10" height="1.10" fill="#f46262"/>
<rect x="594.43" y="62.95" width="1.10" height="1.10" fill="#f46262"/>
<rect x="582.06" y="54.39" width="1.10" height="1.10" fill="#f46262"/>
<rect x="559.28" y="56.00" width="1.10" height="1.10" fill="#f46262"/>
<rect x="561.39" y="57.13" width="1.10" height="1.10" fill="#f46262"/>
<rect x="592.21" y="62.81" width="1.10" height="1.10" fill="#f46262"/>
<rect x="560.81" y="57.03" width="1.10" height="1.10" fill="#f46262"/>
<rect x="564.86" y="57.59" width="1.10" height="1.10" fill="#f46262"/>
<rect x="590.67" y="59.71" width="1.10" height="1.10" fill="#f46262"/>
<rect x="569.61" y="51.54" width="1.10" height="1.10" fill="#f46262"/>
<rect x="577.22" y="60.87" width="1.10" height="1.10" fill="#f46262"/>
<rect x="579.25" y="61.23" width="1.10" height="1.10" fill="#f46262"/>
<rect x="598.01" y="62.45" width="1.10" height="1.10" fill="#f46262"/>
<rect x="571.46" y="52.38" width="1.10" height="1.10" fill="#f46262"/>
<rect x="575.58" y="52.99" width="1.10" height="1.10" fill="#f46262"/>
<rect x="593.69" y="62.89" width="1.10" height="1.10" fill="#f46262"/>
<rect x="587.83" y="62.41" width="1.10" height="1.10" fill="#f46262"/>
<rect x="567.25" y="58.27" width="1.10" height="1.10" fill="#f46262"/>
<rect x="582.55" y="61.89" width="1.10" height="1.10" fill="#f46262"/>
<rect x="591.54" y="62.74" width="1.10" height="1.10" fill="#f46262"/>
<rect x="597.58" y="62.42" width="1.10" height="1.10" fill="#f46262"/>
<rect x="587.59" y="62.38" width="1.10" height="1.10" fill="#f46262"/>
<rect x="584.62" y="62.13" width="1.10" height="1.10" fill="#f46262"/>
<rect x="595.35" y="63.01" width="1.10" height="1.10" fill="#f46262"/>
<rect x="584.93" y="62.18" width="1.10" height="1.10" fill="#f46262"/>
<rect x="581.65" y="55.65" width="1.10" height="1.10" fill="#f46262"/>
<rect x="575.89" y="52.97" width="1.10" height="1.10" fill="#f46262"/>
<rect x="573.37" y="52.64" width="1.10" height="1.10" fill="#f46262"/>
<rect x="575.92" y="53.55" width="1.10" height="1.10" fill="#f46262"/>
<rect x="559.82" y="56.95" width="1.10" height="1.10" fill="#f46262"/>
<rect x="574.68" y="52.86" width="1.10" height="1.10" fill="#f46262"/>
<rect x="568.55" y="51.52" width="1.10" height="1.10" fill="#f46262"/>
<rect x="593.49" y="62.87" width="1.10" height="1.10" fill="#f46262"/>
<rect x="571.88" y="51.71" width="1.10" height="1.10" fill="#f46262"/>
<rect x="594.23" y="62.92" width="1.10" height="1.10" fill="#f46262"/>
<rect x="586.59" y="62.30" width="1.10" height="1.10" fill="#f46262"/>
<rect x="577.61" y="54.27" width="1.10" height="1.10" fill="#f46262"/>
<rect x="593.09" y="62.88" width="1.10" height="1.10" fill="#f46262"/>
<rect x="563.64" y="57.48" width="1.10" height="1.10" fill="#f46262"/>
<rect x="577.20" y="54.17" width="1.10" height="1.10" fill="#f46262"/>
<rect x="561.53" y="57.15" width="1.10" height="1.10" fill="#f46262"/>
<rect x="585.31" y="56.99" width="1.10" height="1.10" fill="#f46262"/>
<rect x="594.19" y="62.93" width="1.10" height="1.10" fill="#f46262"/>
<rect x="582.28" y="55.68" width="1.10" height="1.10" fill="#f46262"/>
<rect x="568.96" y="58.74" width="1.10" height="1.10" fill="#f46262"/>
<rect x="568.15" y="51.46" width="1.10" height="1.10" fill="#f46262"/>
<rect x="581.67" y="57.47" width="1.10" height="1.10" fill="#ee2e2e"/>
<rect x="576.43" y="59.68" width="1.10" height="1.10" fill="#ee2e2e"/>
<rect x="566.29" y="56.31" width="1.10" height="1.10" fill="#ee2e2e"/>
<rect x="572.14" y="59.75" width="1.10" height="1.10" fill="#ee2e2e"/>
<rect x="596.56" y="62.24" width="1.10" height="1.10" fill="#ee2e2e"/>
<rect x="582.97" y="56.46" width="1.10" height="1.10" fill="#ee2e2e"/>
<rect x="575.28" y="57.96" width="1.10" height="1.10" fill="#ee2e2e"/>
<rect x="584.23" y="58.48" width="1.10" height="1.10" fill="#ee2e2e"/>
<rect x="560.48" y="55.68" width="1.10" height="1.10" fill="#ee2e2e"/>
<rect x="581.18" y="56.25" width="1.10" height="1.10" fill="#ee2e2e"/>
<rect x="571.18" y="56.89" width="1.10" height="1.10" fill="#ee2e2e"/>
<rect x="594.55" y="62.19" width="1.10" height="1.10" fill="#ee2e2e"/>
<rect x="569.16" y="56.08" width="1.10" height="1.10" fill="#ee2e2e"/>
<rect x="569.98" y="57.85" width="1.10" height="1.10" fill="#ee2e2e"/>
<rect x="565.28" y="53.24" width="1.10" height="1.10" fill="#ee2e2e"/>
<rect x="576.39" y="60.39" width="1.10" height="1.10" fill="#ee2e2e"/>
<rect x="565.65" y="52.54" width="1.10" height="1.10" fill="#ee2e2e"/>
<rect x="564.33" y="53.50" width="1.10" height="1.10" fill="#ee2e2e"/>
<rect x="572.21" y="55.36" width="1.10" height="1.10" fill="#ee2e2e"/>
<rect x="589.00" y="60.51" width="1.10" height="1.10" fill="#ee2e2e"/>
<rect x="577.82" y="56.91" width="1.10" height="1.10" fill="#ee2e2e"/>
<rect x="589.58" y="62.68" width="1.10" height="1.10" fill="#ee2e2e"/>
<rect x="575.87" y="60.37" width="1.10" height="1.10" fill="#ee2e2e"/>
<rect x="569.00" y="59.08" width="1.10" height="1.10" fill="#ee2e2e"/>
<rect x="579.80" y="59.51" width="1.10" height="1.10" fill="#ee2e2e"/>
<rect x="574.14" y="54.92" width="1.10" height="1.10" fill="#ee2e2e"/>
<rect x="564.46" y="57.36" width="1.10" height="1.10" fill="#ee2e2e"/>
<rect x="573.28" y="58.05" width="1.10" height="1.10" fill="#ee2e2e"/>
<rect x="577.26" y="57.73" width="1.10" height="1.10" fill="#ee2e2e"/>
<rect x="567.28" y="52.52" width="1.10" height="1.10" fill="#ee2e2e"/>
<rect x="572.36" y="57.69" width="1.10" height="1.10" fill="#ee2e2e"/>
<rect x="580.50" y="54.85" width="1.10" height="1.10" fill="#ee2e2e"/>
<rect x="587.08" y="59.99" width="1.10" height="1.10" fill="#ee2e2e"/>
<rect x="561.86" y="55.17" width="1.10" height="1.10" fill="#ee2e2e"/>
<rect x="567.47" y="57.41" width="1.10" height="1.10" fill="#ee2e2e"/>
<rect x="580.77" y="57.23" width="1.10" height="1.10" fill="#ee2e2e"/>
<rect x="568.92" y="53.74" width="1.10" height="1.10" fill="#ee2e2e"/>
<rect x="570.16" y="54.46" width="1.10" height="1.10" fill="#ee2e2e"/>
<rect x="590.22" y="62.31" width="1.10" height="1.10" fill="#ee2e2e"/>
<rect x="586.59" y="62.17" width="1.10" height="1.10" fill="#ee2e2e"/>
<rect x="584.85" y="57.35" width="1.10" height="1.10" fill="#ee2e2e"/>
<rect x="560.90" y="55.48" width="1.10" height="1.10" fill="#ee2e2e"/>
<rect x="569.29" y="55.67" width="1.10" height="1.10" fill="#ee2e2e"/>
<rect x="591.46" y="61.78" width="1.10" height="1.10" fill="#ee2e2e"/>
<rect x="576.04" y="55.25" width="1.10" height="1.10" fill="#ee2e2e"/>
<rect x="597.73" y="63.27" width="1.10" height="1.10" fill="#ee2e2e"/>
<rect x="572.56" y="52.67" width="1.10" height="1.10" fill="#ee2e2e"/>
<rect x="597.74" y="62.43" width="1.10" height="1.10" fill="#ee2e2e"/>
<rect x="592.46" y="60.49" width="1.10" height="1.10" fill="#ee2e2e"/>
<rect x="584.82" y="58.78" width="1.10" height="1.10" fill="#ee2e2e"/>
<rect x="594.08" y="61.50" width="1.10" height="1.10" fill="#ee2e2e"/>
<rect x="563.11" y="54.18" width="1.10" height="1.10" fill="#ee2e2e"/>
<rect x="590.81" y="63.08" width="1.10" height="1.10" fill="#ee2e2e"/>
<rect x="584.42" y="60.61" width="1.10" height="1.10" fill="#ee2e2e"/>
<rect x="570.24" y="53.89" width="1.10" height="1.10" fill="#ee2e2e"/>
<rect x="562.56" y="57.70" width="1.10" height="1.10" fill="#ee2e2e"/>
<rect x="560.86" y="56.58" width="1.10" height="1.10" fill="#ee2e2e"/>
<rect x="572.90" y="53.89" width="1.10" height="1.10" fill="#ee2e2e"/>
<rect x="576.29" y="60.54" width="1.10" height="1.10" fill="#ee2e2e"/>
<rect x="568.89" y="52.76" width="1.10" height="1.10" fill="#ee2e2e"/>
<rect x="583.89" y="60.33" width="1.10" height="1.10" fill="#ee2e2e"/>
<rect x="579.22" y="55.72" width="1.10" height="1.10" fill="#ee2e2e"/>
<rect x="593.50" y="60.81" width="1.10" height="1.10" fill="#ee2e2e"/>
<rect x="565.99" y="52.72" width="1.10" height="1.10" fill="#ee2e2e"/>
<rect x="579.34" y="57.91" width="1.10" height="1.10" fill="#ee2e2e"/>
<rect x="580.91" y="60.10" width="1.10" height="1.10" fill="#ee2e2e"/>
<rect x="594.29" y="62.01" width="1.10" height="1.10" fill="#ee2e2e"/>
<rect x="560.80" y="57.11" width="1.10" height="1.10" fill="#ee2e2e"/>
<rect x="559.88" y="56.18" width="1.10" height="1.10" fill="#ee2e2e"/>
<rect x="564.77" y="55.63" width="1.10" height="1.10" fill="#ee2e2e"/>
<rect x="589.88" y="59.70" width="1.10" height="1.10" fill="#ee2e2e"/>
<rect x="570.72" y="58.62" width="1.10" height="1.10" fill="#ee2e2e"/>
<rect x="586.23" y="57.97" width="1.10" height="1.10" fill="#ee2e2e"/>
<rect x="586.13" y="61.61" width="1.10" height="1.10" fill="#ee2e2e"/>
<rect x="575.21" y="54.34" width="1.10" height="1.10" fill="#ee2e2e"/>
<rect x="585.05" y="58.65" width="1.10" height="1.10" fill="#ee2e2e"/>
<rect x="564.41" y="53.17" width="1.10" height="1.10" fill="#ee2e2e"/>
<rect x="574.97" y="54.05" width="1.10" height="1.10" fill="#ee2e2e"/>
<rect x="574.29" y="57.15" width="1.10" height="1.10" fill="#ee2e2e"/>
<rect x="580.85" y="57.80" width="1.10" height="1.10" fill="#ee2e2e"/>
<rect x="590.60" y="59.78" width="1.10" height="1.10" fill="#ee2e2e"/>
<rect x="572.11" y="59.65" width="1.10" height="1.10" fill="#ee2e2e"/>
<rect x="593.12" y="63.10" width="1.10" height="1.10" fill="#ee2e2e"/>
<rect x="589.23" y="61.13" width="1.10" height="1.10" fill="#ee2e2e"/>
<rect x="590.10" y="61.47" width="1.10" height="1.10" fill="#ee2e2e"/>
<rect x="563.77" y="54.06" width="1.10" height="1.10" fill="#ee2e2e"/>
<rect x="562.98" y="57.26" width="1.10" height="1.10" fill="#ee2e2e"/>
<rect x="571.81" y="55.35" width="1.10" height="1.10" fill="#ee2e2e"/>
<rect x="580.30" y="55.49" width="1.10" height="1.10" fill="#ee2e2e"/>
<rect x="586.89" y="61.76" width="1.10" height="1.10" fill="#ee2e2e"/>
<rect x="590.44" y="62.68" width="1.10" height="1.10" fill="#ee2e2e"/>
<rect x="571.62" y="53.18" width="1.10" height="1.10" fill="#ee2e2e"/>
<rect x="589.08" y="61.74" width="1.10" height="1.10" fill="#ee2e2e"/>
<rect x="573.75" y="55.38" width="1.10" height="1.10" fill="#ee2e2e"/>
<rect x="565.19" y="57.04" width="1.10" height="1.10" fill="#ee2e2e"/>
<rect x="577.25" y="59.86" width="1.10" height="1.10" fill="#ee2e2e"/>
<rect x="572.50" y="54.85" width="1.10" height="1.10" fill="#ee2e2e"/>
<rect x="579.32" y="59.85" width="1.10" height="1.10" fill="#ee2e2e"/>
<rect x="593.84" y="61.59" width="1.10" height="1.10" fill="#ee2e2e"/>
<rect x="586.40" y="59.61" width="1.10" height="1.10" fill="#ee2e2e"/>
<rect x="593.01" y="62.60" width="1.10" height="1.10" fill="#ee2e2e"/>
<rect x="580.97" y="57.54" width="1.10" height="1.10" fill="#ee2e2e"/>
<rect x="569.91" y="58.64" width="1.10" height="1.10" fill="#ee2e2e"/>
<rect x="590.63" y="60.59" width="1.10" height="1.10" fill="#ee2e2e"/>
<rect x="562.48" y="54.56" width="1.10" height="1.10" fill="#ee2e2e"/>
<rect x="597.04" y="61.82" width="1.10" height="1.10" fill="#ee2e2e"/>
<rect x="590.98" y="61.49" width="1.10" height="1.10" fill="#ee2e2e"/>
<rect x="580.92" y="58.78" width="1.10" height="1.10" fill="#ee2e2e"/>
<rect x="575.27" y="57.45" width="1.10" height="1.10" fill="#ee2e2e"/>
<rect x="562.69" y="57.44" width="1.10" height="1.10" fill="#ee2e2e"/>
<rect x="563.19" y="53.85" width="1.10" height="1.10" fill="#ee2e2e"/>
<rect x="585.58" y="60.65" width="1.10" height="1.10" fill="#ee2e2e"/>
<rect x="590.85" y="62.05" width="1.10" height="1.10" fill="#ee2e2e"/>
<rect x="595.73" y="61.40" width="1.10" height="1.10" fill="#ee2e2e"/>
<rect x="559.57" y="56.08" width="1.10" height="1.10" fill="#ee2e2e"/>
<rect x="589.76" y="59.76" width="1.10" height="1.10" fill="#ee2e2e"/>
<rect x="580.03" y="60.20" width="1.10" height="1.10" fill="#ee2e2e"/>
<rect x="565.29" y="55.00" width="1.10" height="1.10" fill="#ee2e2e"/>
<rect x="594.55" y="62.79" width="1.10" height="1.10" fill="#ee2e2e"/>
<rect x="574.79" y="56.72" width="1.10" height="1.10" fill="#ee2e2e"/>
<rect x="570.07" y="59.29" width="1.10" height="1.10" fill="#ee2e2e"/>
<rect x="589.91" y="61.85" width="1.10" height="1.10" fill="#ee2e2e"/>
<rect x="571.10" y="57.78" width="1.10" height="1.10" fill="#ee2e2e"/>
<rect x="578.28" y="59.99" width="1.10" height="1.10" fill="#ee2e2e"/>
<rect x="573.45" y="59.53" width="1.10" height="1.10" fill="#ee2e2e"/>
<rect x="586.06" y="59.74" width="1.10" height="1.10" fill="#ee2e2e"/>
<rect x="581.27" y="60.73" width="1.10" height="1.10" fill="#ee2e2e"/>
<rect x="579.95" y="61.54" width="1.10" height="1.10" fill="#ee2e2e"/>
<rect x="559.43" y="57.27" width="1.10" height="1.10" fill="#ee2e2e"/>
<rect x="587.21" y="60.31" width="1.10" height="1.10" fill="#ee2e2e"/>
<rect x="592.55" y="60.62" width="1.10" height="1.10" fill="#ee2e2e"/>
<rect x="572.42" y="57.97" width="1.10" height="1.10" fill="#ee2e2e"/>
<rect x="591.51" y="61.06" width="1.10" height="1.10" fill="#ee2e2e"/>
<rect x="598.22" y="63.18" width="1.10" height="1.10" fill="#ee2e2e"/>
<rect x="560.93" y="55.36" width="1.10" height="1.10" fill="#ee2e2e"/>
<rect x="562.15" y="56.13" width="1.10" height="1.10" fill="#ee2e2e"/>
<rect x="571.80" y="54.17" width="1.10" height="1.10" fill="#ee2e2e"/>
<rect x="576.74" y="54.22" width="1.10" height="1.10" fill="#ee2e2e"/>
<rect x="594.87" y="63.07" width="1.10" height="1.10" fill="#ee2e2e"/>
<rect x="581.11" y="58.15" width="1.10" height="1.10" fill="#ee2e2e"/>
<rect x="571.27" y="56.78" width="1.10" height="1.10" fill="#ee2e2e"/>
<rect x="572.78" y="60.13" width="1.10" height="1.10" fill="#ee2e2e"/>
<rect x="596.73" y="63.08" width="1.10" height="1.10" fill="#ee2e2e"/>
<rect x="591.61" y="60.07" width="1.10" height="1.10" fill="#ee2e2e"/>
<rect x="564.01" y="54.41" width="1.10" height="1.10" fill="#ee2e2e"/>
<rect x="564.11" y="54.79" width="1.10" height="1.10" fill="#ee2e2e"/>
<rect x="597.90" y="63.43" width="1.10" height="1.10" fill="#ee2e2e"/>
<rect x="596.83" y="62.11" width="1.10" height="1.10" fill="#ee2e2e"/>
<rect x="567.87" y="51.48" width="1.10" height="1.10" fill="#ee2e2e"/>
<rect x="569.91" y="52.11" width="1.10" height="1.10" fill="#ee2e2e"/>
<rect x="579.91" y="56.80" width="1.10" height="1.10" fill="#ee2e2e"/>
<rect x="585.63" y="60.22" width="1.10" height="1.10" fill="#ee2e2e"/>
<rect x="582.63" y="57.59" width="1.10" height="1.10" fill="#ee2e2e"/>
<rect x="588.03" y="61.48" width="1.10" height="1.10" fill="#ee2e2e"/>
<rect x="587.22" y="60.22" width="1.10" height="1.10" fill="#ee2e2e"/>
<rect x="577.38" y="55.97" width="1.10" height="1.10" fill="#ee2e2e"/>
<rect x="560.73" y="56.28" width="1.10" height="1.10" fill="#ee2e2e"/>
<rect x="583.37" y="57.14" width="1.10" height="1.10" fill="#ee2e2e"/>
<rect x="592.95" y="62.96" width="1.10" height="1.10" fill="#ee2e2e"/>
<rect x="592.70" y="62.73" width="1.10" height="1.10" fill="#ee2e2e"/>
<rect x="578.34" y="55.43" width="1.10" height="1.10" fill="#ee2e2e"/>
<rect x="569.81" y="57.45" width="1.10" height="1.10" fill="#ee2e2e"/>
<rect x="597.85" y="62.22" width="1.10" height="1.10" fill="#ee2e2e"/>
<rect x="559.40" y="56.31" width="1.10" height="1.10" fill="#ee2e2e"/>
<rect x="572.88" y="57.15" width="1.10" height="1.10" fill="#ee2e2e"/>
<rect x="563.56" y="57.12" width="1.10" height="1.10" fill="#ee2e2e"/>
<rect x="572.44" y="59.53" width="1.10" height="1.10" fill="#ee2e2e"/>
<rect x="572.09" y="54.61" width="1.10" height="1.10" fill="#ee2e2e"/>
<rect x="566.06" y="58.04" width="1.10" height="1.10" fill="#ee2e2e"/>
<rect x="582.32" y="61.12" width="1.10" height="1.10" fill="#ee2e2e"/>
<rect x="561.63" y="56.19" width="1.10" height="1.10" fill="#ee2e2e"/>
<rect x="587.96" y="62.83" width="1.10" height="1.10" fill="#ee2e2e"/>
<rect x="595.96" y="61.59" width="1.10" height="1.10" fill="#ee2e2e"/>
<rect x="573.82" y="60.54" width="1.10" height="1.10" fill="#ee2e2e"/>
<rect x="580.17" y="61.57" width="1.10" height="1.10" fill="#ee2e2e"/>
<rect x="569.11" y="51.72" width="1.10" height="1.10" fill="#ee2e2e"/>
<rect x="596.34" y="62.05" width="1.10" height="1.10" fill="#ee2e2e"/>
<rect x="581.18" y="57.58" width="1.10" height="1.10" fill="#ee2e2e"/>
<rect x="581.85" y="61.76" width="1.10" height="1.10" fill="#ee2e2e"/>
<rect x="596.36" y="63.33" width="1.10" height="1.10" fill="#ee2e2e"/>
<rect x="569.24" y="57.93" width="1.10" height="1.10" fill="#ee2e2e"/>
<rect x="559.87" y="56.36" width="1.10" height="1.10" fill="#ee2e2e"/>
<rect x="596.25" y="62.01" width="1.10" height="1.10" fill="#ee2e2e"/>
<rect x="573.58" y="57.21" width="1.10" height="1.10" fill="#ee2e2e"/>
<rect x="568.45" y="56.83" width="1.10" height="1.10" fill="#ee2e2e"/>
<rect x="584.79" y="57.22" width="1.10" height="1.10" fill="#ee2e2e"/>
<rect x="595.31" y="61.30" width="1.10" height="1.10" fill="#ee2e2e"/>
<rect x="586.52" y="59.36" width="1.10" height="1.10" fill="#ee2e2e"/>
<rect x="564.79" y="52.38" width="1.10" height="1.10" fill="#ee2e2e"/>
<rect x="598.36" y="63.44" width="1.10" height="1.10" fill="#ee2e2e"/>
<rect x="577.18" y="59.71" width="1.10" height="1.10" fill="#ee2e2e"/>
<rect x="597.26" y="63.52" width="1.10" height="1.10" fill="#ee2e2e"/>
<rect x="580.08" y="56.66" width="1.10" height="1.10" fill="#ee2e2e"/>
<rect x="579.53" y="61.60" width="1.10" height="1.10" fill="#ee2e2e"/>
<rect x="587.85" y="61.35" width="1.10" height="1.10" fill="#ee2e2e"/>
<rect x="592.28" y="61.37" width="1.10" height="1.10" fill="#ee2e2e"/>
<rect x="581.12" y="61.01" width="1.10" height="1.10" fill="#ee2e2e"/>
<rect x="566.98" y="57.53" width="1.10" height="1.10" fill="#ee2e2e"/>
<rect x="560.12" y="56.56" width="1.10" height="1.10" fill="#ee2e2e"/>
<rect x="581.74" y="56.25" width="1.10" height="1.10" fill="#ee2e2e"/>
<rect x="595.38" y="62.19" width="1.10" height="1.10" fill="#ee2e2e"/>
<rect x="566.42" y="54.07" width="1.10" height="1.10" fill="#ee2e2e"/>
<rect x="582.39" y="58.39" width="1.10" height="1.10" fill="#ee2e2e"/>
<rect x="559.26" y="55.88" width="1.10" height="1.10" fill="#ee2e2e"/>
<rect x="587.18" y="58.53" width="1.10" height="1.10" fill="#ee2e2e"/>
<rect x="569.19" y="57.81" width="1.10" height="1.10" fill="#ee2e2e"/>
<rect x="593.01" y="62.97" width="1.10" height="1.10" fill="#ee2e2e"/>
<rect x="566.01" y="51.00" width="1.10" height="1.10" fill="#ee2e2e"/>
<rect x="588.79" y="61.27" width="1.10" height="1.10" fill="#ee2e2e"/>
<rect x="573.48" y="52.74" width="1.10" height="1.10" fill="#ee2e2e"/>
<rect x="576.11" y="55.23" width="1.10" height="1.10" fill="#ee2e2e"/>
<rect x="582.26" y="62.18" width="1.10" height="1.10" fill="#ee2e2e"/>
<rect x="567.38" y="51.77" width="1.10" height="1.10" fill="#ee2e2e"/>
<rect x="586.44" y="58.07" width="1.10" height="1.10" fill="#ee2e2e"/>
<rect x="567.91" y="54.64" width="1.10" height="1.10" fill="#ee2e2e"/>
<rect x="597.90" y="62.59" width="1.10" height="1.10" fill="#ee2e2e"/>
<rect x="571.56" y="55.83" width="1.10" height="1.10" fill="#ee2e2e"/>
<rect x="565.53" y="54.07" width="1.10" height="1.10" fill="#ee2e2e"/>
<rect x="586.67" y="59.29" width="1.10" height="1.10" fill="#ee2e2e"/>
<rect x="590.45" y="60.09" width="1.10" height="1.10" fill="#ee2e2e"/>
<rect x="563.14" y="56.13" width="1.10" height="1.10" fill="#ee2e2e"/>
<rect x="576.95" y="60.59" width="1.10" height="1.10" fill="#ee2e2e"/>
<rect x="563.28" y="56.66" width="1.10" height="1.10" fill="#ee2e2e"/>
<rect x="585.47" y="59.10" width="1.10" height="1.10" fill="#ee2e2e"/>
<rect x="564.19" y="55.82" width="1.10" height="1.10" fill="#ee2e2e"/>
<rect x="588.95" y="60.78" width="1.10" height="1.10" fill="#ee2e2e"/>
<rect x="577.72" y="59.03" width="1.10" height="1.10" fill="#ee2e2e"/>
<rect x="583.10" y="58.59" width="1.10" height="1.10" fill="#ee2e2e"/>
<rect x="566.46" y="54.46" width="1.10" height="1.10" fill="#ee2e2e"/>
<rect x="580.76" y="61.26" width="1.10" height="1.10" fill="#ee2e2e"/>
<rect x="598.25" y="63.04" width="1.10" height="1.10" fill="#ee2e2e"/>
<rect x="572.06" y="53.93" width="1.10" height="1.10" fill="#ee2e2e"/>
<rect x="583.93" y="60.85" width="1.10" height="1.10" fill="#ee2e2e"/>
<rect x="568.89" y="56.82" width="1.10" height="1.10" fill="#ee2e2e"/>
<rect x="598.42" y="62.83" width="1.10" height="1.10" fill="#ee2e2e"/>
<rect x="596.05" y="62.34" width="1.10" height="1.10" fill="#ee2e2e"/>
<rect x="584.78" y="61.79" width="1.10" height="1.10" fill="#ee2e2e"/>
<rect x="567.14" y="53.75" width="1.10" height="1.10" fill="#ee2e2e"/>
<rect x="597.83" y="62.14" width="1.10" height="1.10" fill="#ee2e2e"/>
<rect x="571.18" y="55.74" width="1.10" height="1.10" fill="#ee2e2e"/>
<rect x="588.42" y="61.31" width="1.10" height="1.10" fill="#ee2e2e"/>
<rect x="595.69" y="62.79" width="1.10" height="1.10" fill="#ee2e2e"/>
<rect x="559.21" y="55.86" width="1.10" height="1.10" fill="#ee2e2e"/>
<rect x="560.59" y="56.26" width="1.10" height="1.10" fill="#ee2e2e"/>
<rect x="560.21" y="56.53" width="1.10" height="1.10" fill="#ee2e2e"/>
<rect x="584.01" y="57.52" width="1.10" height="1.10" fill="#ee2e2e"/>
<rect x="592.80" y="61.51" width="1.10" height="1.10" fill="#ee2e2e"/>
<rect x="596.88" y="62.38" width="1.10" height="1.10" fill="#ee2e2e"/>
<rect x="583.51" y="59.50" width="1.10" height="1.10" fill="#ee2e2e"/>
<rect x="569.49" y="57.69" width="1.10" height="1.10" fill="#ee2e2e"/>
<rect x="559.31" y="56.15" width="1.10" height="1.10" fill="#ee2e2e"/>
<rect x="571.75" y="59.16" width="1.10" height="1.10" fill="#ee2e2e"/>
<rect x="578.82" y="54.56" width="1.10" height="1.10" fill="#ee2e2e"/>
<rect x="570.90" y="56.74" width="1.10" height="1.10" fill="#ee2e2e"/>
<rect x="590.94" y="59.97" width="1.10" height="1.10" fill="#ee2e2e"/>
<rect x="589.78" y="60.69" width="1.10" height="1.10" fill="#ee2e2e"/>
<rect x="579.75" y="57.62" width="1.10" height="1.10" fill="#ee2e2e"/>
<rect x="576.38" y="61.01" width="1.10" height="1.10" fill="#ee2e2e"/>
<rect x="595.27" y="63.31" width="1.10" height="1.10" fill="#ee2e2e"/>
<rect x="588.06" y="61.54" width="1.10" height="1.10" fill="#ee2e2e"/>
<path d="M559.70,74.30 L566.50,72.10 L572.00,70.50 L583.00,68.30 L595.00,68.10 L601.00,68.10 L601.00,69.50 L595.00,73.00 L583.00,76.00 L572.00,78.70 L566.50,78.00 L559.70,75.30Z" fill="#3c3cf2"/>
<rect x="565.00" y="71.82" width="1.10" height="1.10" fill="#3c3cf2"/>
<rect x="585.20" y="67.62" width="1.10" height="1.10" fill="#3c3cf2"/>
<rect x="570.18" y="78.17" width="1.10" height="1.10" fill="#3c3cf2"/>
<rect x="573.21" y="69.59" width="1.10" height="1.10" fill="#3c3cf2"/>
<rect x="561.94" y="76.51" width="1.10" height="1.10" fill="#3c3cf2"/>
<rect x="559.33" y="73.67" width="1.10" height="1.10" fill="#3c3cf2"/>
<rect x="563.76" y="76.95" width="1.10" height="1.10" fill="#3c3cf2"/>
<rect x="591.85" y="67.50" width="1.10" height="1.10" fill="#3c3cf2"/>
<rect x="559.70" y="73.55" width="1.10" height="1.10" fill="#3c3cf2"/>
<rect x="580.47" y="68.03" width="1.10" height="1.10" fill="#3c3cf2"/>
<rect x="594.54" y="67.55" width="1.10" height="1.10" fill="#3c3cf2"/>
<rect x="599.74" y="67.55" width="1.10" height="1.10" fill="#3c3cf2"/>
<rect x="591.00" y="75.18" width="1.10" height="1.10" fill="#3c3cf2"/>
<rect x="591.14" y="74.32" width="1.10" height="1.10" fill="#3c3cf2"/>
<rect x="598.94" y="67.55" width="1.10" height="1.10" fill="#3c3cf2"/>
<rect x="572.56" y="69.67" width="1.10" height="1.10" fill="#3c3cf2"/>
<rect x="599.98" y="67.54" width="1.10" height="1.10" fill="#3c3cf2"/>
<rect x="600.34" y="67.55" width="1.10" height="1.10" fill="#3c3cf2"/>
<rect x="588.14" y="74.11" width="1.10" height="1.10" fill="#3c3cf2"/>
<rect x="576.22" y="77.85" width="1.10" height="1.10" fill="#3c3cf2"/>
<rect x="588.17" y="74.58" width="1.10" height="1.10" fill="#3c3cf2"/>
<rect x="589.60" y="75.04" width="1.10" height="1.10" fill="#3c3cf2"/>
<rect x="576.01" y="77.42" width="1.10" height="1.10" fill="#3c3cf2"/>
<rect x="572.01" y="69.82" width="1.10" height="1.10" fill="#3c3cf2"/>
<rect x="561.16" y="75.61" width="1.10" height="1.10" fill="#3c3cf2"/>
<rect x="567.65" y="78.80" width="1.10" height="1.10" fill="#3c3cf2"/>
<rect x="593.26" y="72.87" width="1.10" height="1.10" fill="#3c3cf2"/>
<rect x="575.45" y="69.05" width="1.10" height="1.10" fill="#3c3cf2"/>
<rect x="565.29" y="78.28" width="1.10" height="1.10" fill="#3c3cf2"/>
<rect x="566.26" y="71.36" width="1.10" height="1.10" fill="#3c3cf2"/>
<rect x="580.19" y="68.17" width="1.10" height="1.10" fill="#3c3cf2"/>
<rect x="579.05" y="77.42" width="1.10" height="1.10" fill="#3c3cf2"/>
<rect x="583.00" y="76.71" width="1.10" height="1.10" fill="#3c3cf2"/>
<rect x="574.28" y="69.32" width="1.10" height="1.10" fill="#3c3cf2"/>
<rect x="599.64" y="69.53" width="1.10" height="1.10" fill="#3c3cf2"/>
<rect x="568.33" y="78.05" width="1.10" height="1.10" fill="#3c3cf2"/>
<rect x="564.56" y="71.99" width="1.10" height="1.10" fill="#3c3cf2"/>
<rect x="569.84" y="70.42" width="1.10" height="1.10" fill="#3c3cf2"/>
<rect x="567.63" y="71.06" width="1.10" height="1.10" fill="#3c3cf2"/>
<rect x="572.54" y="69.67" width="1.10" height="1.10" fill="#3c3cf2"/>
<rect x="574.01" y="69.29" width="1.10" height="1.10" fill="#3c3cf2"/>
<rect x="589.64" y="67.62" width="1.10" height="1.10" fill="#3c3cf2"/>
<rect x="559.27" y="73.70" width="1.10" height="1.10" fill="#3c3cf2"/>
<rect x="567.63" y="78.20" width="1.10" height="1.10" fill="#3c3cf2"/>
<rect x="595.97" y="67.50" width="1.10" height="1.10" fill="#3c3cf2"/>
<rect x="564.00" y="72.18" width="1.10" height="1.10" fill="#3c3cf2"/>
<rect x="584.68" y="75.74" width="1.10" height="1.10" fill="#3c3cf2"/>
<rect x="574.76" y="69.21" width="1.10" height="1.10" fill="#3c3cf2"/>
<rect x="559.82" y="75.40" width="1.10" height="1.10" fill="#3c3cf2"/>
<rect x="562.29" y="76.75" width="1.10" height="1.10" fill="#3c3cf2"/>
<rect x="566.25" y="71.43" width="1.10" height="1.10" fill="#3c3cf2"/>
<rect x="592.98" y="74.09" width="1.10" height="1.10" fill="#3c3cf2"/>
<rect x="574.90" y="77.38" width="1.10" height="1.10" fill="#3c3cf2"/>
<rect x="586.96" y="67.59" width="1.10" height="1.10" fill="#3c3cf2"/>
<rect x="574.92" y="69.24" width="1.10" height="1.10" fill="#3c3cf2"/>
<rect x="564.77" y="71.90" width="1.10" height="1.10" fill="#3c3cf2"/>
<rect x="585.59" y="76.34" width="1.10" height="1.10" fill="#3c3cf2"/>
<rect x="590.23" y="67.60" width="1.10" height="1.10" fill="#3c3cf2"/>
<rect x="581.23" y="67.99" width="1.10" height="1.10" fill="#3c3cf2"/>
<rect x="562.33" y="72.70" width="1.10" height="1.10" fill="#3c3cf2"/>
<rect x="595.76" y="72.02" width="1.10" height="1.10" fill="#3c3cf2"/>
<rect x="583.58" y="75.50" width="1.10" height="1.10" fill="#3c3cf2"/>
<rect x="560.25" y="73.37" width="1.10" height="1.10" fill="#3c3cf2"/>
<rect x="562.47" y="76.33" width="1.10" height="1.10" fill="#3c3cf2"/>
<rect x="569.08" y="78.64" width="1.10" height="1.10" fill="#3c3cf2"/>
<rect x="598.23" y="67.54" width="1.10" height="1.10" fill="#3c3cf2"/>
<rect x="576.63" y="78.42" width="1.10" height="1.10" fill="#3c3cf2"/>
<rect x="590.93" y="75.15" width="1.10" height="1.10" fill="#3c3cf2"/>
<rect x="588.76" y="75.89" width="1.10" height="1.10" fill="#3c3cf2"/>
<rect x="590.54" y="67.58" width="1.10" height="1.10" fill="#3c3cf2"/>
<rect x="582.63" y="67.73" width="1.10" height="1.10" fill="#3c3cf2"/>
<rect x="568.28" y="79.22" width="1.10" height="1.10" fill="#3c3cf2"/>
<rect x="579.36" y="68.34" width="1.10" height="1.10" fill="#3c3cf2"/>
<rect x="600.02" y="69.64" width="1.10" height="1.10" fill="#3c3cf2"/>
<rect x="592.19" y="67.56" width="1.10" height="1.10" fill="#3c3cf2"/>
<rect x="597.99" y="67.52" width="1.10" height="1.10" fill="#3c3cf2"/>
<rect x="573.91" y="69.37" width="1.10" height="1.10" fill="#3c3cf2"/>
<rect x="571.88" y="69.85" width="1.10" height="1.10" fill="#3c3cf2"/>
<rect x="579.14" y="68.37" width="1.10" height="1.10" fill="#3c3cf2"/>
<rect x="573.53" y="78.58" width="1.10" height="1.10" fill="#3c3cf2"/>
<rect x="581.04" y="68.02" width="1.10" height="1.10" fill="#3c3cf2"/>
<rect x="582.25" y="75.63" width="1.10" height="1.10" fill="#3c3cf2"/>
<rect x="570.77" y="70.10" width="1.10" height="1.10" fill="#3c3cf2"/>
<rect x="579.52" y="77.60" width="1.10" height="1.10" fill="#3c3cf2"/>
<rect x="559.37" y="73.68" width="1.10" height="1.10" fill="#3c3cf2"/>
<rect x="575.65" y="69.04" width="1.10" height="1.10" fill="#3c3cf2"/>
<rect x="599.03" y="67.49" width="1.10" height="1.10" fill="#3c3cf2"/>
<rect x="585.66" y="75.66" width="1.10" height="1.10" fill="#3c3cf2"/>
<rect x="593.36" y="67.44" width="1.10" height="1.10" fill="#3c3cf2"/>
<rect x="581.22" y="76.29" width="1.10" height="1.10" fill="#3c3cf2"/>
<rect x="561.90" y="76.28" width="1.10" height="1.10" fill="#3c3cf2"/>
<rect x="570.86" y="79.07" width="1.10" height="1.10" fill="#3c3cf2"/>
<rect x="574.38" y="69.32" width="1.10" height="1.10" fill="#3c3cf2"/>
<rect x="570.34" y="70.24" width="1.10" height="1.10" fill="#3c3cf2"/>
<rect x="599.66" y="67.54" width="1.10" height="1.10" fill="#3c3cf2"/>
<rect x="562.25" y="72.68" width="1.10" height="1.10" fill="#3c3cf2"/>
<rect x="591.49" y="73.29" width="1.10" height="1.10" fill="#3c3cf2"/>
<rect x="595.90" y="67.53" width="1.10" height="1.10" fill="#3c3cf2"/>
<rect x="592.78" y="67.53" width="1.10" height="1.10" fill="#3c3cf2"/>
<rect x="569.80" y="70.38" width="1.10" height="1.10" fill="#3c3cf2"/>
<rect x="579.65" y="68.23" width="1.10" height="1.10" fill="#3c3cf2"/>
<rect x="582.85" y="76.98" width="1.10" height="1.10" fill="#3c3cf2"/>
<rect x="565.38" y="71.71" width="1.10" height="1.10" fill="#3c3cf2"/>
<rect x="570.03" y="78.06" width="1.10" height="1.10" fill="#3c3cf2"/>
<rect x="589.03" y="75.00" width="1.10" height="1.10" fill="#3c3cf2"/>
<rect x="598.54" y="70.54" width="1.10" height="1.10" fill="#3c3cf2"/>
<rect x="561.23" y="75.72" width="1.10" height="1.10" fill="#3c3cf2"/>
<rect x="564.81" y="77.42" width="1.10" height="1.10" fill="#3c3cf2"/>
<rect x="583.21" y="67.70" width="1.10" height="1.10" fill="#3c3cf2"/>
<rect x="588.81" y="73.94" width="1.10" height="1.10" fill="#3c3cf2"/>
<rect x="571.91" y="80.12" width="1.10" height="1.10" fill="#3c3cf2"/>
<rect x="599.83" y="67.53" width="1.10" height="1.10" fill="#3c3cf2"/>
<rect x="575.20" y="69.20" width="1.10" height="1.10" fill="#3c3cf2"/>
<rect x="596.53" y="67.49" width="1.10" height="1.10" fill="#3c3cf2"/>
<rect x="580.05" y="76.84" width="1.10" height="1.10" fill="#3c3cf2"/>
<rect x="563.47" y="72.32" width="1.10" height="1.10" fill="#3c3cf2"/>
<rect x="580.53" y="76.22" width="1.10" height="1.10" fill="#3c3cf2"/>
<rect x="599.82" y="67.53" width="1.10" height="1.10" fill="#3c3cf2"/>
<rect x="584.38" y="67.72" width="1.10" height="1.10" fill="#3c3cf2"/>
<rect x="597.37" y="67.51" width="1.10" height="1.10" fill="#3c3cf2"/>
<rect x="595.39" y="67.53" width="1.10" height="1.10" fill="#3c3cf2"/>
<rect x="562.29" y="72.73" width="1.10" height="1.10" fill="#3c3cf2"/>
<rect x="599.29" y="67.55" width="1.10" height="1.10" fill="#3c3cf2"/>
<rect x="580.45" y="76.19" width="1.10" height="1.10" fill="#3c3cf2"/>
<rect x="563.20" y="76.80" width="1.10" height="1.10" fill="#3c3cf2"/>
<rect x="593.45" y="72.90" width="1.10" height="1.10" fill="#3c3cf2"/>
<rect x="564.12" y="72.11" width="1.10" height="1.10" fill="#3c3cf2"/>
<rect x="585.44" y="74.92" width="1.10" height="1.10" fill="#3c3cf2"/>
<rect x="599.16" y="70.13" width="1.10" height="1.10" fill="#3c3cf2"/>
<rect x="590.63" y="67.54" width="1.10" height="1.10" fill="#3c3cf2"/>
<rect x="600.27" y="69.19" width="1.10" height="1.10" fill="#3c3cf2"/>
<rect x="564.51" y="77.18" width="1.10" height="1.10" fill="#3c3cf2"/>
<rect x="584.93" y="74.95" width="1.10" height="1.10" fill="#3c3cf2"/>
<rect x="599.32" y="67.55" width="1.10" height="1.10" fill="#3c3cf2"/>
<rect x="570.06" y="79.24" width="1.10" height="1.10" fill="#3c3cf2"/>
<rect x="596.19" y="72.04" width="1.10" height="1.10" fill="#3c3cf2"/>
<rect x="584.28" y="67.64" width="1.10" height="1.10" fill="#3c3cf2"/>
<rect x="590.99" y="73.94" width="1.10" height="1.10" fill="#3c3cf2"/>
<rect x="563.85" y="72.22" width="1.10" height="1.10" fill="#3c3cf2"/>
<rect x="563.56" y="72.31" width="1.10" height="1.10" fill="#3c3cf2"/>
<rect x="592.04" y="74.18" width="1.10" height="1.10" fill="#3c3cf2"/>
<rect x="583.15" y="67.59" width="1.10" height="1.10" fill="#3c3cf2"/>
<rect x="582.50" y="76.12" width="1.10" height="1.10" fill="#3c3cf2"/>
<rect x="583.00" y="76.04" width="1.10" height="1.10" fill="#3c3cf2"/>
<rect x="585.52" y="67.65" width="1.10" height="1.10" fill="#3c3cf2"/>
<rect x="578.70" y="76.79" width="1.10" height="1.10" fill="#3c3cf2"/>
<rect x="559.99" y="75.23" width="1.10" height="1.10" fill="#3c3cf2"/>
<rect x="593.04" y="67.51" width="1.10" height="1.10" fill="#3c3cf2"/>
<rect x="585.16" y="67.70" width="1.10" height="1.10" fill="#3c3cf2"/>
<rect x="581.14" y="67.92" width="1.10" height="1.10" fill="#3c3cf2"/>
<rect x="590.75" y="70.49" width="1.10" height="1.10" fill="#1010e8"/>
<rect x="573.83" y="71.28" width="1.10" height="1.10" fill="#1010e8"/>
<rect x="593.71" y="72.54" width="1.10" height="1.10" fill="#1010e8"/>
<rect x="597.90" y="68.01" width="1.10" height="1.10" fill="#1010e8"/>
<rect x="562.09" y="74.90" width="1.10" height="1.10" fill="#1010e8"/>
<rect x="560.17" y="75.26" width="1.10" height="1.10" fill="#1010e8"/>
<rect x="587.20" y="69.73" width="1.10" height="1.10" fill="#1010e8"/>
<rect x="577.38" y="74.36" width="1.10" height="1.10" fill="#1010e8"/>
<rect x="565.77" y="73.58" width="1.10" height="1.10" fill="#1010e8"/>
<rect x="591.65" y="71.56" width="1.10" height="1.10" fill="#1010e8"/>
<rect x="583.32" y="68.11" width="1.10" height="1.10" fill="#1010e8"/>
<rect x="568.12" y="72.42" width="1.10" height="1.10" fill="#1010e8"/>
<rect x="560.45" y="74.71" width="1.10" height="1.10" fill="#1010e8"/>
<rect x="582.81" y="75.21" width="1.10" height="1.10" fill="#1010e8"/>
<rect x="582.05" y="75.34" width="1.10" height="1.10" fill="#1010e8"/>
<rect x="578.51" y="72.63" width="1.10" height="1.10" fill="#1010e8"/>
<rect x="570.77" y="73.79" width="1.10" height="1.10" fill="#1010e8"/>
<rect x="597.84" y="68.96" width="1.10" height="1.10" fill="#1010e8"/>
<rect x="559.24" y="73.95" width="1.10" height="1.10" fill="#1010e8"/>
<rect x="567.32" y="75.31" width="1.10" height="1.10" fill="#1010e8"/>
<rect x="580.18" y="71.89" width="1.10" height="1.10" fill="#1010e8"/>
<rect x="597.44" y="70.22" width="1.10" height="1.10" fill="#1010e8"/>
<rect x="562.75" y="72.22" width="1.10" height="1.10" fill="#1010e8"/>
<rect x="588.09" y="71.56" width="1.10" height="1.10" fill="#1010e8"/>
<rect x="586.10" y="71.12" width="1.10" height="1.10" fill="#1010e8"/>
<rect x="560.63" y="74.16" width="1.10" height="1.10" fill="#1010e8"/>
<rect x="593.65" y="70.73" width="1.10" height="1.10" fill="#1010e8"/>
<rect x="560.97" y="73.07" width="1.10" height="1.10" fill="#1010e8"/>
<rect x="596.51" y="69.61" width="1.10" height="1.10" fill="#1010e8"/>
<rect x="565.94" y="75.92" width="1.10" height="1.10" fill="#1010e8"/>
<rect x="597.34" y="70.69" width="1.10" height="1.10" fill="#1010e8"/>
<rect x="585.80" y="73.59" width="1.10" height="1.10" fill="#1010e8"/>
<rect x="562.77" y="74.21" width="1.10" height="1.10" fill="#1010e8"/>
<rect x="592.62" y="69.24" width="1.10" height="1.10" fill="#1010e8"/>
<rect x="565.09" y="76.77" width="1.10" height="1.10" fill="#1010e8"/>
<rect x="588.25" y="67.21" width="1.10" height="1.10" fill="#1010e8"/>
<rect x="561.78" y="74.57" width="1.10" height="1.10" fill="#1010e8"/>
<rect x="598.55" y="69.22" width="1.10" height="1.10" fill="#1010e8"/>
<rect x="595.33" y="67.62" width="1.10" height="1.10" fill="#1010e8"/>
<rect x="582.94" y="68.80" width="1.10" height="1.10" fill="#1010e8"/>
<rect x="572.86" y="70.53" width="1.10" height="1.10" fill="#1010e8"/>
<rect x="578.31" y="68.49" width="1.10" height="1.10" fill="#1010e8"/>
<rect x="586.27" y="72.23" width="1.10" height="1.10" fill="#1010e8"/>
<rect x="596.52" y="70.66" width="1.10" height="1.10" fill="#1010e8"/>
<rect x="562.27" y="75.93" width="1.10" height="1.10" fill="#1010e8"/>
<rect x="581.57" y="75.61" width="1.10" height="1.10" fill="#1010e8"/>
<rect x="579.47" y="68.56" width="1.10" height="1.10" fill="#1010e8"/>
<rect x="588.23" y="68.43" width="1.10" height="1.10" fill="#1010e8"/>
<rect x="599.79" y="68.55" width="1.10" height="1.10" fill="#1010e8"/>
<rect x="596.41" y="69.39" width="1.10" height="1.10" fill="#1010e8"/>
<rect x="572.63" y="75.27" width="1.10" height="1.10" fill="#1010e8"/>
<rect x="588.46" y="70.51" width="1.10" height="1.10" fill="#1010e8"/>
<rect x="570.53" y="73.42" width="1.10" height="1.10" fill="#1010e8"/>
<rect x="588.67" y="68.80" width="1.10" height="1.10" fill="#1010e8"/>
<rect x="565.67" y="74.38" width="1.10" height="1.10" fill="#1010e8"/>
<rect x="586.33" y="67.71" width="1.10" height="1.10" fill="#1010e8"/>
<rect x="570.36" y="78.26" width="1.10" height="1.10" fill="#1010e8"/>
<rect x="570.18" y="76.51" width="1.10" height="1.10" fill="#1010e8"/>
<rect x="571.77" y="70.17" width="1.10" height="1.10" fill="#1010e8"/>
<rect x="579.23" y="75.59" width="1.10" height="1.10" fill="#1010e8"/>
<rect x="591.25" y="67.42" width="1.10" height="1.10" fill="#1010e8"/>
<rect x="588.20" y="71.72" width="1.10" height="1.10" fill="#1010e8"/>
<rect x="579.07" y="73.81" width="1.10" height="1.10" fill="#1010e8"/>
<rect x="580.70" y="69.21" width="1.10" height="1.10" fill="#1010e8"/>
<rect x="587.87" y="68.12" width="1.10" height="1.10" fill="#1010e8"/>
<rect x="571.95" y="77.17" width="1.10" height="1.10" fill="#1010e8"/>
<rect x="582.62" y="71.67" width="1.10" height="1.10" fill="#1010e8"/>
<rect x="588.47" y="70.74" width="1.10" height="1.10" fill="#1010e8"/>
<rect x="575.01" y="73.73" width="1.10" height="1.10" fill="#1010e8"/>
<rect x="560.07" y="73.89" width="1.10" height="1.10" fill="#1010e8"/>
<rect x="560.78" y="75.88" width="1.10" height="1.10" fill="#1010e8"/>
<rect x="596.65" y="70.07" width="1.10" height="1.10" fill="#1010e8"/>
<rect x="565.68" y="76.87" width="1.10" height="1.10" fill="#1010e8"/>
<rect x="570.84" y="76.83" width="1.10" height="1.10" fill="#1010e8"/>
<rect x="586.04" y="71.95" width="1.10" height="1.10" fill="#1010e8"/>
<rect x="589.77" y="69.00" width="1.10" height="1.10" fill="#1010e8"/>
<rect x="593.60" y="70.37" width="1.10" height="1.10" fill="#1010e8"/>
<rect x="590.42" y="72.86" width="1.10" height="1.10" fill="#1010e8"/>
<rect x="569.66" y="73.44" width="1.10" height="1.10" fill="#1010e8"/>
<rect x="574.08" y="69.62" width="1.10" height="1.10" fill="#1010e8"/>
<rect x="595.31" y="70.75" width="1.10" height="1.10" fill="#1010e8"/>
<rect x="579.38" y="72.68" width="1.10" height="1.10" fill="#1010e8"/>
<rect x="595.48" y="67.42" width="1.10" height="1.10" fill="#1010e8"/>
<rect x="573.93" y="75.19" width="1.10" height="1.10" fill="#1010e8"/>
<rect x="581.23" y="71.85" width="1.10" height="1.10" fill="#1010e8"/>
<rect x="569.84" y="71.82" width="1.10" height="1.10" fill="#1010e8"/>
<rect x="586.83" y="69.79" width="1.10" height="1.10" fill="#1010e8"/>
<rect x="597.87" y="70.57" width="1.10" height="1.10" fill="#1010e8"/>
<rect x="599.22" y="67.91" width="1.10" height="1.10" fill="#1010e8"/>
<rect x="580.40" y="68.58" width="1.10" height="1.10" fill="#1010e8"/>
<rect x="573.99" y="69.62" width="1.10" height="1.10" fill="#1010e8"/>
<rect x="579.87" y="76.20" width="1.10" height="1.10" fill="#1010e8"/>
<rect x="590.64" y="69.58" width="1.10" height="1.10" fill="#1010e8"/>
<rect x="570.56" y="77.93" width="1.10" height="1.10" fill="#1010e8"/>
<rect x="561.33" y="75.56" width="1.10" height="1.10" fill="#1010e8"/>
<rect x="594.50" y="67.45" width="1.10" height="1.10" fill="#1010e8"/>
<rect x="598.43" y="69.36" width="1.10" height="1.10" fill="#1010e8"/>
<rect x="575.21" y="72.54" width="1.10" height="1.10" fill="#1010e8"/>
<rect x="584.28" y="71.58" width="1.10" height="1.10" fill="#1010e8"/>
<rect x="594.99" y="72.05" width="1.10" height="1.10" fill="#1010e8"/>
<rect x="572.64" y="69.29" width="1.10" height="1.10" fill="#1010e8"/>
<rect x="591.31" y="71.40" width="1.10" height="1.10" fill="#1010e8"/>
<rect x="586.20" y="67.77" width="1.10" height="1.10" fill="#1010e8"/>
<rect x="562.28" y="76.06" width="1.10" height="1.10" fill="#1010e8"/>
<rect x="574.18" y="73.19" width="1.10" height="1.10" fill="#1010e8"/>
<rect x="599.35" y="67.64" width="1.10" height="1.10" fill="#1010e8"/>
<rect x="585.38" y="67.69" width="1.10" height="1.10" fill="#1010e8"/>
<rect x="582.33" y="73.71" width="1.10" height="1.10" fill="#1010e8"/>
<rect x="565.65" y="76.23" width="1.10" height="1.10" fill="#1010e8"/>
<rect x="599.15" y="69.66" width="1.10" height="1.10" fill="#1010e8"/>
<rect x="591.80" y="73.27" width="1.10" height="1.10" fill="#1010e8"/>
<rect x="588.75" y="71.10" width="1.10" height="1.10" fill="#1010e8"/>
<rect x="593.20" y="72.06" width="1.10" height="1.10" fill="#1010e8"/>
<rect x="585.13" y="72.61" width="1.10" height="1.10" fill="#1010e8"/>
<rect x="566.52" y="73.30" width="1.10" height="1.10" fill="#1010e8"/>
<rect x="572.59" y="77.08" width="1.10" height="1.10" fill="#1010e8"/>
<rect x="591.42" y="69.02" width="1.10" height="1.10" fill="#1010e8"/>
<rect x="600.20" y="67.20" width="1.10" height="1.10" fill="#1010e8"/>
<rect x="561.70" y="73.68" width="1.10" height="1.10" fill="#1010e8"/>
<rect x="562.34" y="76.30" width="1.10" height="1.10" fill="#1010e8"/>
<rect x="573.96" y="72.47" width="1.10" height="1.10" fill="#1010e8"/>
<rect x="594.46" y="70.19" width="1.10" height="1.10" fill="#1010e8"/>
<rect x="585.19" y="70.75" width="1.10" height="1.10" fill="#1010e8"/>
<rect x="578.15" y="76.62" width="1.10" height="1.10" fill="#1010e8"/>
<rect x="570.60" y="74.34" width="1.10" height="1.10" fill="#1010e8"/>
<rect x="578.91" y="69.21" width="1.10" height="1.10" fill="#1010e8"/>
<rect x="565.19" y="74.51" width="1.10" height="1.10" fill="#1010e8"/>
<rect x="592.14" y="69.87" width="1.10" height="1.10" fill="#1010e8"/>
<rect x="561.59" y="75.97" width="1.10" height="1.10" fill="#1010e8"/>
<rect x="564.83" y="76.80" width="1.10" height="1.10" fill="#1010e8"/>
<rect x="561.02" y="74.82" width="1.10" height="1.10" fill="#1010e8"/>
<rect x="565.18" y="72.95" width="1.10" height="1.10" fill="#1010e8"/>
<rect x="576.56" y="75.20" width="1.10" height="1.10" fill="#1010e8"/>
<rect x="577.12" y="72.06" width="1.10" height="1.10" fill="#1010e8"/>
<rect x="575.77" y="73.28" width="1.10" height="1.10" fill="#1010e8"/>
<rect x="570.74" y="78.14" width="1.10" height="1.10" fill="#1010e8"/>
<rect x="567.01" y="71.71" width="1.10" height="1.10" fill="#1010e8"/>
<rect x="581.81" y="70.45" width="1.10" height="1.10" fill="#1010e8"/>
<rect x="588.94" y="67.43" width="1.10" height="1.10" fill="#1010e8"/>
<rect x="587.09" y="69.95" width="1.10" height="1.10" fill="#1010e8"/>
<rect x="597.45" y="68.30" width="1.10" height="1.10" fill="#1010e8"/>
<rect x="577.03" y="71.17" width="1.10" height="1.10" fill="#1010e8"/>
<rect x="581.18" y="69.96" width="1.10" height="1.10" fill="#1010e8"/>
<rect x="586.81" y="70.34" width="1.10" height="1.10" fill="#1010e8"/>
<rect x="588.40" y="69.28" width="1.10" height="1.10" fill="#1010e8"/>
<rect x="578.01" y="73.10" width="1.10" height="1.10" fill="#1010e8"/>
<rect x="588.82" y="71.85" width="1.10" height="1.10" fill="#1010e8"/>
<rect x="576.87" y="69.13" width="1.10" height="1.10" fill="#1010e8"/>
<rect x="563.79" y="72.53" width="1.10" height="1.10" fill="#1010e8"/>
<rect x="566.74" y="72.15" width="1.10" height="1.10" fill="#1010e8"/>
<rect x="586.49" y="69.83" width="1.10" height="1.10" fill="#1010e8"/>
<rect x="596.65" y="68.13" width="1.10" height="1.10" fill="#1010e8"/>
<rect x="569.30" y="71.59" width="1.10" height="1.10" fill="#1010e8"/>
<rect x="565.11" y="75.62" width="1.10" height="1.10" fill="#1010e8"/>
<rect x="583.04" y="69.39" width="1.10" height="1.10" fill="#1010e8"/>
<rect x="592.62" y="71.36" width="1.10" height="1.10" fill="#1010e8"/>
<rect x="576.85" y="73.81" width="1.10" height="1.10" fill="#1010e8"/>
<rect x="586.27" y="70.63" width="1.10" height="1.10" fill="#1010e8"/>
<rect x="562.94" y="73.75" width="1.10" height="1.10" fill="#1010e8"/>
<rect x="598.22" y="68.43" width="1.10" height="1.10" fill="#1010e8"/>
<rect x="585.54" y="67.90" width="1.10" height="1.10" fill="#1010e8"/>
<rect x="591.12" y="72.88" width="1.10" height="1.10" fill="#1010e8"/>
<rect x="574.56" y="72.20" width="1.10" height="1.10" fill="#1010e8"/>
<rect x="580.33" y="69.89" width="1.10" height="1.10" fill="#1010e8"/>
<rect x="567.82" y="71.49" width="1.10" height="1.10" fill="#1010e8"/>
<rect x="587.52" y="70.99" width="1.10" height="1.10" fill="#1010e8"/>
<rect x="598.64" y="70.38" width="1.10" height="1.10" fill="#1010e8"/>
<rect x="595.25" y="72.18" width="1.10" height="1.10" fill="#1010e8"/>
<rect x="593.77" y="67.21" width="1.10" height="1.10" fill="#1010e8"/>
<rect x="564.50" y="77.23" width="1.10" height="1.10" fill="#1010e8"/>
<rect x="595.24" y="70.40" width="1.10" height="1.10" fill="#1010e8"/>
<rect x="584.74" y="70.77" width="1.10" height="1.10" fill="#1010e8"/>
<rect x="576.69" y="69.71" width="1.10" height="1.10" fill="#1010e8"/>
<rect x="581.79" y="69.78" width="1.10" height="1.10" fill="#1010e8"/>
<rect x="564.18" y="76.52" width="1.10" height="1.10" fill="#1010e8"/>
<rect x="582.88" y="74.78" width="1.10" height="1.10" fill="#1010e8"/>
<rect x="571.29" y="74.76" width="1.10" height="1.10" fill="#1010e8"/>
<rect x="570.58" y="77.04" width="1.10" height="1.10" fill="#1010e8"/>
<rect x="567.78" y="75.48" width="1.10" height="1.10" fill="#1010e8"/>
<rect x="582.07" y="70.17" width="1.10" height="1.10" fill="#1010e8"/>
<rect x="562.45" y="74.31" width="1.10" height="1.10" fill="#1010e8"/>
<rect x="580.75" y="74.77" width="1.10" height="1.10" fill="#1010e8"/>
<rect x="567.54" y="71.99" width="1.10" height="1.10" fill="#1010e8"/>
<rect x="571.77" y="76.76" width="1.10" height="1.10" fill="#1010e8"/>
<rect x="568.74" y="75.35" width="1.10" height="1.10" fill="#1010e8"/>
<rect x="560.48" y="73.06" width="1.10" height="1.10" fill="#1010e8"/>
<rect x="588.40" y="70.78" width="1.10" height="1.10" fill="#1010e8"/>
<rect x="563.80" y="74.28" width="1.10" height="1.10" fill="#1010e8"/>
<rect x="597.99" y="68.55" width="1.10" height="1.10" fill="#1010e8"/>
<rect x="582.16" y="70.97" width="1.10" height="1.10" fill="#1010e8"/>
<rect x="580.02" y="68.12" width="1.10" height="1.10" fill="#1010e8"/>
<rect x="595.61" y="70.08" width="1.10" height="1.10" fill="#1010e8"/>
<rect x="573.49" y="71.63" width="1.10" height="1.10" fill="#1010e8"/>
<rect x="566.87" y="77.58" width="1.10" height="1.10" fill="#1010e8"/>
<rect x="593.88" y="69.34" width="1.10" height="1.10" fill="#1010e8"/>
<rect x="584.06" y="71.82" width="1.10" height="1.10" fill="#1010e8"/>
<rect x="567.42" y="70.87" width="1.10" height="1.10" fill="#1010e8"/>
<rect x="589.52" y="68.28" width="1.10" height="1.10" fill="#1010e8"/>
<rect x="582.48" y="67.40" width="1.10" height="1.10" fill="#1010e8"/>
<rect x="560.05" y="73.39" width="1.10" height="1.10" fill="#1010e8"/>
<rect x="586.14" y="71.99" width="1.10" height="1.10" fill="#1010e8"/>
<rect x="600.08" y="68.78" width="1.10" height="1.10" fill="#1010e8"/>
<rect x="580.71" y="67.71" width="1.10" height="1.10" fill="#1010e8"/>
<rect x="598.72" y="68.72" width="1.10" height="1.10" fill="#1010e8"/>
<rect x="594.58" y="67.29" width="1.10" height="1.10" fill="#1010e8"/>
<rect x="593.64" y="69.96" width="1.10" height="1.10" fill="#1010e8"/>
<rect x="568.10" y="73.59" width="1.10" height="1.10" fill="#1010e8"/>
<rect x="562.25" y="74.71" width="1.10" height="1.10" fill="#1010e8"/>
<rect x="568.20" y="75.90" width="1.10" height="1.10" fill="#1010e8"/>
<rect x="566.32" y="75.81" width="1.10" height="1.10" fill="#1010e8"/>
<rect x="584.65" y="73.04" width="1.10" height="1.10" fill="#1010e8"/>
<rect x="598.40" y="68.11" width="1.10" height="1.10" fill="#1010e8"/>
<rect x="587.36" y="70.17" width="1.10" height="1.10" fill="#1010e8"/>
<rect x="596.07" y="71.14" width="1.10" height="1.10" fill="#1010e8"/>
<rect x="590.69" y="71.18" width="1.10" height="1.10" fill="#1010e8"/>
<rect x="569.95" y="77.67" width="1.10" height="1.10" fill="#1010e8"/>
<rect x="599.16" y="70.04" width="1.10" height="1.10" fill="#1010e8"/>
<rect x="573.12" y="76.62" width="1.10" height="1.10" fill="#1010e8"/>
<rect x="587.19" y="73.55" width="1.10" height="1.10" fill="#1010e8"/>
<rect x="592.28" y="70.00" width="1.10" height="1.10" fill="#1010e8"/>
<rect x="575.47" y="75.82" width="1.10" height="1.10" fill="#1010e8"/>
<rect x="586.18" y="71.41" width="1.10" height="1.10" fill="#1010e8"/>
<rect x="595.23" y="67.22" width="1.10" height="1.10" fill="#1010e8"/>
<rect x="559.70" y="74.19" width="1.10" height="1.10" fill="#1010e8"/>
<rect x="563.17" y="76.07" width="1.10" height="1.10" fill="#1010e8"/>
<rect x="562.79" y="76.15" width="1.10" height="1.10" fill="#1010e8"/>
<rect x="568.44" y="71.39" width="1.10" height="1.10" fill="#1010e8"/>
<rect x="590.28" y="71.78" width="1.10" height="1.10" fill="#1010e8"/>
<rect x="576.10" y="73.88" width="1.10" height="1.10" fill="#1010e8"/>
<rect x="581.99" y="75.61" width="1.10" height="1.10" fill="#1010e8"/>
<rect x="580.11" y="72.47" width="1.10" height="1.10" fill="#1010e8"/>
<rect x="578.23" y="71.76" width="1.10" height="1.10" fill="#1010e8"/>
<rect x="587.65" y="68.00" width="1.10" height="1.10" fill="#1010e8"/>
<rect x="587.74" y="74.09" width="1.10" height="1.10" fill="#1010e8"/>
<rect x="590.58" y="70.81" width="1.10" height="1.10" fill="#1010e8"/>
<rect x="573.75" y="69.88" width="1.10" height="1.10" fill="#1010e8"/>
<rect x="562.96" y="74.58" width="1.10" height="1.10" fill="#1010e8"/>
<rect x="595.50" y="71.63" width="1.10" height="1.10" fill="#1010e8"/>
<rect x="566.72" y="76.24" width="1.10" height="1.10" fill="#1010e8"/>
<rect x="592.49" y="70.13" width="1.10" height="1.10" fill="#1010e8"/>
<rect x="594.60" y="68.14" width="1.10" height="1.10" fill="#1010e8"/>
<rect x="573.01" y="73.83" width="1.10" height="1.10" fill="#1010e8"/>
<rect x="589.16" y="70.34" width="1.10" height="1.10" fill="#1010e8"/>
<rect x="571.63" y="77.38" width="1.10" height="1.10" fill="#1010e8"/>
<rect x="575.34" y="72.46" width="1.10" height="1.10" fill="#1010e8"/>
<rect x="568.39" y="74.17" width="1.10" height="1.10" fill="#1010e8"/>
<rect x="588.32" y="69.80" width="1.10" height="1.10" fill="#1010e8"/>
<rect x="586.50" y="71.01" width="1.10" height="1.10" fill="#1010e8"/>
<rect x="559.64" y="75.36" width="1.10" height="1.10" fill="#1010e8"/>
<rect x="571.05" y="74.50" width="1.10" height="1.10" fill="#1010e8"/>
<rect x="598.75" y="67.75" width="1.10" height="1.10" fill="#1010e8"/>
<rect x="561.79" y="73.20" width="1.10" height="1.10" fill="#1010e8"/>
<rect x="565.47" y="76.78" width="1.10" height="1.10" fill="#1010e8"/>
<rect x="580.51" y="68.01" width="1.10" height="1.10" fill="#1010e8"/>
<rect x="570.37" y="74.24" width="1.10" height="1.10" fill="#1010e8"/>
<rect x="566.35" y="73.10" width="1.10" height="1.10" fill="#1010e8"/>
<rect x="596.51" y="69.14" width="1.10" height="1.10" fill="#1010e8"/>
<rect x="568.78" y="75.06" width="1.10" height="1.10" fill="#1010e8"/>
<rect x="563.81" y="74.53" width="1.10" height="1.10" fill="#1010e8"/>
<rect x="585.91" y="67.89" width="1.10" height="1.10" fill="#1010e8"/>
<rect x="581.80" y="70.08" width="1.10" height="1.10" fill="#1010e8"/>
<rect x="589.91" y="71.41" width="1.10" height="1.10" fill="#1010e8"/>
<rect x="596.71" y="69.83" width="1.10" height="1.10" fill="#1010e8"/>
<rect x="566.71" y="72.17" width="1.10" height="1.10" fill="#1010e8"/>
<rect x="588.21" y="73.11" width="1.10" height="1.10" fill="#1010e8"/>
<rect x="561.73" y="74.02" width="1.10" height="1.10" fill="#1010e8"/>
<rect x="570.83" y="73.81" width="1.10" height="1.10" fill="#1010e8"/>
<rect x="595.18" y="70.11" width="1.10" height="1.10" fill="#1010e8"/>
<rect x="589.89" y="72.45" width="1.10" height="1.10" fill="#1010e8"/>
<rect x="570.62" y="75.17" width="1.10" height="1.10" fill="#1010e8"/>
<rect x="574.64" y="73.11" width="1.10" height="1.10" fill="#1010e8"/>
<rect x="581.06" y="73.37" width="1.10" height="1.10" fill="#1010e8"/>
<rect x="566.10" y="76.84" width="1.10" height="1.10" fill="#1010e8"/>
<rect x="565.80" y="73.22" width="1.10" height="1.10" fill="#1010e8"/>
<rect x="594.22" y="72.92" width="1.10" height="1.10" fill="#1010e8"/>
<rect x="574.30" y="77.52" width="1.10" height="1.10" fill="#1010e8"/>
<rect x="560.70" y="75.72" width="1.10" height="1.10" fill="#1010e8"/>
<rect x="567.45" y="70.88" width="1.10" height="1.10" fill="#1010e8"/>
<rect x="590.62" y="68.21" width="1.10" height="1.10" fill="#1010e8"/>
<rect x="590.21" y="67.17" width="1.10" height="1.10" fill="#1010e8"/>
<rect x="564.27" y="73.63" width="1.10" height="1.10" fill="#1010e8"/>
<rect x="562.64" y="74.25" width="1.10" height="1.10" fill="#1010e8"/>
<rect x="573.44" y="75.78" width="1.10" height="1.10" fill="#1010e8"/>
<rect x="579.51" y="76.37" width="1.10" height="1.10" fill="#1010e8"/>
<rect x="593.99" y="68.09" width="1.10" height="1.10" fill="#1010e8"/>
<rect x="597.04" y="70.98" width="1.10" height="1.10" fill="#1010e8"/>
<rect x="582.48" y="71.83" width="1.10" height="1.10" fill="#1010e8"/>
<rect x="566.17" y="73.23" width="1.10" height="1.10" fill="#1010e8"/>
<rect x="568.24" y="71.92" width="1.10" height="1.10" fill="#1010e8"/>
<rect x="584.51" y="69.88" width="1.10" height="1.10" fill="#1010e8"/>
<rect x="590.85" y="70.97" width="1.10" height="1.10" fill="#1010e8"/>
<rect x="593.32" y="67.61" width="1.10" height="1.10" fill="#1010e8"/>
<rect x="594.14" y="70.09" width="1.10" height="1.10" fill="#1010e8"/>
<rect x="585.26" y="69.12" width="1.10" height="1.10" fill="#1010e8"/>
<rect x="587.90" y="70.18" width="1.10" height="1.10" fill="#1010e8"/>
<rect x="588.95" y="71.34" width="1.10" height="1.10" fill="#1010e8"/>
<rect x="564.94" y="73.23" width="1.10" height="1.10" fill="#1010e8"/>
<rect x="590.21" y="67.23" width="1.10" height="1.10" fill="#1010e8"/>
<rect x="585.24" y="71.59" width="1.10" height="1.10" fill="#1010e8"/>
<rect x="588.67" y="69.53" width="1.10" height="1.10" fill="#1010e8"/>
<rect x="571.40" y="46.90" width="1.20" height="1.20" fill="#f23a3a"/>
<rect x="566.40" y="48.40" width="1.20" height="1.20" fill="#f23a3a"/>
<rect x="574.40" y="48.00" width="1.20" height="1.20" fill="#f23a3a"/>
<rect x="584.40" y="51.90" width="1.20" height="1.20" fill="#f23a3a"/>
<rect x="589.40" y="54.90" width="1.20" height="1.20" fill="#f23a3a"/>
<rect x="597.40" y="56.60" width="1.20" height="1.20" fill="#f23a3a"/>
<line x1="543.90" y1="65.50" x2="620.00" y2="65.50" stroke="#000" stroke-width="1.3" stroke-dasharray="1.3 1.0"/>
<line x1="543.50" y1="24.60" x2="543.50" y2="103.10" stroke="#231f20" stroke-width="1"/>
<line x1="541.40" y1="24.50" x2="543.90" y2="24.50" stroke="#231f20" stroke-width="1"/>
<text x="539.70" y="26.40" font-size="9" text-anchor="end" font-weight="normal" fill="#231f20">8</text>
<line x1="541.40" y1="46.50" x2="543.90" y2="46.50" stroke="#231f20" stroke-width="1"/>
<text x="539.70" y="48.40" font-size="9" text-anchor="end" font-weight="normal" fill="#231f20">4</text>
<line x1="541.40" y1="65.50" x2="543.90" y2="65.50" stroke="#231f20" stroke-width="1"/>
<text x="539.70" y="67.30" font-size="9" text-anchor="end" font-weight="normal" fill="#231f20">0</text>
<line x1="541.40" y1="84.50" x2="543.90" y2="84.50" stroke="#231f20" stroke-width="1"/>
<text x="539.70" y="86.50" font-size="9" text-anchor="end" font-weight="normal" fill="#231f20">-4</text>
<line x1="541.40" y1="103.50" x2="543.90" y2="103.50" stroke="#231f20" stroke-width="1"/>
<text x="539.70" y="104.90" font-size="9" text-anchor="end" font-weight="normal" fill="#231f20">-8</text>
<line x1="543.90" y1="103.50" x2="620.60" y2="103.50" stroke="#231f20" stroke-width="1"/>
<line x1="544.50" y1="103.10" x2="544.50" y2="105.60" stroke="#231f20" stroke-width="1"/>
<text x="544.35" y="114.90" font-size="9" text-anchor="middle" font-weight="normal" fill="#231f20">-5</text>
<line x1="559.50" y1="103.10" x2="559.50" y2="105.60" stroke="#231f20" stroke-width="1"/>
<text x="559.60" y="114.90" font-size="9" text-anchor="middle" font-weight="normal" fill="#231f20">0</text>
<line x1="574.50" y1="103.10" x2="574.50" y2="105.60" stroke="#231f20" stroke-width="1"/>
<text x="574.85" y="114.90" font-size="9" text-anchor="middle" font-weight="normal" fill="#231f20">5</text>
<line x1="590.50" y1="103.10" x2="590.50" y2="105.60" stroke="#231f20" stroke-width="1"/>
<text x="590.10" y="114.90" font-size="9" text-anchor="middle" font-weight="normal" fill="#231f20">10</text>
<line x1="605.50" y1="103.10" x2="605.50" y2="105.60" stroke="#231f20" stroke-width="1"/>
<text x="605.35" y="114.90" font-size="9" text-anchor="middle" font-weight="normal" fill="#231f20">15</text>
<line x1="620.50" y1="103.10" x2="620.50" y2="105.60" stroke="#231f20" stroke-width="1"/>
<text x="620.60" y="114.90" font-size="9" text-anchor="middle" font-weight="normal" fill="#231f20">20</text>
<text x="529.50" y="61.20" font-size="9" text-anchor="middle" font-weight="normal" fill="#231f20" transform="rotate(-90 529.50 61.20)">Fold difference [log<tspan font-size="5.5" dy="1.8">2</tspan><tspan dy="-1.8">]</tspan></text>
<circle cx="594.90" cy="101.20" r="1.3" fill="#1a1aff"/>
<text x="597.10" y="99.50" font-size="9.5" text-anchor="start" font-weight="normal" font-style="italic" fill="#231f20">Hnmpr</text>
<text x="585.40" y="9.50" font-size="9.7" text-anchor="middle" font-weight="normal" fill="#231f20"><tspan font-style="italic">P</tspan> &lt; 0.05</text>
<text x="589.50" y="126.60" font-size="9" text-anchor="middle" font-weight="normal" fill="#231f20">Base mean [log<tspan font-size="5.5" dy="1.8">2</tspan><tspan dy="-1.8">]</tspan></text>
<text x="588.40" y="137.70" font-size="9" text-anchor="middle" font-weight="normal" fill="#231f20">Axons</text>
<circle cx="619.10" cy="24.10" r="2.2" fill="#a0a0a0"/>
<text x="624.70" y="26.80" font-size="9" text-anchor="start" font-weight="normal" fill="#231f20">Unchanged</text>
<circle cx="619.10" cy="36.60" r="2.2" fill="#ff0000"/>
<text x="624.70" y="38.20" font-size="9" text-anchor="start" font-weight="normal" fill="#231f20">Upregulated</text>
<circle cx="619.10" cy="47.80" r="2.2" fill="#0000ff"/>
<text x="624.70" y="49.70" font-size="9" text-anchor="start" font-weight="normal" fill="#231f20">Downregulated</text>
<circle cx="39.10" cy="213.40" r="10.4" fill="#7cc1e6"/>
<circle cx="78.40" cy="206.70" r="31.2" fill="rgba(160,160,160,0.6)"/>
<text x="39.00" y="216.50" font-size="9.2" text-anchor="middle" font-weight="normal" fill="#231f20">83</text>
<text x="48.50" y="216.50" font-size="9.2" text-anchor="middle" font-weight="normal" fill="#231f20">3</text>
<text x="76.60" y="216.50" font-size="9.2" text-anchor="middle" font-weight="normal" fill="#231f20">779</text>
<text x="21.50" y="206.50" font-size="9" text-anchor="middle" font-weight="normal" fill="#231f20" transform="rotate(-90 21.50 206.50)">Downregulated</text>
<circle cx="42.70" cy="287.30" r="14.6" fill="#7cc1e6"/>
<circle cx="81.30" cy="281.00" r="28" fill="rgba(160,160,160,0.6)"/>
<text x="41.00" y="291.20" font-size="9.2" text-anchor="middle" font-weight="normal" fill="#231f20">107</text>
<text x="55.80" y="291.20" font-size="9.2" text-anchor="middle" font-weight="normal" fill="#231f20">5</text>
<text x="81.60" y="291.20" font-size="9.2" text-anchor="middle" font-weight="normal" fill="#231f20">407</text>
<text x="22.00" y="281.40" font-size="9" text-anchor="middle" font-weight="normal" fill="#231f20" transform="rotate(-90 22.00 281.40)">Upregulated</text>
<circle cx="18.10" cy="329.20" r="2.1" fill="#7cc1e6"/>
<text x="23.80" y="331.80" font-size="9" text-anchor="start" font-weight="normal" fill="#231f20">Somatodendritic</text>
<circle cx="18.10" cy="343.30" r="2.1" fill="#c8c8c8"/>
<text x="23.60" y="346.30" font-size="9" text-anchor="start" font-weight="normal" fill="#231f20">Axons</text>
<line x1="177.50" y1="213.80" x2="177.50" y2="292.20" stroke="#231f20" stroke-width="1"/>
<line x1="175.10" y1="213.50" x2="177.70" y2="213.50" stroke="#231f20" stroke-width="1"/>
<text x="172.10" y="215.20" font-size="9.3" text-anchor="end" font-weight="normal" fill="#231f20">15</text>
<line x1="175.10" y1="233.50" x2="177.70" y2="233.50" stroke="#231f20" stroke-width="1"/>
<text x="172.10" y="234.40" font-size="9.3" text-anchor="end" font-weight="normal" fill="#231f20">10</text>
<line x1="175.10" y1="253.50" x2="177.70" y2="253.50" stroke="#231f20" stroke-width="1"/>
<text x="172.10" y="254.60" font-size="9.3" text-anchor="end" font-weight="normal" fill="#231f20">5</text>
<line x1="175.10" y1="272.50" x2="177.70" y2="272.50" stroke="#231f20" stroke-width="1"/>
<text x="172.10" y="274.10" font-size="9.3" text-anchor="end" font-weight="normal" fill="#231f20">0</text>
<line x1="175.10" y1="292.50" x2="177.70" y2="292.50" stroke="#231f20" stroke-width="1"/>
<text x="172.10" y="293.60" font-size="9.3" text-anchor="end" font-weight="normal" fill="#231f20">-5</text>
<line x1="177.70" y1="292.50" x2="248.70" y2="292.50" stroke="#231f20" stroke-width="1"/>
<text x="213.30" y="302.90" font-size="9" text-anchor="middle" font-weight="normal" fill="#231f20">Somatodendritic</text>
<text x="155.30" y="251.60" font-size="9" text-anchor="middle" font-weight="normal" fill="#231f20" transform="rotate(-90 155.30 251.60)">iCLIP counts [log<tspan font-size="5.5" dy="1.8">2</tspan><tspan dy="-1.8">]</tspan></text>
<line x1="189.50" y1="246.20" x2="189.50" y2="251.40" stroke="#231f20" stroke-width="1"/>
<line x1="189.50" y1="266.60" x2="189.50" y2="272.60" stroke="#231f20" stroke-width="1"/>
<line x1="186.60" y1="246.50" x2="193.10" y2="246.50" stroke="#231f20" stroke-width="1"/>
<line x1="186.60" y1="272.50" x2="193.10" y2="272.50" stroke="#231f20" stroke-width="1"/>
<rect x="182.20" y="251.40" width="15.30" height="15.20" fill="#a3a3a5" stroke="#231f20" stroke-width="1"/>
<line x1="182.20" y1="257.50" x2="197.50" y2="257.50" stroke="#231f20" stroke-width="1.2"/>
<path d="M188.70,246.20 L191.00,246.20 L190.40,221.00 L189.30,221.00Z" fill="#231f20"/>
<line x1="213.50" y1="257.10" x2="213.50" y2="260.20" stroke="#231f20" stroke-width="1"/>
<line x1="213.50" y1="272.50" x2="213.50" y2="272.50" stroke="#231f20" stroke-width="1"/>
<line x1="209.90" y1="257.50" x2="216.40" y2="257.50" stroke="#231f20" stroke-width="1"/>
<line x1="209.90" y1="272.50" x2="216.40" y2="272.50" stroke="#231f20" stroke-width="1"/>
<rect x="205.50" y="260.20" width="15.30" height="12.40" fill="#f04040" stroke="#231f20" stroke-width="1"/>
<line x1="205.50" y1="269.50" x2="220.80" y2="269.50" stroke="#231f20" stroke-width="1.2"/>
<rect x="212.70" y="240.70" width="1.20" height="1.00" fill="#231f20" stroke="none" stroke-width="0"/>
<rect x="212.70" y="248.00" width="1.20" height="1.00" fill="#231f20" stroke="none" stroke-width="0"/>
<rect x="212.70" y="250.30" width="1.20" height="1.00" fill="#231f20" stroke="none" stroke-width="0"/>
<rect x="212.70" y="252.50" width="1.20" height="1.00" fill="#231f20" stroke="none" stroke-width="0"/>
<line x1="236.50" y1="224.70" x2="236.50" y2="257.60" stroke="#231f20" stroke-width="1"/>
<line x1="236.50" y1="266.60" x2="236.50" y2="272.60" stroke="#231f20" stroke-width="1"/>
<line x1="233.55" y1="224.50" x2="240.05" y2="224.50" stroke="#231f20" stroke-width="1"/>
<line x1="233.55" y1="272.50" x2="240.05" y2="272.50" stroke="#231f20" stroke-width="1"/>
<rect x="228.80" y="257.60" width="16.00" height="9.00" fill="#0a3cf0" stroke="#231f20" stroke-width="1"/>
<line x1="228.80" y1="259.50" x2="244.80" y2="259.50" stroke="#231f20" stroke-width="1.2"/>
<line x1="191.80" y1="207.50" x2="238.40" y2="207.50" stroke="#231f20" stroke-width="1"/>
<text x="214.30" y="205.80" font-size="9" text-anchor="middle" font-weight="normal" fill="#231f20">ns</text>
<line x1="191.00" y1="219.50" x2="211.30" y2="219.50" stroke="#231f20" stroke-width="1"/>
<text x="180.20" y="219.00" font-size="8.4" text-anchor="start" font-weight="normal" fill="#231f20"><tspan font-style="italic">P</tspan> &lt; 0.0001</text>
<line x1="297.50" y1="214.90" x2="297.50" y2="291.80" stroke="#231f20" stroke-width="1"/>
<line x1="295.30" y1="214.50" x2="297.90" y2="214.50" stroke="#231f20" stroke-width="1"/>
<text x="292.30" y="217.10" font-size="9.3" text-anchor="end" font-weight="normal" fill="#231f20">15</text>
<line x1="295.30" y1="234.50" x2="297.90" y2="234.50" stroke="#231f20" stroke-width="1"/>
<text x="292.30" y="236.40" font-size="9.3" text-anchor="end" font-weight="normal" fill="#231f20">10</text>
<line x1="295.30" y1="253.50" x2="297.90" y2="253.50" stroke="#231f20" stroke-width="1"/>
<text x="292.30" y="255.40" font-size="9.3" text-anchor="end" font-weight="normal" fill="#231f20">5</text>
<line x1="295.30" y1="272.50" x2="297.90" y2="272.50" stroke="#231f20" stroke-width="1"/>
<text x="292.30" y="275.00" font-size="9.3" text-anchor="end" font-weight="normal" fill="#231f20">0</text>
<line x1="295.30" y1="291.50" x2="297.90" y2="291.50" stroke="#231f20" stroke-width="1"/>
<text x="292.30" y="294.00" font-size="9.3" text-anchor="end" font-weight="normal" fill="#231f20">-5</text>
<line x1="297.90" y1="291.50" x2="368.90" y2="291.50" stroke="#231f20" stroke-width="1"/>
<text x="334.00" y="302.90" font-size="9" text-anchor="middle" font-weight="normal" fill="#231f20">Axons</text>
<text x="275.00" y="251.60" font-size="9" text-anchor="middle" font-weight="normal" fill="#231f20" transform="rotate(-90 275.00 251.60)">iCLIP counts [log<tspan font-size="5.5" dy="1.8">2</tspan><tspan dy="-1.8">]</tspan></text>
<line x1="309.50" y1="246.90" x2="309.50" y2="252.30" stroke="#231f20" stroke-width="1"/>
<line x1="309.50" y1="266.50" x2="309.50" y2="272.80" stroke="#231f20" stroke-width="1"/>
<line x1="306.50" y1="246.50" x2="313.00" y2="246.50" stroke="#231f20" stroke-width="1"/>
<line x1="306.50" y1="272.50" x2="313.00" y2="272.50" stroke="#231f20" stroke-width="1"/>
<rect x="302.00" y="252.30" width="15.50" height="14.20" fill="#a3a3a5" stroke="#231f20" stroke-width="1"/>
<line x1="302.00" y1="257.50" x2="317.50" y2="257.50" stroke="#231f20" stroke-width="1.2"/>
<path d="M308.50,246.90 L311.00,246.90 L310.30,221.60 L309.20,221.60Z" fill="#231f20"/>
<line x1="333.50" y1="251.00" x2="333.50" y2="255.70" stroke="#231f20" stroke-width="1"/>
<line x1="333.50" y1="268.40" x2="333.50" y2="272.80" stroke="#231f20" stroke-width="1"/>
<line x1="329.75" y1="251.50" x2="336.25" y2="251.50" stroke="#231f20" stroke-width="1"/>
<line x1="329.75" y1="272.50" x2="336.25" y2="272.50" stroke="#231f20" stroke-width="1"/>
<rect x="325.40" y="255.70" width="15.20" height="12.70" fill="#f04040" stroke="#231f20" stroke-width="1"/>
<line x1="325.40" y1="263.50" x2="340.60" y2="263.50" stroke="#231f20" stroke-width="1.2"/>
<rect x="332.40" y="241.30" width="1.20" height="1.10" fill="#231f20" stroke="none" stroke-width="0"/>
<rect x="332.20" y="243.50" width="1.60" height="1.10" fill="#231f20" stroke="none" stroke-width="0"/>
<rect x="331.90" y="245.80" width="2.20" height="1.10" fill="#231f20" stroke="none" stroke-width="0"/>
<rect x="331.80" y="248.10" width="2.40" height="1.10" fill="#231f20" stroke="none" stroke-width="0"/>
<line x1="356.50" y1="242.10" x2="356.50" y2="247.50" stroke="#231f20" stroke-width="1"/>
<line x1="356.50" y1="263.30" x2="356.50" y2="272.80" stroke="#231f20" stroke-width="1"/>
<line x1="353.45" y1="242.50" x2="359.95" y2="242.50" stroke="#231f20" stroke-width="1"/>
<line x1="353.45" y1="272.50" x2="359.95" y2="272.50" stroke="#231f20" stroke-width="1"/>
<rect x="349.10" y="247.50" width="15.20" height="15.80" fill="#0a3cf0" stroke="#231f20" stroke-width="1"/>
<line x1="349.10" y1="254.50" x2="364.30" y2="254.50" stroke="#231f20" stroke-width="1.2"/>
<rect x="356.10" y="224.80" width="1.20" height="1.00" fill="#231f20" stroke="none" stroke-width="0"/>
<rect x="356.10" y="227.10" width="1.20" height="1.00" fill="#231f20" stroke="none" stroke-width="0"/>
<rect x="356.10" y="229.40" width="1.20" height="1.00" fill="#231f20" stroke="none" stroke-width="0"/>
<rect x="356.10" y="231.70" width="1.20" height="1.00" fill="#231f20" stroke="none" stroke-width="0"/>
<rect x="356.10" y="234.00" width="1.20" height="1.00" fill="#231f20" stroke="none" stroke-width="0"/>
<rect x="356.10" y="236.50" width="1.20" height="1.00" fill="#231f20" stroke="none" stroke-width="0"/>
<rect x="356.10" y="239.00" width="1.20" height="1.00" fill="#231f20" stroke="none" stroke-width="0"/>
<line x1="311.00" y1="208.50" x2="358.00" y2="208.50" stroke="#231f20" stroke-width="1"/>
<text x="315.90" y="206.90" font-size="8.4" text-anchor="start" font-weight="normal" fill="#231f20"><tspan font-style="italic">P</tspan> = 0.0002</text>
<line x1="310.10" y1="219.50" x2="331.80" y2="219.50" stroke="#231f20" stroke-width="1"/>
<text x="300.30" y="217.80" font-size="8.1" text-anchor="start" font-weight="normal" fill="#231f20"><tspan font-style="italic">P</tspan> = 0.0001</text>
<rect x="170.20" y="314.30" width="3.80" height="5.10" fill="#9d9d9d" stroke="none" stroke-width="0"/>
<text x="176.90" y="320.00" font-size="9" text-anchor="start" font-weight="normal" fill="#231f20">Unchanged</text>
<rect x="234.00" y="314.30" width="4.00" height="5.10" fill="#f04040" stroke="none" stroke-width="0"/>
<text x="240.60" y="320.00" font-size="9" text-anchor="start" font-weight="normal" fill="#231f20">Upregulated</text>
<rect x="300.40" y="314.30" width="3.50" height="5.10" fill="#0a3cf0" stroke="none" stroke-width="0"/>
<text x="306.90" y="319.80" font-size="9" text-anchor="start" font-weight="normal" fill="#231f20">Downregulated</text>
<text x="490.00" y="188.60" font-size="9" text-anchor="middle" font-weight="normal" fill="#231f20">Correlation of axonal</text>
<text x="490.00" y="198.30" font-size="9" text-anchor="middle" font-weight="normal" fill="#231f20">proteome &amp; transcriptome</text>
<line x1="444.50" y1="215.70" x2="444.50" y2="292.00" stroke="#777" stroke-width="1.1"/>
<line x1="440.50" y1="216.50" x2="444.50" y2="216.50" stroke="#777" stroke-width="1"/>
<text x="436.50" y="218.00" font-size="9.5" text-anchor="end" font-weight="normal" fill="#231f20">2</text>
<line x1="440.50" y1="231.50" x2="444.50" y2="231.50" stroke="#777" stroke-width="1"/>
<text x="436.50" y="233.10" font-size="9.5" text-anchor="end" font-weight="normal" fill="#231f20">0</text>
<line x1="440.50" y1="246.50" x2="444.50" y2="246.50" stroke="#777" stroke-width="1"/>
<text x="436.50" y="248.20" font-size="9.5" text-anchor="end" font-weight="normal" fill="#231f20">-2</text>
<line x1="440.50" y1="261.50" x2="444.50" y2="261.50" stroke="#777" stroke-width="1"/>
<text x="436.50" y="263.30" font-size="9.5" text-anchor="end" font-weight="normal" fill="#231f20">-4</text>
<line x1="440.50" y1="276.50" x2="444.50" y2="276.50" stroke="#777" stroke-width="1"/>
<text x="436.50" y="278.40" font-size="9.5" text-anchor="end" font-weight="normal" fill="#231f20">-6</text>
<line x1="440.50" y1="291.50" x2="444.50" y2="291.50" stroke="#777" stroke-width="1"/>
<text x="436.50" y="293.50" font-size="9.5" text-anchor="end" font-weight="normal" fill="#231f20">-8</text>
<line x1="444.50" y1="292.50" x2="516.70" y2="292.50" stroke="#231f20" stroke-width="1"/>
<line x1="444.50" y1="292.00" x2="444.50" y2="295.00" stroke="#231f20" stroke-width="1"/>
<text x="444.55" y="304.50" font-size="9.5" text-anchor="middle" font-weight="normal" fill="#231f20">-3</text>
<line x1="460.50" y1="292.00" x2="460.50" y2="295.00" stroke="#231f20" stroke-width="1"/>
<text x="460.50" y="304.50" font-size="9.5" text-anchor="middle" font-weight="normal" fill="#231f20">-2</text>
<line x1="476.50" y1="292.00" x2="476.50" y2="295.00" stroke="#231f20" stroke-width="1"/>
<text x="476.45" y="304.50" font-size="9.5" text-anchor="middle" font-weight="normal" fill="#231f20">-1</text>
<line x1="492.50" y1="292.00" x2="492.50" y2="295.00" stroke="#231f20" stroke-width="1"/>
<text x="492.40" y="304.50" font-size="9.5" text-anchor="middle" font-weight="normal" fill="#231f20">0</text>
<line x1="508.50" y1="292.00" x2="508.50" y2="295.00" stroke="#231f20" stroke-width="1"/>
<text x="508.35" y="304.50" font-size="9.5" text-anchor="middle" font-weight="normal" fill="#231f20">1</text>
<line x1="444.50" y1="231.10" x2="520.00" y2="231.10" stroke="#999" stroke-width="0.6" stroke-dasharray="2 1.5"/>
<line x1="492.60" y1="214.20" x2="492.60" y2="292.00" stroke="#999" stroke-width="0.6" stroke-dasharray="2 1.5"/>
<circle cx="509.00" cy="228.50" r="1.0" fill="#f7941d"/>
<circle cx="479.20" cy="233.70" r="1.0" fill="#f7941d"/>
<circle cx="477.10" cy="237.50" r="1.0" fill="#f7941d"/>
<circle cx="478.00" cy="238.70" r="1.0" fill="#f7941d"/>
<circle cx="478.60" cy="240.50" r="1.0" fill="#f7941d"/>
<circle cx="484.80" cy="241.00" r="1.0" fill="#f7941d"/>
<circle cx="474.00" cy="288.80" r="1.0" fill="#f7941d"/>
<text x="508.10" y="226.80" font-size="6.9" text-anchor="start" font-weight="normal" fill="#231f20">Gemin5</text>
<text x="453.50" y="237.20" font-size="6.9" text-anchor="start" font-weight="normal" fill="#231f20">Ppp1cb</text>
<text x="481.00" y="237.20" font-size="6.9" text-anchor="start" font-weight="normal" fill="#231f20">Nipsnap2</text>
<text x="456.40" y="242.70" font-size="6.9" text-anchor="start" font-weight="normal" fill="#231f20">Bmpr2</text>
<text x="462.90" y="247.50" font-size="6.9" text-anchor="start" font-weight="normal" fill="#231f20">Fsd1l</text>
<text x="482.10" y="248.60" font-size="6.9" text-anchor="start" font-weight="normal" fill="#231f20">Pgm2l1</text>
<text x="450.30" y="287.20" font-size="9" text-anchor="start" font-weight="normal" font-style="italic" fill="#231f20">Hnmpr</text>
<text x="478.80" y="319.20" font-size="9" text-anchor="middle" font-weight="normal" fill="#231f20">Fold difference [log<tspan font-size="5.5" dy="1.8">2</tspan><tspan dy="-1.8">]</tspan></text>
<text x="478.30" y="328.80" font-size="9" text-anchor="middle" font-weight="normal" fill="#231f20">Proteomics</text>
<text x="412.30" y="250.30" font-size="9" text-anchor="middle" font-weight="normal" fill="#231f20" transform="rotate(-90 412.30 250.30)">Fold difference [log<tspan font-size="5.5" dy="1.8">2</tspan><tspan dy="-1.8">]</tspan></text>
<text x="422.80" y="253.20" font-size="9" text-anchor="middle" font-weight="normal" fill="#231f20" transform="rotate(-90 422.80 253.20)">RNA-seq</text>
<circle cx="606.70" cy="212.40" r="20.2" fill="#c3c3c3"/>
<circle cx="653.40" cy="206.50" r="30.4" fill="rgba(220,140,145,0.5)"/>
<text x="608.20" y="212.60" font-size="9.2" text-anchor="middle" font-weight="normal" fill="#231f20">338</text>
<text x="625.50" y="212.60" font-size="9.2" text-anchor="middle" font-weight="normal" fill="#231f20">6</text>
<text x="653.40" y="212.60" font-size="9.2" text-anchor="middle" font-weight="normal" fill="#231f20">776</text>
<text x="579.80" y="214.20" font-size="9" text-anchor="middle" font-weight="normal" fill="#231f20" transform="rotate(-90 579.80 214.20)">Downregulated</text>
<circle cx="605.00" cy="289.90" r="17.8" fill="#c3c3c3"/>
<circle cx="651.00" cy="284.00" r="32" fill="rgba(220,140,145,0.5)"/>
<text x="603.30" y="291.90" font-size="9.2" text-anchor="middle" font-weight="normal" fill="#231f20">124</text>
<text x="620.90" y="291.90" font-size="9.2" text-anchor="middle" font-weight="normal" fill="#231f20">1</text>
<text x="650.50" y="291.90" font-size="9.2" text-anchor="middle" font-weight="normal" fill="#231f20">411</text>
<text x="579.60" y="286.50" font-size="9" text-anchor="middle" font-weight="normal" fill="#231f20" transform="rotate(-90 579.60 286.50)">Upregulated</text>
<circle cx="576.80" cy="330.70" r="2.1" fill="#efc3c6"/>
<text x="582.70" y="333.10" font-size="9" text-anchor="start" font-weight="normal" fill="#231f20">RNA-seq data</text>
<circle cx="576.80" cy="345.20" r="2.1" fill="#c8c8c8"/>
<text x="582.70" y="347.60" font-size="9" text-anchor="start" font-weight="normal" fill="#231f20">Proteomics data</text>
</svg></body></html>
